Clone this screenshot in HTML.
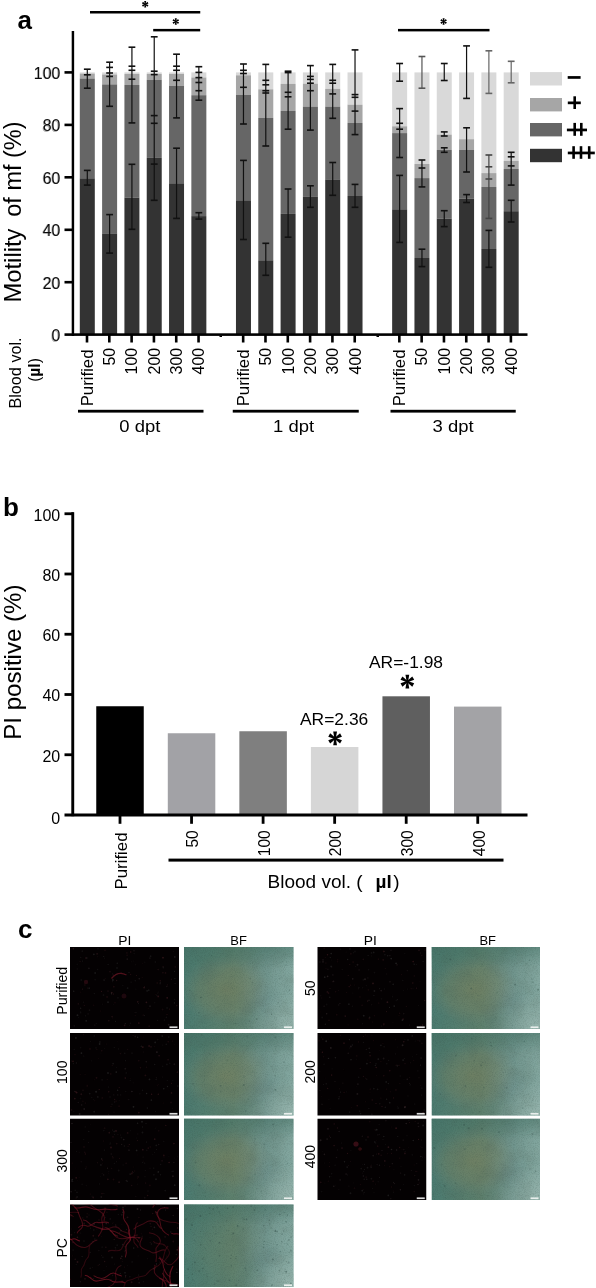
<!DOCTYPE html>
<html><head><meta charset="utf-8"><title>Figure</title>
<style>
html,body{margin:0;padding:0;background:#fff;}
body{width:596px;height:1288px;overflow:hidden;position:relative;font-family:"Liberation Sans",sans-serif;}
svg{position:absolute;left:0;top:0;filter:blur(0.35px);}
</style></head><body>
<svg width="596" height="1288" viewBox="0 0 596 1288">
<defs>
<linearGradient id="bfbase" x1="0" y1="0" x2="1" y2="0">
 <stop offset="0" stop-color="#53857a"/><stop offset="0.45" stop-color="#688a76"/><stop offset="0.75" stop-color="#72978f"/><stop offset="1" stop-color="#8aafa8"/>
</linearGradient>
<radialGradient id="bfcenter" cx="0.38" cy="0.52" r="0.42">
 <stop offset="0" stop-color="#878a64" stop-opacity="0.62"/><stop offset="0.6" stop-color="#858b68" stop-opacity="0.38"/><stop offset="1" stop-color="#8a917e" stop-opacity="0"/>
</radialGradient>
<radialGradient id="bfright" cx="1.0" cy="0.42" r="0.5">
 <stop offset="0" stop-color="#a2c4bd" stop-opacity="0.4"/><stop offset="1" stop-color="#adcdc6" stop-opacity="0"/>
</radialGradient>
<radialGradient id="bfblue" cx="0.7" cy="0.65" r="0.22">
 <stop offset="0" stop-color="#7093a0" stop-opacity="0.15"/><stop offset="1" stop-color="#6a8fa0" stop-opacity="0"/>
</radialGradient>
<radialGradient id="bftl" cx="0.0" cy="0.0" r="0.5">
 <stop offset="0" stop-color="#4f7c70" stop-opacity="0.6"/><stop offset="1" stop-color="#4f7c70" stop-opacity="0"/>
</radialGradient>
<radialGradient id="bfbr" cx="1.0" cy="1.0" r="0.45">
 <stop offset="0" stop-color="#b9d3cc" stop-opacity="0.7"/><stop offset="1" stop-color="#b9d3cc" stop-opacity="0"/>
</radialGradient>
<linearGradient id="bftop" x1="0" y1="0" x2="0" y2="1">
 <stop offset="0" stop-color="#4a7a6c" stop-opacity="0.45"/><stop offset="0.25" stop-color="#4a7a6c" stop-opacity="0"/>
</linearGradient>
<filter id="mottle" x="0" y="0" width="1" height="1" color-interpolation-filters="sRGB">
 <feTurbulence type="fractalNoise" baseFrequency="0.06" numOctaves="3" seed="11" result="n"/>
 <feColorMatrix in="n" type="matrix" values="0 0 0 0 0.30  0 0 0 0 0.38  0 0 0 0 0.33  0 0 0 3 -1.3" result="m"/>
 <feComposite in="m" in2="SourceGraphic" operator="in"/>
</filter>
<filter id="speck" x="0" y="0" width="1" height="1" color-interpolation-filters="sRGB">
 <feTurbulence type="fractalNoise" baseFrequency="0.9" numOctaves="2" seed="3" result="n"/>
 <feColorMatrix in="n" type="matrix" values="0 0 0 0 0.15  0 0 0 0 0.25  0 0 0 0 0.22  0 0 0 -2.2 1.25" result="m"/>
 <feComposite in="m" in2="SourceGraphic" operator="in"/>
</filter>
<filter id="wblur" x="-60%" y="-60%" width="220%" height="220%"><feGaussianBlur stdDeviation="0.55"/></filter>
<clipPath id="pcclip"><rect x="70" y="1204.5" width="108.75" height="82.5"/></clipPath>
</defs>
<rect width="596" height="1288" fill="#fff"/>
<text x="17.5" y="29" font-family="Liberation Sans, sans-serif" font-weight="bold" font-size="26">a</text>
<rect x="71.7" y="31" width="2.45" height="305" fill="#000"/>
<rect x="64.5" y="71.10" width="9" height="2.6" fill="#000"/>
<text transform="translate(60.5,78.70) scale(0.97,1)" font-family="Liberation Sans, sans-serif" font-size="16.5" text-anchor="end" fill="#111">100</text>
<text transform="translate(59.3,79.00) scale(0.97,1)" font-family="Liberation Sans, sans-serif" font-size="16" text-anchor="end" fill="#000" opacity="0.3">100</text>
<rect x="64.5" y="123.60" width="9" height="2.6" fill="#000"/>
<text transform="translate(60.5,131.20) scale(0.97,1)" font-family="Liberation Sans, sans-serif" font-size="16.5" text-anchor="end" fill="#111">80</text>
<text transform="translate(59.3,131.50) scale(0.97,1)" font-family="Liberation Sans, sans-serif" font-size="16" text-anchor="end" fill="#000" opacity="0.3">80</text>
<rect x="64.5" y="176.00" width="9" height="2.6" fill="#000"/>
<text transform="translate(60.5,183.60) scale(0.97,1)" font-family="Liberation Sans, sans-serif" font-size="16.5" text-anchor="end" fill="#111">60</text>
<text transform="translate(59.3,183.90) scale(0.97,1)" font-family="Liberation Sans, sans-serif" font-size="16" text-anchor="end" fill="#000" opacity="0.3">60</text>
<rect x="64.5" y="228.50" width="9" height="2.6" fill="#000"/>
<text transform="translate(60.5,236.10) scale(0.97,1)" font-family="Liberation Sans, sans-serif" font-size="16.5" text-anchor="end" fill="#111">40</text>
<text transform="translate(59.3,236.40) scale(0.97,1)" font-family="Liberation Sans, sans-serif" font-size="16" text-anchor="end" fill="#000" opacity="0.3">40</text>
<rect x="64.5" y="280.90" width="9" height="2.6" fill="#000"/>
<text transform="translate(60.5,288.50) scale(0.97,1)" font-family="Liberation Sans, sans-serif" font-size="16.5" text-anchor="end" fill="#111">20</text>
<text transform="translate(59.3,288.80) scale(0.97,1)" font-family="Liberation Sans, sans-serif" font-size="16" text-anchor="end" fill="#000" opacity="0.3">20</text>
<text transform="translate(60.5,341.20) scale(0.97,1)" font-family="Liberation Sans, sans-serif" font-size="16.5" text-anchor="end" fill="#111">0</text>
<text transform="translate(59.3,341.50) scale(0.97,1)" font-family="Liberation Sans, sans-serif" font-size="16" text-anchor="end" fill="#000" opacity="0.3">0</text>
<text transform="translate(21.2,302.6) rotate(-90) scale(1.014,1)" font-family="Liberation Sans, sans-serif" font-size="23.5">Motility</text>
<text transform="translate(21.2,121.4) rotate(-90)" font-family="Liberation Sans, sans-serif" font-size="23.5" text-anchor="end">of mf (%)</text>
<rect x="79.80" y="72.4" width="15.0" height="1.20" fill="#d9d9d9"/>
<rect x="79.80" y="73.6" width="15.0" height="4.90" fill="#a6a6a6"/>
<rect x="79.80" y="78.5" width="15.0" height="99.80" fill="#666666"/>
<rect x="79.80" y="178.3" width="15.0" height="156.30" fill="#333333"/>
<rect x="102.11" y="72.4" width="15.0" height="2.10" fill="#d9d9d9"/>
<rect x="102.11" y="74.5" width="15.0" height="9.90" fill="#a6a6a6"/>
<rect x="102.11" y="84.4" width="15.0" height="149.00" fill="#666666"/>
<rect x="102.11" y="233.4" width="15.0" height="101.20" fill="#333333"/>
<rect x="124.42" y="72.4" width="15.0" height="1.60" fill="#d9d9d9"/>
<rect x="124.42" y="74.0" width="15.0" height="11.00" fill="#a6a6a6"/>
<rect x="124.42" y="85.0" width="15.0" height="112.60" fill="#666666"/>
<rect x="124.42" y="197.6" width="15.0" height="137.00" fill="#333333"/>
<rect x="146.73" y="72.4" width="15.0" height="1.60" fill="#d9d9d9"/>
<rect x="146.73" y="74.0" width="15.0" height="5.80" fill="#a6a6a6"/>
<rect x="146.73" y="79.8" width="15.0" height="78.10" fill="#666666"/>
<rect x="146.73" y="157.9" width="15.0" height="176.70" fill="#333333"/>
<rect x="169.04" y="72.4" width="15.0" height="1.60" fill="#d9d9d9"/>
<rect x="169.04" y="74.0" width="15.0" height="11.80" fill="#a6a6a6"/>
<rect x="169.04" y="85.8" width="15.0" height="97.50" fill="#666666"/>
<rect x="169.04" y="183.3" width="15.0" height="151.30" fill="#333333"/>
<rect x="191.35" y="72.4" width="15.0" height="5.10" fill="#d9d9d9"/>
<rect x="191.35" y="77.5" width="15.0" height="17.70" fill="#a6a6a6"/>
<rect x="191.35" y="95.2" width="15.0" height="120.90" fill="#666666"/>
<rect x="191.35" y="216.1" width="15.0" height="118.50" fill="#333333"/>
<rect x="235.97" y="72.4" width="15.0" height="2.90" fill="#d9d9d9"/>
<rect x="235.97" y="75.3" width="15.0" height="19.70" fill="#a6a6a6"/>
<rect x="235.97" y="95.0" width="15.0" height="105.30" fill="#666666"/>
<rect x="235.97" y="200.3" width="15.0" height="134.30" fill="#333333"/>
<rect x="258.28" y="72.4" width="15.0" height="16.90" fill="#d9d9d9"/>
<rect x="258.28" y="89.3" width="15.0" height="28.60" fill="#a6a6a6"/>
<rect x="258.28" y="117.9" width="15.0" height="142.40" fill="#666666"/>
<rect x="258.28" y="260.3" width="15.0" height="74.30" fill="#333333"/>
<rect x="280.59" y="72.4" width="15.0" height="11.50" fill="#d9d9d9"/>
<rect x="280.59" y="83.9" width="15.0" height="27.00" fill="#a6a6a6"/>
<rect x="280.59" y="110.9" width="15.0" height="103.00" fill="#666666"/>
<rect x="280.59" y="213.9" width="15.0" height="120.70" fill="#333333"/>
<rect x="302.90" y="72.4" width="15.0" height="11.30" fill="#d9d9d9"/>
<rect x="302.90" y="83.7" width="15.0" height="22.90" fill="#a6a6a6"/>
<rect x="302.90" y="106.6" width="15.0" height="90.30" fill="#666666"/>
<rect x="302.90" y="196.9" width="15.0" height="137.70" fill="#333333"/>
<rect x="325.21" y="72.4" width="15.0" height="16.50" fill="#d9d9d9"/>
<rect x="325.21" y="88.9" width="15.0" height="17.70" fill="#a6a6a6"/>
<rect x="325.21" y="106.6" width="15.0" height="72.80" fill="#666666"/>
<rect x="325.21" y="179.4" width="15.0" height="155.20" fill="#333333"/>
<rect x="347.52" y="72.4" width="15.0" height="32.30" fill="#d9d9d9"/>
<rect x="347.52" y="104.7" width="15.0" height="18.20" fill="#a6a6a6"/>
<rect x="347.52" y="122.9" width="15.0" height="73.10" fill="#666666"/>
<rect x="347.52" y="196.0" width="15.0" height="138.60" fill="#333333"/>
<rect x="392.14" y="72.4" width="15.0" height="53.90" fill="#d9d9d9"/>
<rect x="392.14" y="126.3" width="15.0" height="6.80" fill="#a6a6a6"/>
<rect x="392.14" y="133.1" width="15.0" height="76.20" fill="#666666"/>
<rect x="392.14" y="209.3" width="15.0" height="125.30" fill="#333333"/>
<rect x="414.45" y="72.4" width="15.0" height="91.60" fill="#d9d9d9"/>
<rect x="414.45" y="164.0" width="15.0" height="14.10" fill="#a6a6a6"/>
<rect x="414.45" y="178.1" width="15.0" height="79.90" fill="#666666"/>
<rect x="414.45" y="258.0" width="15.0" height="76.60" fill="#333333"/>
<rect x="436.76" y="72.4" width="15.0" height="62.20" fill="#d9d9d9"/>
<rect x="436.76" y="134.6" width="15.0" height="15.40" fill="#a6a6a6"/>
<rect x="436.76" y="150.0" width="15.0" height="68.60" fill="#666666"/>
<rect x="436.76" y="218.6" width="15.0" height="116.00" fill="#333333"/>
<rect x="459.07" y="72.4" width="15.0" height="66.80" fill="#d9d9d9"/>
<rect x="459.07" y="139.2" width="15.0" height="10.80" fill="#a6a6a6"/>
<rect x="459.07" y="150.0" width="15.0" height="48.70" fill="#666666"/>
<rect x="459.07" y="198.7" width="15.0" height="135.90" fill="#333333"/>
<rect x="481.38" y="72.4" width="15.0" height="100.70" fill="#d9d9d9"/>
<rect x="481.38" y="173.1" width="15.0" height="13.80" fill="#a6a6a6"/>
<rect x="481.38" y="186.9" width="15.0" height="62.10" fill="#666666"/>
<rect x="481.38" y="249.0" width="15.0" height="85.60" fill="#333333"/>
<rect x="503.69" y="72.4" width="15.0" height="88.50" fill="#d9d9d9"/>
<rect x="503.69" y="160.9" width="15.0" height="8.10" fill="#a6a6a6"/>
<rect x="503.69" y="169.0" width="15.0" height="42.20" fill="#666666"/>
<rect x="503.69" y="211.2" width="15.0" height="123.40" fill="#333333"/>
<rect x="86.70" y="69.2" width="1.2" height="19.00" fill="#111"/>
<rect x="83.90" y="68.40" width="6.8" height="1.6" fill="#111"/>
<rect x="83.90" y="74.00" width="6.8" height="1.6" fill="#111"/>
<rect x="83.90" y="87.40" width="6.8" height="1.6" fill="#111"/>
<rect x="86.70" y="170.4" width="1.2" height="14.70" fill="#111"/>
<rect x="83.90" y="169.60" width="6.8" height="1.6" fill="#111"/>
<rect x="83.90" y="184.30" width="6.8" height="1.6" fill="#111"/>
<rect x="109.01" y="62.2" width="1.2" height="44.10" fill="#111"/>
<rect x="106.21" y="61.40" width="6.8" height="1.6" fill="#111"/>
<rect x="106.21" y="66.60" width="6.8" height="1.6" fill="#111"/>
<rect x="106.21" y="72.20" width="6.8" height="1.6" fill="#111"/>
<rect x="106.21" y="75.60" width="6.8" height="1.6" fill="#111"/>
<rect x="106.21" y="105.50" width="6.8" height="1.6" fill="#111"/>
<rect x="109.01" y="214.6" width="1.2" height="38.50" fill="#111"/>
<rect x="106.21" y="213.80" width="6.8" height="1.6" fill="#111"/>
<rect x="106.21" y="252.30" width="6.8" height="1.6" fill="#111"/>
<rect x="131.32" y="47.2" width="1.2" height="75.70" fill="#111"/>
<rect x="128.52" y="46.40" width="6.8" height="1.6" fill="#111"/>
<rect x="128.52" y="65.40" width="6.8" height="1.6" fill="#111"/>
<rect x="128.52" y="69.50" width="6.8" height="1.6" fill="#111"/>
<rect x="128.52" y="78.40" width="6.8" height="1.6" fill="#111"/>
<rect x="128.52" y="122.10" width="6.8" height="1.6" fill="#111"/>
<rect x="131.32" y="164.3" width="1.2" height="65.00" fill="#111"/>
<rect x="128.52" y="163.50" width="6.8" height="1.6" fill="#111"/>
<rect x="128.52" y="228.50" width="6.8" height="1.6" fill="#111"/>
<rect x="153.63" y="36.8" width="1.2" height="163.50" fill="#111"/>
<rect x="150.83" y="36.00" width="6.8" height="1.6" fill="#111"/>
<rect x="150.83" y="70.40" width="6.8" height="1.6" fill="#111"/>
<rect x="150.83" y="73.80" width="6.8" height="1.6" fill="#111"/>
<rect x="150.83" y="114.80" width="6.8" height="1.6" fill="#111"/>
<rect x="150.83" y="122.50" width="6.8" height="1.6" fill="#111"/>
<rect x="150.83" y="163.30" width="6.8" height="1.6" fill="#111"/>
<rect x="150.83" y="199.50" width="6.8" height="1.6" fill="#111"/>
<rect x="175.94" y="54.2" width="1.2" height="63.70" fill="#111"/>
<rect x="173.14" y="53.40" width="6.8" height="1.6" fill="#111"/>
<rect x="173.14" y="65.40" width="6.8" height="1.6" fill="#111"/>
<rect x="173.14" y="69.50" width="6.8" height="1.6" fill="#111"/>
<rect x="173.14" y="79.50" width="6.8" height="1.6" fill="#111"/>
<rect x="173.14" y="117.10" width="6.8" height="1.6" fill="#111"/>
<rect x="175.94" y="148.2" width="1.2" height="70.20" fill="#111"/>
<rect x="173.14" y="147.40" width="6.8" height="1.6" fill="#111"/>
<rect x="173.14" y="217.60" width="6.8" height="1.6" fill="#111"/>
<rect x="198.25" y="66.7" width="1.2" height="33.50" fill="#111"/>
<rect x="195.45" y="65.90" width="6.8" height="1.6" fill="#111"/>
<rect x="195.45" y="71.60" width="6.8" height="1.6" fill="#111"/>
<rect x="195.45" y="76.80" width="6.8" height="1.6" fill="#111"/>
<rect x="195.45" y="81.70" width="6.8" height="1.6" fill="#111"/>
<rect x="195.45" y="89.90" width="6.8" height="1.6" fill="#111"/>
<rect x="195.45" y="99.40" width="6.8" height="1.6" fill="#111"/>
<rect x="198.25" y="212.7" width="1.2" height="6.40" fill="#111"/>
<rect x="195.45" y="211.90" width="6.8" height="1.6" fill="#111"/>
<rect x="195.45" y="218.30" width="6.8" height="1.6" fill="#111"/>
<rect x="242.87" y="64" width="1.2" height="60.00" fill="#111"/>
<rect x="240.07" y="63.20" width="6.8" height="1.6" fill="#111"/>
<rect x="240.07" y="69.50" width="6.8" height="1.6" fill="#111"/>
<rect x="240.07" y="72.70" width="6.8" height="1.6" fill="#111"/>
<rect x="240.07" y="86.50" width="6.8" height="1.6" fill="#111"/>
<rect x="240.07" y="123.20" width="6.8" height="1.6" fill="#111"/>
<rect x="242.87" y="160.4" width="1.2" height="79.10" fill="#111"/>
<rect x="240.07" y="159.60" width="6.8" height="1.6" fill="#111"/>
<rect x="240.07" y="238.70" width="6.8" height="1.6" fill="#111"/>
<rect x="265.18" y="64.4" width="1.2" height="81.60" fill="#111"/>
<rect x="262.38" y="63.60" width="6.8" height="1.6" fill="#111"/>
<rect x="262.38" y="79.50" width="6.8" height="1.6" fill="#111"/>
<rect x="262.38" y="84.00" width="6.8" height="1.6" fill="#111"/>
<rect x="262.38" y="89.90" width="6.8" height="1.6" fill="#111"/>
<rect x="262.38" y="92.20" width="6.8" height="1.6" fill="#111"/>
<rect x="262.38" y="145.20" width="6.8" height="1.6" fill="#111"/>
<rect x="265.18" y="243.3" width="1.2" height="32.00" fill="#111"/>
<rect x="262.38" y="242.50" width="6.8" height="1.6" fill="#111"/>
<rect x="262.38" y="274.50" width="6.8" height="1.6" fill="#111"/>
<rect x="287.49" y="71.2" width="1.2" height="58.00" fill="#111"/>
<rect x="284.69" y="70.40" width="6.8" height="1.6" fill="#111"/>
<rect x="284.69" y="71.80" width="6.8" height="1.6" fill="#111"/>
<rect x="284.69" y="91.50" width="6.8" height="1.6" fill="#111"/>
<rect x="284.69" y="96.00" width="6.8" height="1.6" fill="#111"/>
<rect x="284.69" y="128.40" width="6.8" height="1.6" fill="#111"/>
<rect x="287.49" y="189" width="1.2" height="48.20" fill="#111"/>
<rect x="284.69" y="188.20" width="6.8" height="1.6" fill="#111"/>
<rect x="284.69" y="236.40" width="6.8" height="1.6" fill="#111"/>
<rect x="309.80" y="65.6" width="1.2" height="64.50" fill="#111"/>
<rect x="307.00" y="64.80" width="6.8" height="1.6" fill="#111"/>
<rect x="307.00" y="75.60" width="6.8" height="1.6" fill="#111"/>
<rect x="307.00" y="78.60" width="6.8" height="1.6" fill="#111"/>
<rect x="307.00" y="82.40" width="6.8" height="1.6" fill="#111"/>
<rect x="307.00" y="89.90" width="6.8" height="1.6" fill="#111"/>
<rect x="307.00" y="129.30" width="6.8" height="1.6" fill="#111"/>
<rect x="309.80" y="185.8" width="1.2" height="21.50" fill="#111"/>
<rect x="307.00" y="185.00" width="6.8" height="1.6" fill="#111"/>
<rect x="307.00" y="206.50" width="6.8" height="1.6" fill="#111"/>
<rect x="332.11" y="64.4" width="1.2" height="53.90" fill="#111"/>
<rect x="329.31" y="63.60" width="6.8" height="1.6" fill="#111"/>
<rect x="329.31" y="79.50" width="6.8" height="1.6" fill="#111"/>
<rect x="329.31" y="82.40" width="6.8" height="1.6" fill="#111"/>
<rect x="329.31" y="93.10" width="6.8" height="1.6" fill="#111"/>
<rect x="329.31" y="117.50" width="6.8" height="1.6" fill="#111"/>
<rect x="332.11" y="162.5" width="1.2" height="32.80" fill="#111"/>
<rect x="329.31" y="161.70" width="6.8" height="1.6" fill="#111"/>
<rect x="329.31" y="194.50" width="6.8" height="1.6" fill="#111"/>
<rect x="354.42" y="49.9" width="1.2" height="84.70" fill="#111"/>
<rect x="351.62" y="49.10" width="6.8" height="1.6" fill="#111"/>
<rect x="351.62" y="93.80" width="6.8" height="1.6" fill="#111"/>
<rect x="351.62" y="96.50" width="6.8" height="1.6" fill="#111"/>
<rect x="351.62" y="110.30" width="6.8" height="1.6" fill="#111"/>
<rect x="351.62" y="133.80" width="6.8" height="1.6" fill="#111"/>
<rect x="354.42" y="184.4" width="1.2" height="22.90" fill="#111"/>
<rect x="351.62" y="183.60" width="6.8" height="1.6" fill="#111"/>
<rect x="351.62" y="206.50" width="6.8" height="1.6" fill="#111"/>
<rect x="399.04" y="63.5" width="1.2" height="17.70" fill="#111"/>
<rect x="396.24" y="62.70" width="6.8" height="1.6" fill="#111"/>
<rect x="396.24" y="80.40" width="6.8" height="1.6" fill="#111"/>
<rect x="399.04" y="108.6" width="1.2" height="48.90" fill="#111"/>
<rect x="396.24" y="107.80" width="6.8" height="1.6" fill="#111"/>
<rect x="396.24" y="122.50" width="6.8" height="1.6" fill="#111"/>
<rect x="396.24" y="128.40" width="6.8" height="1.6" fill="#111"/>
<rect x="396.24" y="156.70" width="6.8" height="1.6" fill="#111"/>
<rect x="399.04" y="175.4" width="1.2" height="67.00" fill="#111"/>
<rect x="396.24" y="174.60" width="6.8" height="1.6" fill="#111"/>
<rect x="396.24" y="241.60" width="6.8" height="1.6" fill="#111"/>
<rect x="421.35" y="56.5" width="1.2" height="31.70" fill="#555"/>
<rect x="418.55" y="55.70" width="6.8" height="1.6" fill="#555"/>
<rect x="418.55" y="87.40" width="6.8" height="1.6" fill="#555"/>
<rect x="421.35" y="160" width="1.2" height="26.90" fill="#111"/>
<rect x="418.55" y="159.20" width="6.8" height="1.6" fill="#111"/>
<rect x="418.55" y="167.20" width="6.8" height="1.6" fill="#111"/>
<rect x="418.55" y="186.10" width="6.8" height="1.6" fill="#111"/>
<rect x="421.35" y="249.2" width="1.2" height="17.40" fill="#111"/>
<rect x="418.55" y="248.40" width="6.8" height="1.6" fill="#111"/>
<rect x="418.55" y="265.80" width="6.8" height="1.6" fill="#111"/>
<rect x="443.66" y="63.5" width="1.2" height="17.00" fill="#111"/>
<rect x="440.86" y="62.70" width="6.8" height="1.6" fill="#111"/>
<rect x="440.86" y="79.70" width="6.8" height="1.6" fill="#111"/>
<rect x="443.66" y="131.9" width="1.2" height="4.10" fill="#111"/>
<rect x="440.86" y="131.10" width="6.8" height="1.6" fill="#111"/>
<rect x="440.86" y="135.20" width="6.8" height="1.6" fill="#111"/>
<rect x="443.66" y="147.8" width="1.2" height="4.50" fill="#111"/>
<rect x="440.86" y="147.00" width="6.8" height="1.6" fill="#111"/>
<rect x="440.86" y="151.50" width="6.8" height="1.6" fill="#111"/>
<rect x="443.66" y="210.7" width="1.2" height="15.90" fill="#111"/>
<rect x="440.86" y="209.90" width="6.8" height="1.6" fill="#111"/>
<rect x="440.86" y="225.80" width="6.8" height="1.6" fill="#111"/>
<rect x="465.97" y="45.9" width="1.2" height="52.50" fill="#111"/>
<rect x="463.17" y="45.10" width="6.8" height="1.6" fill="#111"/>
<rect x="463.17" y="97.60" width="6.8" height="1.6" fill="#111"/>
<rect x="465.97" y="127.8" width="1.2" height="44.20" fill="#111"/>
<rect x="463.17" y="127.00" width="6.8" height="1.6" fill="#111"/>
<rect x="463.17" y="171.20" width="6.8" height="1.6" fill="#111"/>
<rect x="465.97" y="194.6" width="1.2" height="7.90" fill="#111"/>
<rect x="463.17" y="193.80" width="6.8" height="1.6" fill="#111"/>
<rect x="463.17" y="201.70" width="6.8" height="1.6" fill="#111"/>
<rect x="488.28" y="50.8" width="1.2" height="42.60" fill="#666"/>
<rect x="485.48" y="50.00" width="6.8" height="1.6" fill="#666"/>
<rect x="485.48" y="92.60" width="6.8" height="1.6" fill="#666"/>
<rect x="488.28" y="155" width="1.2" height="63.40" fill="#444"/>
<rect x="485.48" y="154.20" width="6.8" height="1.6" fill="#444"/>
<rect x="485.48" y="166.00" width="6.8" height="1.6" fill="#444"/>
<rect x="485.48" y="178.20" width="6.8" height="1.6" fill="#444"/>
<rect x="485.48" y="217.60" width="6.8" height="1.6" fill="#444"/>
<rect x="488.28" y="230.4" width="1.2" height="36.90" fill="#111"/>
<rect x="485.48" y="229.60" width="6.8" height="1.6" fill="#111"/>
<rect x="485.48" y="266.50" width="6.8" height="1.6" fill="#111"/>
<rect x="510.59" y="61.3" width="1.2" height="21.50" fill="#666"/>
<rect x="507.79" y="60.50" width="6.8" height="1.6" fill="#666"/>
<rect x="507.79" y="82.00" width="6.8" height="1.6" fill="#666"/>
<rect x="510.59" y="152.3" width="1.2" height="32.80" fill="#111"/>
<rect x="507.79" y="151.50" width="6.8" height="1.6" fill="#111"/>
<rect x="507.79" y="156.00" width="6.8" height="1.6" fill="#111"/>
<rect x="507.79" y="165.10" width="6.8" height="1.6" fill="#111"/>
<rect x="507.79" y="184.30" width="6.8" height="1.6" fill="#111"/>
<rect x="510.59" y="200.3" width="1.2" height="21.70" fill="#111"/>
<rect x="507.79" y="199.50" width="6.8" height="1.6" fill="#111"/>
<rect x="507.79" y="221.20" width="6.8" height="1.6" fill="#111"/>
<rect x="64.5" y="333.3" width="463" height="2.6" fill="#000"/>
<rect x="219.5" y="335.5" width="2.5" height="1.5" fill="#000"/>
<rect x="376.5" y="335.5" width="2.5" height="1.5" fill="#000"/>
<rect x="85.70" y="334" width="2.6" height="8.5" fill="#000"/>
<text transform="translate(92.80,349.5) rotate(-90) scale(1.048,1)" font-family="Liberation Sans, sans-serif" font-size="16" text-anchor="end">Purified</text>
<rect x="108.01" y="334" width="2.6" height="8.5" fill="#000"/>
<text transform="translate(115.11,347.8) rotate(-90)" font-family="Liberation Sans, sans-serif" font-size="16" text-anchor="end">50</text>
<rect x="130.32" y="334" width="2.6" height="8.5" fill="#000"/>
<text transform="translate(137.42,347.8) rotate(-90)" font-family="Liberation Sans, sans-serif" font-size="16" text-anchor="end">100</text>
<rect x="152.63" y="334" width="2.6" height="8.5" fill="#000"/>
<text transform="translate(159.73,347.8) rotate(-90)" font-family="Liberation Sans, sans-serif" font-size="16" text-anchor="end">200</text>
<rect x="174.94" y="334" width="2.6" height="8.5" fill="#000"/>
<text transform="translate(182.04,347.8) rotate(-90)" font-family="Liberation Sans, sans-serif" font-size="16" text-anchor="end">300</text>
<rect x="197.25" y="334" width="2.6" height="8.5" fill="#000"/>
<text transform="translate(204.35,347.8) rotate(-90)" font-family="Liberation Sans, sans-serif" font-size="16" text-anchor="end">400</text>
<rect x="241.87" y="334" width="2.6" height="8.5" fill="#000"/>
<text transform="translate(248.97,349.5) rotate(-90) scale(1.048,1)" font-family="Liberation Sans, sans-serif" font-size="16" text-anchor="end">Purified</text>
<rect x="264.18" y="334" width="2.6" height="8.5" fill="#000"/>
<text transform="translate(271.28,347.8) rotate(-90)" font-family="Liberation Sans, sans-serif" font-size="16" text-anchor="end">50</text>
<rect x="286.49" y="334" width="2.6" height="8.5" fill="#000"/>
<text transform="translate(293.59,347.8) rotate(-90)" font-family="Liberation Sans, sans-serif" font-size="16" text-anchor="end">100</text>
<rect x="308.80" y="334" width="2.6" height="8.5" fill="#000"/>
<text transform="translate(315.90,347.8) rotate(-90)" font-family="Liberation Sans, sans-serif" font-size="16" text-anchor="end">200</text>
<rect x="331.11" y="334" width="2.6" height="8.5" fill="#000"/>
<text transform="translate(338.21,347.8) rotate(-90)" font-family="Liberation Sans, sans-serif" font-size="16" text-anchor="end">300</text>
<rect x="353.42" y="334" width="2.6" height="8.5" fill="#000"/>
<text transform="translate(360.52,347.8) rotate(-90)" font-family="Liberation Sans, sans-serif" font-size="16" text-anchor="end">400</text>
<rect x="398.04" y="334" width="2.6" height="8.5" fill="#000"/>
<text transform="translate(405.14,349.5) rotate(-90) scale(1.048,1)" font-family="Liberation Sans, sans-serif" font-size="16" text-anchor="end">Purified</text>
<rect x="420.35" y="334" width="2.6" height="8.5" fill="#000"/>
<text transform="translate(427.45,347.8) rotate(-90)" font-family="Liberation Sans, sans-serif" font-size="16" text-anchor="end">50</text>
<rect x="442.66" y="334" width="2.6" height="8.5" fill="#000"/>
<text transform="translate(449.76,347.8) rotate(-90)" font-family="Liberation Sans, sans-serif" font-size="16" text-anchor="end">100</text>
<rect x="464.97" y="334" width="2.6" height="8.5" fill="#000"/>
<text transform="translate(472.07,347.8) rotate(-90)" font-family="Liberation Sans, sans-serif" font-size="16" text-anchor="end">200</text>
<rect x="487.28" y="334" width="2.6" height="8.5" fill="#000"/>
<text transform="translate(494.38,347.8) rotate(-90)" font-family="Liberation Sans, sans-serif" font-size="16" text-anchor="end">300</text>
<rect x="509.59" y="334" width="2.6" height="8.5" fill="#000"/>
<text transform="translate(516.69,347.8) rotate(-90)" font-family="Liberation Sans, sans-serif" font-size="16" text-anchor="end">400</text>
<rect x="78" y="409.8" width="125.5" height="2.8" fill="#000"/>
<text transform="translate(139.9,431.9) scale(1.12,1)" font-family="Liberation Sans, sans-serif" font-size="16.5" text-anchor="middle">0 dpt</text>
<rect x="232.75" y="409.8" width="126.0" height="2.8" fill="#000"/>
<text transform="translate(293.6,431.9) scale(1.12,1)" font-family="Liberation Sans, sans-serif" font-size="16.5" text-anchor="middle">1 dpt</text>
<rect x="390.5" y="409.8" width="125.25" height="2.8" fill="#000"/>
<text transform="translate(453.1,431.9) scale(1.12,1)" font-family="Liberation Sans, sans-serif" font-size="16.5" text-anchor="middle">3 dpt</text>
<text transform="translate(21.1,373) rotate(-90) scale(1.04,1)" font-family="Liberation Sans, sans-serif" font-size="15.6" text-anchor="middle">Blood vol.</text>
<text transform="translate(39.5,370) rotate(-90)" font-family="Liberation Sans, sans-serif" font-size="15.6" text-anchor="middle">(<tspan font-weight="bold">µl</tspan>)</text>
<rect x="90" y="11" width="110.25" height="2.5" fill="#000"/>
<polygon points="145.60,4.30 146.20,1.10 144.20,1.10 144.80,4.30" fill="#000"/><polygon points="145.40,4.65 148.47,3.57 147.47,1.83 145.00,3.95" fill="#000"/><polygon points="145.00,4.65 147.47,6.77 148.47,5.03 145.40,3.95" fill="#000"/><polygon points="144.80,4.30 144.20,7.50 146.20,7.50 145.60,4.30" fill="#000"/><polygon points="145.00,3.95 141.93,5.03 142.93,6.77 145.40,4.65" fill="#000"/><polygon points="145.40,3.95 142.93,1.83 141.93,3.57 145.00,4.65" fill="#000"/><circle cx="145.2" cy="4.3" r="0.88" fill="#000"/>
<rect x="153.2" y="28.9" width="47" height="2.5" fill="#000"/>
<polygon points="176.20,21.50 176.80,18.30 174.80,18.30 175.40,21.50" fill="#000"/><polygon points="176.00,21.85 179.07,20.77 178.07,19.03 175.60,21.15" fill="#000"/><polygon points="175.60,21.85 178.07,23.97 179.07,22.23 176.00,21.15" fill="#000"/><polygon points="175.40,21.50 174.80,24.70 176.80,24.70 176.20,21.50" fill="#000"/><polygon points="175.60,21.15 172.53,22.23 173.53,23.97 176.00,21.85" fill="#000"/><polygon points="176.00,21.15 173.53,19.03 172.53,20.77 175.60,21.85" fill="#000"/><circle cx="175.8" cy="21.5" r="0.88" fill="#000"/>
<rect x="398" y="28.9" width="91.5" height="2.5" fill="#000"/>
<polygon points="444.00,21.50 444.60,18.30 442.60,18.30 443.20,21.50" fill="#000"/><polygon points="443.80,21.85 446.87,20.77 445.87,19.03 443.40,21.15" fill="#000"/><polygon points="443.40,21.85 445.87,23.97 446.87,22.23 443.80,21.15" fill="#000"/><polygon points="443.20,21.50 442.60,24.70 444.60,24.70 444.00,21.50" fill="#000"/><polygon points="443.40,21.15 440.33,22.23 441.33,23.97 443.80,21.85" fill="#000"/><polygon points="443.80,21.15 441.33,19.03 440.33,20.77 443.40,21.85" fill="#000"/><circle cx="443.6" cy="21.5" r="0.88" fill="#000"/>
<rect x="530" y="72.1" width="32" height="13.4" fill="#d9d9d9"/>
<rect x="530" y="98.0" width="32" height="13.4" fill="#a6a6a6"/>
<rect x="530" y="123.0" width="32" height="13.4" fill="#666666"/>
<rect x="530" y="148.8" width="32" height="13.4" fill="#333333"/>
<rect x="567.7" y="76.1" width="12.9" height="2.7" fill="#000"/>
<rect x="567.8" y="101.5" width="13" height="2.7" fill="#000"/>
<rect x="573.4" y="96.3" width="2.6" height="12.7" fill="#000"/>
<rect x="566.9" y="128.6" width="20.1" height="2.7" fill="#000"/>
<rect x="573.4" y="122.9" width="2.6" height="12.9" fill="#000"/>
<rect x="580.0" y="122.9" width="2.6" height="12.9" fill="#000"/>
<rect x="567.8" y="151.6" width="27" height="2.7" fill="#000"/>
<rect x="572.3" y="146.2" width="2.6" height="12.6" fill="#000"/>
<rect x="579.7" y="146.2" width="2.6" height="12.6" fill="#000"/>
<rect x="587.9" y="146.2" width="2.6" height="12.6" fill="#000"/>
<text x="3" y="516.3" font-family="Liberation Sans, sans-serif" font-weight="bold" font-size="26">b</text>
<rect x="71.3" y="512.2" width="2.9" height="304" fill="#000"/>
<rect x="64.5" y="512.35" width="9" height="2.8" fill="#000"/>
<text x="60.2" y="520.65" font-family="Liberation Sans, sans-serif" font-size="16" text-anchor="end">100</text>
<rect x="64.5" y="572.60" width="9" height="2.8" fill="#000"/>
<text x="60.2" y="580.90" font-family="Liberation Sans, sans-serif" font-size="16" text-anchor="end">80</text>
<rect x="64.5" y="632.85" width="9" height="2.8" fill="#000"/>
<text x="60.2" y="641.15" font-family="Liberation Sans, sans-serif" font-size="16" text-anchor="end">60</text>
<rect x="64.5" y="693.10" width="9" height="2.8" fill="#000"/>
<text x="60.2" y="701.40" font-family="Liberation Sans, sans-serif" font-size="16" text-anchor="end">40</text>
<rect x="64.5" y="753.35" width="9" height="2.8" fill="#000"/>
<text x="60.2" y="761.65" font-family="Liberation Sans, sans-serif" font-size="16" text-anchor="end">20</text>
<text x="60.2" y="823.90" font-family="Liberation Sans, sans-serif" font-size="16" text-anchor="end">0</text>
<text transform="translate(21.2,662.1) rotate(-90) scale(1.025,1)" font-family="Liberation Sans, sans-serif" font-size="23.5" text-anchor="middle">PI positive (%)</text>
<rect x="96.25" y="706.25" width="47.5" height="108.75" fill="#000000"/>
<rect x="167.80" y="733.25" width="47.5" height="81.75" fill="#a2a2a6"/>
<rect x="239.35" y="731.25" width="47.5" height="83.75" fill="#7f7f7f"/>
<rect x="310.90" y="747.0" width="47.5" height="68.00" fill="#d6d6d6"/>
<rect x="382.45" y="696.3" width="47.5" height="118.70" fill="#5f5f5f"/>
<rect x="454.00" y="706.6" width="47.5" height="108.40" fill="#a3a3a6"/>
<rect x="64.5" y="813.5" width="463" height="3" fill="#000"/>
<rect x="118.60" y="815" width="2.8" height="8.8" fill="#000"/>
<text transform="translate(126.50,832.4) rotate(-90) scale(1.055,1)" font-family="Liberation Sans, sans-serif" font-size="16" text-anchor="end">Purified</text>
<rect x="190.15" y="815" width="2.8" height="8.8" fill="#000"/>
<text transform="translate(198.35,830.2) rotate(-90)" font-family="Liberation Sans, sans-serif" font-size="15.6" text-anchor="end">50</text>
<rect x="261.70" y="815" width="2.8" height="8.8" fill="#000"/>
<text transform="translate(269.90,830.2) rotate(-90)" font-family="Liberation Sans, sans-serif" font-size="15.6" text-anchor="end">100</text>
<rect x="333.25" y="815" width="2.8" height="8.8" fill="#000"/>
<text transform="translate(341.45,830.2) rotate(-90)" font-family="Liberation Sans, sans-serif" font-size="15.6" text-anchor="end">200</text>
<rect x="404.80" y="815" width="2.8" height="8.8" fill="#000"/>
<text transform="translate(413.00,830.2) rotate(-90)" font-family="Liberation Sans, sans-serif" font-size="15.6" text-anchor="end">300</text>
<rect x="476.35" y="815" width="2.8" height="8.8" fill="#000"/>
<text transform="translate(484.55,830.2) rotate(-90)" font-family="Liberation Sans, sans-serif" font-size="15.6" text-anchor="end">400</text>
<rect x="168.5" y="858.6" width="335" height="3" fill="#000"/>
<text transform="translate(267.6,887.7) scale(1.08,1)" font-family="Liberation Sans, sans-serif" font-size="17.6">Blood vol. (</text>
<text transform="translate(375.6,887.7) scale(1.08,1)" font-family="Liberation Sans, sans-serif" font-size="17.6" font-weight="bold">µl</text>
<text transform="translate(393.2,887.7) scale(1.08,1)" font-family="Liberation Sans, sans-serif" font-size="17.6">)</text>
<text transform="translate(300,725) scale(1.025,1)" font-family="Liberation Sans, sans-serif" font-size="17">AR=2.36</text>
<text transform="translate(369,668) scale(1.025,1)" font-family="Liberation Sans, sans-serif" font-size="17">AR=-1.98</text>
<polygon points="335.80,738.40 337.00,731.60 333.20,731.60 334.40,738.40" fill="#000"/><polygon points="335.45,739.01 341.94,736.65 340.04,733.35 334.75,737.79" fill="#000"/><polygon points="334.75,739.01 340.04,743.45 341.94,740.15 335.45,737.79" fill="#000"/><polygon points="334.40,738.40 333.20,745.20 337.00,745.20 335.80,738.40" fill="#000"/><polygon points="334.75,737.79 328.26,740.15 330.16,743.45 335.45,739.01" fill="#000"/><polygon points="335.45,737.79 330.16,733.35 328.26,736.65 334.75,739.01" fill="#000"/><circle cx="335.1" cy="738.4" r="1.54" fill="#000"/>
<polygon points="408.05,681.60 409.25,674.80 405.45,674.80 406.65,681.60" fill="#000"/><polygon points="407.70,682.21 414.19,679.85 412.29,676.55 407.00,680.99" fill="#000"/><polygon points="407.00,682.21 412.29,686.65 414.19,683.35 407.70,680.99" fill="#000"/><polygon points="406.65,681.60 405.45,688.40 409.25,688.40 408.05,681.60" fill="#000"/><polygon points="407.00,680.99 400.51,683.35 402.41,686.65 407.70,682.21" fill="#000"/><polygon points="407.70,680.99 402.41,676.55 400.51,679.85 407.00,682.21" fill="#000"/><circle cx="407.35" cy="681.6" r="1.54" fill="#000"/>
<text x="18" y="937.7" font-family="Liberation Sans, sans-serif" font-weight="bold" font-size="26">c</text>
<text transform="translate(124.85,944.8) scale(1.1,1)" font-family="Liberation Sans, sans-serif" font-size="12.6" text-anchor="middle">PI</text>
<text transform="translate(238.6,944.8) scale(1.03,1)" font-family="Liberation Sans, sans-serif" font-size="12.6" text-anchor="middle">BF</text>
<text transform="translate(370.35,944.8) scale(1.1,1)" font-family="Liberation Sans, sans-serif" font-size="12.6" text-anchor="middle">PI</text>
<text transform="translate(487.75,944.8) scale(1.03,1)" font-family="Liberation Sans, sans-serif" font-size="12.6" text-anchor="middle">BF</text>
<rect x="70" y="947" width="109.00" height="82.00" fill="#040102"/><circle cx="85.4" cy="1015.8" r="0.58" fill="#2a2a2a" opacity="0.50"/><circle cx="119.1" cy="1000.1" r="0.50" fill="#2e2628" opacity="0.26"/><circle cx="160.4" cy="982.6" r="0.80" fill="#2a2a2a" opacity="0.38"/><circle cx="156.8" cy="995.3" r="0.90" fill="#2a2a2a" opacity="0.27"/><circle cx="73.7" cy="991.3" r="0.79" fill="#242424" opacity="0.73"/><circle cx="148.7" cy="990.2" r="0.92" fill="#242424" opacity="0.53"/><circle cx="108.0" cy="1002.1" r="0.93" fill="#242424" opacity="0.71"/><circle cx="115.5" cy="1021.3" r="0.54" fill="#2a2a2a" opacity="0.75"/><circle cx="163.0" cy="957.7" r="0.90" fill="#3a1a1e" opacity="0.74"/><circle cx="124.6" cy="1025.4" r="0.87" fill="#331a1e" opacity="0.59"/><circle cx="103.5" cy="995.0" r="0.87" fill="#242424" opacity="0.50"/><circle cx="134.0" cy="950.8" r="0.82" fill="#2e2628" opacity="0.45"/><circle cx="142.1" cy="977.4" r="0.49" fill="#3a1a1e" opacity="0.58"/><circle cx="82.5" cy="961.1" r="0.64" fill="#242424" opacity="0.62"/><circle cx="121.2" cy="972.7" r="0.75" fill="#331a1e" opacity="0.45"/><circle cx="89.2" cy="988.2" r="0.84" fill="#2a2a2a" opacity="0.52"/><circle cx="163.1" cy="966.6" r="0.62" fill="#331a1e" opacity="0.67"/><circle cx="108.8" cy="1020.8" r="0.75" fill="#331a1e" opacity="0.61"/><circle cx="112.1" cy="1016.6" r="0.85" fill="#331a1e" opacity="0.51"/><circle cx="131.1" cy="982.1" r="0.69" fill="#2a2a2a" opacity="0.43"/><circle cx="130.3" cy="1023.3" r="0.69" fill="#242424" opacity="0.43"/><circle cx="108.0" cy="991.1" r="0.84" fill="#331a1e" opacity="0.42"/><circle cx="135.2" cy="1012.4" r="0.73" fill="#2e2628" opacity="0.34"/><circle cx="80.8" cy="992.1" r="0.47" fill="#3a1a1e" opacity="0.72"/><circle cx="78.5" cy="1017.4" r="0.46" fill="#242424" opacity="0.63"/><circle cx="97.7" cy="956.8" r="0.54" fill="#331a1e" opacity="0.40"/><circle cx="88.9" cy="968.4" r="0.78" fill="#2e2628" opacity="0.57"/><circle cx="102.5" cy="1004.2" r="0.69" fill="#242424" opacity="0.26"/><circle cx="112.4" cy="981.7" r="0.58" fill="#2e2628" opacity="0.38"/><circle cx="149.1" cy="1026.1" r="0.67" fill="#331a1e" opacity="0.74"/><circle cx="95.1" cy="979.8" r="0.81" fill="#2a2a2a" opacity="0.33"/><circle cx="146.4" cy="1002.3" r="0.87" fill="#331a1e" opacity="0.74"/><circle cx="138.5" cy="1003.6" r="0.56" fill="#242424" opacity="0.57"/><circle cx="113.3" cy="994.1" r="0.78" fill="#3a1a1e" opacity="0.46"/><circle cx="149.9" cy="958.1" r="0.89" fill="#2e2628" opacity="0.40"/><circle cx="162.9" cy="972.8" r="0.82" fill="#3a1a1e" opacity="0.46"/><circle cx="98.0" cy="948.7" r="0.75" fill="#2a2a2a" opacity="0.36"/><circle cx="167.4" cy="984.9" r="0.70" fill="#331a1e" opacity="0.44"/><circle cx="108.1" cy="964.5" r="0.75" fill="#242424" opacity="0.50"/><circle cx="171.4" cy="979.2" r="0.70" fill="#331a1e" opacity="0.41"/><circle cx="164.3" cy="1020.0" r="0.53" fill="#2a2a2a" opacity="0.68"/><circle cx="157.8" cy="993.1" r="0.62" fill="#2e2628" opacity="0.36"/><circle cx="143.2" cy="1015.0" r="0.62" fill="#331a1e" opacity="0.69"/><circle cx="144.5" cy="986.8" r="0.57" fill="#331a1e" opacity="0.61"/><circle cx="80.1" cy="961.6" r="0.56" fill="#331a1e" opacity="0.63"/><circle cx="135.2" cy="1015.3" r="0.62" fill="#3a1a1e" opacity="0.31"/><circle cx="96.2" cy="1023.5" r="0.52" fill="#242424" opacity="0.53"/><circle cx="82.2" cy="951.1" r="0.64" fill="#2a2a2a" opacity="0.75"/><circle cx="86.8" cy="958.0" r="0.76" fill="#2a2a2a" opacity="0.64"/><circle cx="111.5" cy="993.7" r="0.73" fill="#2e2628" opacity="0.73"/><circle cx="110.0" cy="971.6" r="0.91" fill="#331a1e" opacity="0.48"/><circle cx="100.7" cy="1011.0" r="0.46" fill="#3a1a1e" opacity="0.59"/><circle cx="80.8" cy="957.2" r="0.54" fill="#2a2a2a" opacity="0.64"/><circle cx="133.8" cy="961.0" r="0.53" fill="#242424" opacity="0.37"/><circle cx="150.6" cy="956.2" r="0.85" fill="#242424" opacity="0.52"/><circle cx="158.6" cy="992.0" r="0.61" fill="#242424" opacity="0.35"/><circle cx="105.0" cy="950.2" r="0.81" fill="#3a1a1e" opacity="0.41"/><circle cx="112.9" cy="979.9" r="0.91" fill="#2a2a2a" opacity="0.73"/><circle cx="174.8" cy="956.9" r="0.84" fill="#2e2628" opacity="0.64"/><circle cx="166.4" cy="1017.4" r="0.78" fill="#242424" opacity="0.38"/><circle cx="129.0" cy="972.6" r="0.63" fill="#2e2628" opacity="0.66"/><circle cx="80.6" cy="1008.3" r="0.78" fill="#2a2a2a" opacity="0.57"/><circle cx="171.7" cy="979.2" r="0.47" fill="#3a1a1e" opacity="0.34"/><circle cx="155.8" cy="994.3" r="0.57" fill="#3a1a1e" opacity="0.30"/><circle cx="136.4" cy="1012.6" r="0.57" fill="#2a2a2a" opacity="0.26"/><circle cx="97.1" cy="953.8" r="0.88" fill="#331a1e" opacity="0.61"/><circle cx="73.3" cy="948.8" r="0.70" fill="#3a1a1e" opacity="0.68"/><circle cx="87.5" cy="988.1" r="0.49" fill="#3a1a1e" opacity="0.72"/><circle cx="89.5" cy="1010.1" r="0.86" fill="#2e2628" opacity="0.41"/><circle cx="82.4" cy="989.1" r="0.60" fill="#331a1e" opacity="0.70"/><circle cx="86.2" cy="1020.8" r="0.84" fill="#2a2a2a" opacity="0.66"/><circle cx="137.7" cy="1001.8" r="0.87" fill="#331a1e" opacity="0.62"/><circle cx="144.8" cy="962.3" r="0.72" fill="#242424" opacity="0.27"/><circle cx="163.2" cy="967.8" r="0.79" fill="#2a2a2a" opacity="0.47"/><circle cx="117.0" cy="968.0" r="0.88" fill="#242424" opacity="0.48"/><circle cx="113.3" cy="975.1" r="0.69" fill="#3a1a1e" opacity="0.65"/><circle cx="170.8" cy="1026.1" r="0.48" fill="#2a2a2a" opacity="0.43"/><circle cx="85.8" cy="958.0" r="0.94" fill="#3a1a1e" opacity="0.39"/><circle cx="131.4" cy="961.8" r="0.57" fill="#2a2a2a" opacity="0.25"/><circle cx="127.6" cy="988.1" r="0.92" fill="#242424" opacity="0.57"/><circle cx="95.2" cy="973.0" r="0.93" fill="#242424" opacity="0.61"/><circle cx="107.1" cy="996.9" r="0.94" fill="#3a1a1e" opacity="0.36"/><circle cx="169.6" cy="1009.1" r="0.53" fill="#3a1a1e" opacity="0.63"/><circle cx="165.5" cy="972.9" r="0.87" fill="#3a1a1e" opacity="0.44"/><circle cx="146.0" cy="1006.9" r="0.49" fill="#331a1e" opacity="0.31"/><circle cx="135.9" cy="989.1" r="0.54" fill="#242424" opacity="0.38"/><circle cx="94.3" cy="993.6" r="0.70" fill="#2a2a2a" opacity="0.45"/><circle cx="139.2" cy="978.7" r="0.72" fill="#2e2628" opacity="0.75"/><circle cx="127.1" cy="955.2" r="0.76" fill="#3a1a1e" opacity="0.38"/><circle cx="168.7" cy="1024.8" r="0.93" fill="#2e2628" opacity="0.56"/><circle cx="174.4" cy="1002.9" r="0.67" fill="#2a2a2a" opacity="0.71"/><circle cx="174.9" cy="978.6" r="0.65" fill="#242424" opacity="0.71"/><circle cx="117.9" cy="997.8" r="0.93" fill="#242424" opacity="0.31"/><circle cx="135.3" cy="980.7" r="0.78" fill="#2a2a2a" opacity="0.39"/><circle cx="111.5" cy="992.7" r="0.71" fill="#2e2628" opacity="0.54"/><circle cx="74.3" cy="1025.8" r="0.87" fill="#2e2628" opacity="0.35"/><circle cx="101.5" cy="991.4" r="0.61" fill="#3a1a1e" opacity="0.63"/><circle cx="160.1" cy="983.7" r="0.72" fill="#2e2628" opacity="0.50"/><circle cx="162.6" cy="1009.5" r="0.89" fill="#331a1e" opacity="0.35"/><circle cx="157.7" cy="1020.3" r="0.51" fill="#2a2a2a" opacity="0.62"/><circle cx="129.3" cy="1025.2" r="0.49" fill="#2e2628" opacity="0.44"/><circle cx="157.2" cy="983.0" r="0.83" fill="#3a1a1e" opacity="0.41"/><circle cx="84.3" cy="1005.4" r="0.60" fill="#3a1a1e" opacity="0.45"/><circle cx="154.8" cy="1002.7" r="0.51" fill="#242424" opacity="0.71"/><circle cx="111.9" cy="992.6" r="0.77" fill="#3a1a1e" opacity="0.61"/><circle cx="150.0" cy="1006.3" r="0.94" fill="#2e2628" opacity="0.48"/><circle cx="160.3" cy="980.7" r="0.80" fill="#3a1a1e" opacity="0.47"/><circle cx="142.6" cy="963.8" r="0.45" fill="#331a1e" opacity="0.44"/><circle cx="116.6" cy="980.4" r="0.74" fill="#331a1e" opacity="0.62"/><circle cx="167.1" cy="1007.9" r="0.94" fill="#242424" opacity="0.37"/><circle cx="174.5" cy="971.3" r="0.65" fill="#2a2a2a" opacity="0.56"/><circle cx="138.8" cy="1023.0" r="0.87" fill="#3a1a1e" opacity="0.63"/><circle cx="158.2" cy="996.4" r="0.91" fill="#3a1a1e" opacity="0.65"/><circle cx="115.0" cy="1002.8" r="0.53" fill="#3a1a1e" opacity="0.67"/><circle cx="122.8" cy="985.4" r="0.59" fill="#2a2a2a" opacity="0.30"/><circle cx="134.2" cy="953.6" r="0.78" fill="#2a2a2a" opacity="0.26"/><circle cx="125.3" cy="1023.7" r="0.65" fill="#2a2a2a" opacity="0.59"/><circle cx="135.7" cy="964.7" r="0.57" fill="#2e2628" opacity="0.42"/><circle cx="78.3" cy="1003.9" r="0.78" fill="#331a1e" opacity="0.48"/><circle cx="130.7" cy="952.0" r="0.78" fill="#3a1a1e" opacity="0.61"/><circle cx="158.2" cy="969.6" r="0.82" fill="#331a1e" opacity="0.45"/><circle cx="113.8" cy="986.7" r="0.88" fill="#3a1a1e" opacity="0.41"/><circle cx="94.8" cy="1025.1" r="0.87" fill="#2e2628" opacity="0.27"/><circle cx="167.2" cy="997.8" r="0.91" fill="#3a1a1e" opacity="0.72"/><circle cx="97.6" cy="969.5" r="0.76" fill="#2a2a2a" opacity="0.33"/><circle cx="175.1" cy="983.5" r="0.75" fill="#2e2628" opacity="0.38"/><circle cx="127.3" cy="959.1" r="0.90" fill="#2e2628" opacity="0.47"/><circle cx="104.1" cy="980.1" r="0.81" fill="#2a2a2a" opacity="0.61"/><circle cx="103.7" cy="956.5" r="0.61" fill="#242424" opacity="0.71"/><circle cx="173.2" cy="951.6" r="0.46" fill="#331a1e" opacity="0.63"/><circle cx="144.1" cy="987.6" r="0.86" fill="#331a1e" opacity="0.73"/><circle cx="136.6" cy="975.4" r="0.51" fill="#3a1a1e" opacity="0.60"/><circle cx="81.2" cy="980.0" r="0.67" fill="#242424" opacity="0.63"/><circle cx="175.2" cy="966.9" r="0.68" fill="#3a1a1e" opacity="0.54"/><circle cx="93.7" cy="1005.2" r="0.70" fill="#3a1a1e" opacity="0.31"/><circle cx="93.9" cy="954.3" r="0.85" fill="#2a2a2a" opacity="0.68"/><circle cx="105.2" cy="978.7" r="0.59" fill="#331a1e" opacity="0.35"/><circle cx="88.1" cy="1013.9" r="0.85" fill="#2e2628" opacity="0.27"/><circle cx="112.4" cy="1018.1" r="0.48" fill="#331a1e" opacity="0.44"/><circle cx="84.9" cy="985.0" r="0.90" fill="#3a1a1e" opacity="0.27"/><circle cx="77.5" cy="1015.2" r="0.92" fill="#2a2a2a" opacity="0.64"/><circle cx="117.3" cy="963.2" r="0.77" fill="#242424" opacity="0.62"/><circle cx="144.5" cy="1015.6" r="0.64" fill="#242424" opacity="0.57"/><circle cx="174.7" cy="999.3" r="0.57" fill="#2e2628" opacity="0.54"/><circle cx="155.3" cy="962.0" r="0.75" fill="#242424" opacity="0.53"/><circle cx="126.9" cy="952.9" r="0.72" fill="#3a1a1e" opacity="0.52"/><circle cx="147.1" cy="990.9" r="0.81" fill="#2a2a2a" opacity="0.62"/><circle cx="148.2" cy="1008.2" r="0.54" fill="#3a1a1e" opacity="0.30"/><circle cx="77.3" cy="964.3" r="0.88" fill="#242424" opacity="0.28"/><circle cx="80.8" cy="1013.0" r="0.70" fill="#242424" opacity="0.30"/><circle cx="104.5" cy="958.1" r="0.67" fill="#2a2a2a" opacity="0.31"/><circle cx="113.3" cy="1004.6" r="0.46" fill="#242424" opacity="0.51"/><circle cx="80.7" cy="1012.0" r="0.60" fill="#2a2a2a" opacity="0.68"/><circle cx="77.2" cy="968.9" r="0.58" fill="#2e2628" opacity="0.44"/><circle cx="83.5" cy="1002.2" r="0.66" fill="#2a2a2a" opacity="0.37"/><circle cx="130.6" cy="974.4" r="0.70" fill="#3a1a1e" opacity="0.45"/><circle cx="166.8" cy="986.5" r="0.78" fill="#2e2628" opacity="0.47"/><circle cx="176.7" cy="1005.6" r="0.80" fill="#331a1e" opacity="0.52"/><circle cx="167.0" cy="1014.5" r="0.82" fill="#3a1a1e" opacity="0.35"/><circle cx="112.6" cy="973.9" r="0.62" fill="#242424" opacity="0.54"/><rect x="169.50" y="1026.40" width="8" height="1.7" fill="#ddd"/>
<rect x="184" y="947" width="109.50" height="82.00" fill="url(#bfbase)"/><rect x="184" y="947" width="109.50" height="82.00" fill="url(#bfcenter)" opacity="1"/><rect x="184" y="947" width="109.50" height="82.00" fill="url(#bfright)"/><rect x="184" y="947" width="109.50" height="82.00" fill="url(#bfblue)"/><rect x="184" y="947" width="109.50" height="82.00" fill="url(#bftl)"/><rect x="184" y="947" width="109.50" height="82.00" fill="url(#bfbr)"/><rect x="184" y="947" width="109.50" height="82.00" fill="url(#bftop)"/><rect x="184" y="947" width="109.50" height="82.00" fill="#1c3a32" opacity="0.12"/><rect x="184" y="947" width="109.50" height="82.00" fill="#000" filter="url(#mottle)" opacity="0.13"/><rect x="184" y="947" width="109.50" height="82.00" fill="#000" filter="url(#speck)" opacity="0.16"/><circle cx="201.1" cy="997.2" r="0.50" fill="#2f4a44" opacity="0.33"/><circle cx="250.3" cy="978.8" r="0.77" fill="#2f4a44" opacity="0.29"/><circle cx="189.8" cy="990.4" r="0.77" fill="#2f4a44" opacity="0.28"/><circle cx="279.4" cy="1006.7" r="0.63" fill="#2f4a44" opacity="0.19"/><circle cx="198.9" cy="1012.7" r="0.81" fill="#2f4a44" opacity="0.30"/><circle cx="232.5" cy="988.1" r="0.53" fill="#2f4a44" opacity="0.28"/><circle cx="200.8" cy="997.6" r="0.78" fill="#2f4a44" opacity="0.32"/><circle cx="211.6" cy="955.5" r="0.60" fill="#2f4a44" opacity="0.33"/><circle cx="239.8" cy="1007.7" r="0.66" fill="#2f4a44" opacity="0.24"/><circle cx="282.4" cy="961.5" r="0.52" fill="#2f4a44" opacity="0.30"/><circle cx="252.8" cy="982.7" r="0.73" fill="#2f4a44" opacity="0.25"/><circle cx="256.8" cy="1018.9" r="0.90" fill="#2f4a44" opacity="0.31"/><circle cx="235.6" cy="1023.6" r="0.67" fill="#2f4a44" opacity="0.31"/><circle cx="278.2" cy="1002.6" r="0.63" fill="#2f4a44" opacity="0.34"/><circle cx="249.5" cy="1021.0" r="0.77" fill="#2f4a44" opacity="0.28"/><circle cx="289.5" cy="990.2" r="0.64" fill="#2f4a44" opacity="0.40"/><circle cx="286.3" cy="961.9" r="0.44" fill="#2f4a44" opacity="0.38"/><circle cx="279.7" cy="978.8" r="0.55" fill="#2f4a44" opacity="0.33"/><circle cx="285.9" cy="965.2" r="0.67" fill="#2f4a44" opacity="0.32"/><circle cx="208.8" cy="981.2" r="0.49" fill="#2f4a44" opacity="0.26"/><circle cx="209.8" cy="954.6" r="0.63" fill="#2f4a44" opacity="0.17"/><circle cx="197.9" cy="960.2" r="0.65" fill="#2f4a44" opacity="0.22"/><circle cx="263.2" cy="981.2" r="0.55" fill="#2f4a44" opacity="0.18"/><circle cx="217.0" cy="1007.4" r="0.52" fill="#2f4a44" opacity="0.26"/><circle cx="271.6" cy="1014.2" r="0.68" fill="#2f4a44" opacity="0.37"/><rect x="284.00" y="1026.40" width="8" height="1.7" fill="#e8eeec"/>
<text transform="translate(66.7,990.8) rotate(-90) scale(1.009,1)" font-family="Liberation Sans, sans-serif" font-size="14" text-anchor="middle">Purified</text>
<rect x="70" y="1033" width="109.00" height="82.50" fill="#040102"/><circle cx="96.5" cy="1077.8" r="0.91" fill="#3a1a1e" opacity="0.49"/><circle cx="133.2" cy="1082.8" r="0.58" fill="#242424" opacity="0.37"/><circle cx="177.5" cy="1071.9" r="0.69" fill="#331a1e" opacity="0.57"/><circle cx="87.1" cy="1085.1" r="0.64" fill="#331a1e" opacity="0.26"/><circle cx="154.2" cy="1046.8" r="0.47" fill="#331a1e" opacity="0.64"/><circle cx="159.1" cy="1055.7" r="0.81" fill="#331a1e" opacity="0.69"/><circle cx="147.4" cy="1108.1" r="0.81" fill="#242424" opacity="0.54"/><circle cx="174.2" cy="1044.8" r="0.50" fill="#3a1a1e" opacity="0.32"/><circle cx="94.2" cy="1111.7" r="0.84" fill="#242424" opacity="0.68"/><circle cx="116.1" cy="1101.1" r="0.63" fill="#331a1e" opacity="0.54"/><circle cx="133.5" cy="1106.8" r="0.88" fill="#2a2a2a" opacity="0.75"/><circle cx="142.8" cy="1047.1" r="0.93" fill="#3a1a1e" opacity="0.70"/><circle cx="131.9" cy="1091.5" r="0.77" fill="#2e2628" opacity="0.74"/><circle cx="99.6" cy="1044.0" r="0.88" fill="#242424" opacity="0.74"/><circle cx="80.5" cy="1098.4" r="0.90" fill="#242424" opacity="0.26"/><circle cx="116.7" cy="1067.4" r="0.47" fill="#2a2a2a" opacity="0.56"/><circle cx="75.8" cy="1091.8" r="0.73" fill="#3a1a1e" opacity="0.71"/><circle cx="100.9" cy="1053.0" r="0.60" fill="#2a2a2a" opacity="0.29"/><circle cx="135.2" cy="1036.5" r="0.94" fill="#2e2628" opacity="0.40"/><circle cx="99.2" cy="1089.5" r="0.61" fill="#3a1a1e" opacity="0.73"/><circle cx="166.9" cy="1064.4" r="0.88" fill="#242424" opacity="0.44"/><circle cx="163.8" cy="1088.8" r="0.76" fill="#2a2a2a" opacity="0.72"/><circle cx="125.3" cy="1068.7" r="0.92" fill="#2e2628" opacity="0.47"/><circle cx="98.6" cy="1058.4" r="0.46" fill="#3a1a1e" opacity="0.46"/><circle cx="133.1" cy="1035.6" r="0.74" fill="#331a1e" opacity="0.32"/><circle cx="138.8" cy="1060.8" r="0.79" fill="#3a1a1e" opacity="0.43"/><circle cx="146.6" cy="1093.4" r="0.74" fill="#2a2a2a" opacity="0.73"/><circle cx="73.3" cy="1063.7" r="0.60" fill="#242424" opacity="0.55"/><circle cx="90.0" cy="1048.9" r="0.87" fill="#3a1a1e" opacity="0.38"/><circle cx="155.2" cy="1042.4" r="0.94" fill="#2a2a2a" opacity="0.59"/><circle cx="85.1" cy="1074.3" r="0.57" fill="#3a1a1e" opacity="0.34"/><circle cx="117.6" cy="1090.2" r="0.75" fill="#2a2a2a" opacity="0.72"/><circle cx="143.2" cy="1052.1" r="0.49" fill="#2e2628" opacity="0.62"/><circle cx="94.3" cy="1079.8" r="0.56" fill="#3a1a1e" opacity="0.31"/><circle cx="127.7" cy="1049.4" r="0.54" fill="#331a1e" opacity="0.39"/><circle cx="157.4" cy="1085.7" r="0.62" fill="#331a1e" opacity="0.31"/><circle cx="102.2" cy="1097.9" r="0.68" fill="#3a1a1e" opacity="0.57"/><circle cx="102.1" cy="1079.8" r="0.91" fill="#2a2a2a" opacity="0.33"/><circle cx="71.5" cy="1109.9" r="0.94" fill="#331a1e" opacity="0.47"/><circle cx="172.7" cy="1108.7" r="0.47" fill="#2e2628" opacity="0.48"/><circle cx="151.6" cy="1094.2" r="0.72" fill="#3a1a1e" opacity="0.69"/><circle cx="163.2" cy="1103.1" r="0.51" fill="#3a1a1e" opacity="0.37"/><circle cx="74.8" cy="1098.6" r="0.91" fill="#331a1e" opacity="0.70"/><circle cx="167.3" cy="1080.4" r="0.69" fill="#2a2a2a" opacity="0.31"/><circle cx="124.8" cy="1053.2" r="0.71" fill="#2a2a2a" opacity="0.46"/><circle cx="171.5" cy="1083.3" r="0.51" fill="#3a1a1e" opacity="0.74"/><circle cx="128.9" cy="1099.3" r="0.63" fill="#2a2a2a" opacity="0.35"/><circle cx="128.2" cy="1099.8" r="0.57" fill="#2e2628" opacity="0.39"/><circle cx="166.2" cy="1044.3" r="0.69" fill="#2a2a2a" opacity="0.54"/><circle cx="113.8" cy="1094.9" r="0.58" fill="#2e2628" opacity="0.51"/><circle cx="116.3" cy="1072.1" r="0.88" fill="#2a2a2a" opacity="0.64"/><circle cx="75.9" cy="1038.0" r="0.94" fill="#242424" opacity="0.68"/><circle cx="80.2" cy="1074.4" r="0.53" fill="#3a1a1e" opacity="0.29"/><circle cx="112.3" cy="1065.4" r="0.63" fill="#3a1a1e" opacity="0.35"/><circle cx="106.2" cy="1044.0" r="0.45" fill="#331a1e" opacity="0.61"/><circle cx="156.1" cy="1079.6" r="0.64" fill="#2a2a2a" opacity="0.55"/><circle cx="154.7" cy="1064.6" r="0.76" fill="#2a2a2a" opacity="0.47"/><circle cx="110.8" cy="1073.9" r="0.66" fill="#3a1a1e" opacity="0.60"/><circle cx="120.3" cy="1053.7" r="0.59" fill="#331a1e" opacity="0.54"/><circle cx="156.9" cy="1052.1" r="0.89" fill="#2e2628" opacity="0.72"/><circle cx="111.0" cy="1106.3" r="0.51" fill="#3a1a1e" opacity="0.60"/><circle cx="171.5" cy="1092.9" r="0.85" fill="#331a1e" opacity="0.58"/><circle cx="149.5" cy="1079.4" r="0.86" fill="#2a2a2a" opacity="0.61"/><circle cx="121.7" cy="1053.0" r="0.47" fill="#242424" opacity="0.30"/><circle cx="81.6" cy="1104.9" r="0.86" fill="#2e2628" opacity="0.42"/><circle cx="162.2" cy="1036.1" r="0.79" fill="#2a2a2a" opacity="0.67"/><circle cx="172.9" cy="1080.6" r="0.47" fill="#2a2a2a" opacity="0.63"/><circle cx="125.7" cy="1091.6" r="0.73" fill="#2a2a2a" opacity="0.30"/><circle cx="130.2" cy="1078.3" r="0.54" fill="#331a1e" opacity="0.29"/><circle cx="177.8" cy="1086.0" r="0.76" fill="#242424" opacity="0.63"/><circle cx="113.1" cy="1063.6" r="0.92" fill="#242424" opacity="0.53"/><circle cx="174.4" cy="1064.2" r="0.94" fill="#2e2628" opacity="0.46"/><circle cx="151.0" cy="1046.9" r="0.83" fill="#331a1e" opacity="0.59"/><circle cx="126.3" cy="1072.9" r="0.90" fill="#242424" opacity="0.32"/><circle cx="81.3" cy="1094.2" r="0.93" fill="#331a1e" opacity="0.54"/><circle cx="162.8" cy="1045.0" r="0.52" fill="#2e2628" opacity="0.51"/><circle cx="171.0" cy="1102.5" r="0.93" fill="#331a1e" opacity="0.40"/><circle cx="146.5" cy="1067.3" r="0.74" fill="#331a1e" opacity="0.38"/><circle cx="94.3" cy="1035.9" r="0.85" fill="#242424" opacity="0.35"/><circle cx="132.0" cy="1053.2" r="0.84" fill="#242424" opacity="0.32"/><circle cx="177.1" cy="1072.6" r="0.55" fill="#331a1e" opacity="0.54"/><circle cx="167.5" cy="1086.5" r="0.69" fill="#2a2a2a" opacity="0.61"/><circle cx="162.7" cy="1066.2" r="0.68" fill="#2a2a2a" opacity="0.36"/><circle cx="96.1" cy="1091.8" r="0.93" fill="#2a2a2a" opacity="0.68"/><circle cx="96.9" cy="1049.3" r="0.52" fill="#3a1a1e" opacity="0.56"/><circle cx="143.2" cy="1037.0" r="0.53" fill="#3a1a1e" opacity="0.27"/><circle cx="90.6" cy="1041.3" r="0.51" fill="#2a2a2a" opacity="0.38"/><circle cx="168.8" cy="1036.9" r="0.74" fill="#242424" opacity="0.59"/><circle cx="71.7" cy="1061.0" r="0.64" fill="#242424" opacity="0.29"/><circle cx="139.9" cy="1093.8" r="0.65" fill="#242424" opacity="0.52"/><circle cx="83.8" cy="1056.1" r="0.51" fill="#242424" opacity="0.69"/><circle cx="168.2" cy="1041.8" r="0.79" fill="#3a1a1e" opacity="0.43"/><circle cx="119.2" cy="1087.4" r="0.50" fill="#3a1a1e" opacity="0.72"/><circle cx="107.2" cy="1079.6" r="0.51" fill="#331a1e" opacity="0.50"/><circle cx="108.7" cy="1091.8" r="0.82" fill="#331a1e" opacity="0.57"/><circle cx="149.1" cy="1046.0" r="0.89" fill="#3a1a1e" opacity="0.58"/><circle cx="84.2" cy="1109.0" r="0.91" fill="#2e2628" opacity="0.57"/><circle cx="140.5" cy="1067.8" r="0.77" fill="#3a1a1e" opacity="0.48"/><circle cx="104.4" cy="1048.2" r="0.50" fill="#2a2a2a" opacity="0.34"/><circle cx="130.2" cy="1080.4" r="0.63" fill="#242424" opacity="0.38"/><circle cx="112.0" cy="1104.2" r="0.69" fill="#2a2a2a" opacity="0.39"/><circle cx="145.4" cy="1075.4" r="0.92" fill="#3a1a1e" opacity="0.47"/><circle cx="157.6" cy="1039.6" r="0.87" fill="#242424" opacity="0.31"/><circle cx="99.9" cy="1042.0" r="0.73" fill="#2a2a2a" opacity="0.70"/><circle cx="83.0" cy="1090.2" r="0.66" fill="#331a1e" opacity="0.62"/><circle cx="158.3" cy="1094.3" r="0.75" fill="#331a1e" opacity="0.68"/><circle cx="156.4" cy="1077.8" r="0.73" fill="#2e2628" opacity="0.35"/><circle cx="97.8" cy="1096.9" r="0.87" fill="#2a2a2a" opacity="0.47"/><circle cx="114.6" cy="1099.6" r="0.73" fill="#3a1a1e" opacity="0.54"/><circle cx="138.8" cy="1112.6" r="0.90" fill="#3a1a1e" opacity="0.58"/><circle cx="74.2" cy="1049.3" r="0.50" fill="#2a2a2a" opacity="0.63"/><circle cx="96.0" cy="1047.9" r="0.55" fill="#242424" opacity="0.64"/><circle cx="93.7" cy="1099.4" r="0.51" fill="#242424" opacity="0.39"/><circle cx="141.4" cy="1046.3" r="0.85" fill="#242424" opacity="0.56"/><circle cx="76.4" cy="1063.0" r="0.70" fill="#2e2628" opacity="0.50"/><circle cx="73.0" cy="1061.3" r="0.89" fill="#3a1a1e" opacity="0.60"/><circle cx="85.4" cy="1103.1" r="0.84" fill="#331a1e" opacity="0.27"/><circle cx="79.6" cy="1114.0" r="0.92" fill="#2e2628" opacity="0.68"/><circle cx="117.8" cy="1094.9" r="0.61" fill="#242424" opacity="0.64"/><circle cx="114.7" cy="1102.0" r="0.65" fill="#2e2628" opacity="0.49"/><circle cx="78.3" cy="1102.6" r="0.77" fill="#2e2628" opacity="0.40"/><circle cx="120.7" cy="1094.9" r="0.67" fill="#242424" opacity="0.48"/><circle cx="75.0" cy="1054.7" r="0.67" fill="#3a1a1e" opacity="0.43"/><circle cx="114.0" cy="1112.1" r="0.58" fill="#2e2628" opacity="0.43"/><circle cx="162.5" cy="1077.0" r="0.55" fill="#2e2628" opacity="0.34"/><circle cx="114.2" cy="1047.5" r="0.52" fill="#2a2a2a" opacity="0.55"/><circle cx="118.4" cy="1048.9" r="0.65" fill="#2a2a2a" opacity="0.41"/><circle cx="74.5" cy="1091.5" r="0.65" fill="#2e2628" opacity="0.45"/><circle cx="73.9" cy="1111.7" r="0.57" fill="#2e2628" opacity="0.44"/><circle cx="91.4" cy="1060.8" r="0.62" fill="#2a2a2a" opacity="0.31"/><circle cx="76.6" cy="1092.6" r="0.94" fill="#3a1a1e" opacity="0.72"/><circle cx="155.5" cy="1111.4" r="0.57" fill="#242424" opacity="0.38"/><circle cx="158.2" cy="1084.6" r="0.61" fill="#3a1a1e" opacity="0.28"/><circle cx="117.6" cy="1041.2" r="0.45" fill="#331a1e" opacity="0.27"/><circle cx="80.7" cy="1047.7" r="0.69" fill="#2a2a2a" opacity="0.34"/><circle cx="125.5" cy="1060.7" r="0.62" fill="#242424" opacity="0.49"/><circle cx="108.6" cy="1087.0" r="0.60" fill="#242424" opacity="0.55"/><circle cx="172.3" cy="1041.1" r="0.54" fill="#3a1a1e" opacity="0.46"/><circle cx="125.3" cy="1078.1" r="0.79" fill="#331a1e" opacity="0.71"/><circle cx="89.7" cy="1093.6" r="0.87" fill="#242424" opacity="0.53"/><circle cx="169.8" cy="1063.2" r="0.67" fill="#242424" opacity="0.47"/><circle cx="146.2" cy="1061.8" r="0.70" fill="#2e2628" opacity="0.63"/><circle cx="168.9" cy="1090.1" r="0.47" fill="#242424" opacity="0.34"/><circle cx="151.4" cy="1100.2" r="0.83" fill="#2a2a2a" opacity="0.59"/><circle cx="81.4" cy="1053.1" r="0.89" fill="#2a2a2a" opacity="0.69"/><circle cx="119.1" cy="1106.2" r="0.95" fill="#3a1a1e" opacity="0.25"/><circle cx="91.8" cy="1097.3" r="0.62" fill="#2a2a2a" opacity="0.41"/><circle cx="119.2" cy="1100.2" r="0.57" fill="#2e2628" opacity="0.27"/><circle cx="87.3" cy="1085.9" r="0.94" fill="#331a1e" opacity="0.31"/><circle cx="101.8" cy="1050.8" r="0.71" fill="#331a1e" opacity="0.50"/><circle cx="168.1" cy="1059.7" r="0.84" fill="#331a1e" opacity="0.48"/><circle cx="137.6" cy="1037.3" r="0.75" fill="#2a2a2a" opacity="0.68"/><circle cx="81.9" cy="1109.9" r="0.49" fill="#3a1a1e" opacity="0.48"/><circle cx="94.8" cy="1100.8" r="0.50" fill="#331a1e" opacity="0.49"/><circle cx="142.5" cy="1090.3" r="0.75" fill="#242424" opacity="0.47"/><circle cx="82.9" cy="1101.2" r="0.67" fill="#331a1e" opacity="0.44"/><circle cx="83.5" cy="1034.6" r="0.81" fill="#3a1a1e" opacity="0.29"/><circle cx="108.0" cy="1073.0" r="0.91" fill="#2a2a2a" opacity="0.59"/><circle cx="110.0" cy="1097.1" r="0.75" fill="#2a2a2a" opacity="0.36"/><circle cx="108.5" cy="1114.2" r="0.57" fill="#3a1a1e" opacity="0.47"/><rect x="169.50" y="1112.90" width="8" height="1.7" fill="#ddd"/>
<rect x="184" y="1033" width="109.50" height="82.50" fill="url(#bfbase)"/><rect x="184" y="1033" width="109.50" height="82.50" fill="url(#bfcenter)" opacity="1"/><rect x="184" y="1033" width="109.50" height="82.50" fill="url(#bfright)"/><rect x="184" y="1033" width="109.50" height="82.50" fill="url(#bfblue)"/><rect x="184" y="1033" width="109.50" height="82.50" fill="url(#bftl)"/><rect x="184" y="1033" width="109.50" height="82.50" fill="url(#bfbr)"/><rect x="184" y="1033" width="109.50" height="82.50" fill="url(#bftop)"/><rect x="184" y="1033" width="109.50" height="82.50" fill="#1c3a32" opacity="0.12"/><rect x="184" y="1033" width="109.50" height="82.50" fill="#000" filter="url(#mottle)" opacity="0.13"/><rect x="184" y="1033" width="109.50" height="82.50" fill="#000" filter="url(#speck)" opacity="0.16"/><circle cx="288.0" cy="1104.0" r="0.84" fill="#2f4a44" opacity="0.19"/><circle cx="220.6" cy="1091.4" r="0.88" fill="#2f4a44" opacity="0.13"/><circle cx="203.1" cy="1105.9" r="0.47" fill="#2f4a44" opacity="0.32"/><circle cx="220.5" cy="1085.9" r="0.92" fill="#2f4a44" opacity="0.29"/><circle cx="227.1" cy="1060.0" r="0.77" fill="#2f4a44" opacity="0.31"/><circle cx="229.1" cy="1071.6" r="0.72" fill="#2f4a44" opacity="0.20"/><circle cx="204.4" cy="1079.7" r="0.46" fill="#2f4a44" opacity="0.30"/><circle cx="271.1" cy="1100.5" r="0.55" fill="#2f4a44" opacity="0.24"/><circle cx="284.1" cy="1062.2" r="0.99" fill="#2f4a44" opacity="0.18"/><circle cx="275.2" cy="1037.5" r="0.80" fill="#2f4a44" opacity="0.36"/><circle cx="243.8" cy="1084.9" r="0.95" fill="#2f4a44" opacity="0.42"/><circle cx="204.4" cy="1076.1" r="0.42" fill="#2f4a44" opacity="0.23"/><circle cx="200.7" cy="1047.0" r="0.77" fill="#2f4a44" opacity="0.15"/><circle cx="201.7" cy="1035.0" r="0.89" fill="#2f4a44" opacity="0.19"/><circle cx="192.9" cy="1083.9" r="0.83" fill="#2f4a44" opacity="0.31"/><circle cx="243.8" cy="1077.0" r="0.83" fill="#2f4a44" opacity="0.21"/><circle cx="275.4" cy="1089.8" r="0.91" fill="#2f4a44" opacity="0.39"/><circle cx="275.1" cy="1075.8" r="0.71" fill="#2f4a44" opacity="0.34"/><circle cx="247.2" cy="1036.4" r="0.95" fill="#2f4a44" opacity="0.18"/><circle cx="237.1" cy="1070.4" r="0.46" fill="#2f4a44" opacity="0.29"/><circle cx="248.4" cy="1099.3" r="0.77" fill="#2f4a44" opacity="0.21"/><circle cx="245.7" cy="1111.0" r="0.78" fill="#2f4a44" opacity="0.37"/><circle cx="186.4" cy="1089.4" r="0.53" fill="#2f4a44" opacity="0.17"/><circle cx="220.7" cy="1048.4" r="0.45" fill="#2f4a44" opacity="0.18"/><circle cx="209.9" cy="1054.2" r="0.88" fill="#2f4a44" opacity="0.14"/><rect x="284.00" y="1112.90" width="8" height="1.7" fill="#e8eeec"/>
<text transform="translate(66.7,1072.25) rotate(-90) scale(0.997,1)" font-family="Liberation Sans, sans-serif" font-size="14" text-anchor="middle">100</text>
<rect x="70" y="1118.75" width="109.00" height="81.25" fill="#040102"/><circle cx="137.7" cy="1178.5" r="0.46" fill="#331a1e" opacity="0.48"/><circle cx="171.9" cy="1171.2" r="0.51" fill="#2e2628" opacity="0.48"/><circle cx="97.4" cy="1162.8" r="0.57" fill="#331a1e" opacity="0.62"/><circle cx="114.7" cy="1134.2" r="0.53" fill="#242424" opacity="0.65"/><circle cx="85.8" cy="1168.7" r="0.52" fill="#2e2628" opacity="0.74"/><circle cx="71.6" cy="1181.1" r="0.89" fill="#2e2628" opacity="0.39"/><circle cx="173.9" cy="1162.5" r="0.54" fill="#2e2628" opacity="0.73"/><circle cx="92.1" cy="1196.2" r="0.60" fill="#242424" opacity="0.43"/><circle cx="88.8" cy="1131.3" r="0.62" fill="#2a2a2a" opacity="0.66"/><circle cx="133.7" cy="1167.0" r="0.48" fill="#3a1a1e" opacity="0.43"/><circle cx="103.7" cy="1174.9" r="0.69" fill="#2e2628" opacity="0.60"/><circle cx="77.1" cy="1197.0" r="0.92" fill="#2a2a2a" opacity="0.43"/><circle cx="114.3" cy="1163.3" r="0.63" fill="#242424" opacity="0.54"/><circle cx="72.0" cy="1123.5" r="0.76" fill="#2e2628" opacity="0.73"/><circle cx="83.7" cy="1139.3" r="0.62" fill="#242424" opacity="0.43"/><circle cx="127.1" cy="1181.2" r="0.74" fill="#2a2a2a" opacity="0.64"/><circle cx="110.3" cy="1143.2" r="0.92" fill="#242424" opacity="0.30"/><circle cx="107.5" cy="1168.2" r="0.62" fill="#2e2628" opacity="0.71"/><circle cx="129.3" cy="1144.5" r="0.60" fill="#3a1a1e" opacity="0.65"/><circle cx="138.1" cy="1176.9" r="0.95" fill="#3a1a1e" opacity="0.33"/><circle cx="76.2" cy="1197.9" r="0.91" fill="#331a1e" opacity="0.27"/><circle cx="150.2" cy="1147.0" r="0.68" fill="#3a1a1e" opacity="0.46"/><circle cx="77.0" cy="1192.3" r="0.85" fill="#2a2a2a" opacity="0.42"/><circle cx="93.2" cy="1197.5" r="0.92" fill="#331a1e" opacity="0.57"/><circle cx="155.3" cy="1128.2" r="0.64" fill="#242424" opacity="0.28"/><circle cx="116.0" cy="1130.9" r="0.88" fill="#331a1e" opacity="0.74"/><circle cx="119.5" cy="1158.4" r="0.69" fill="#3a1a1e" opacity="0.40"/><circle cx="114.2" cy="1131.4" r="0.86" fill="#242424" opacity="0.52"/><circle cx="90.2" cy="1194.0" r="0.54" fill="#3a1a1e" opacity="0.50"/><circle cx="126.1" cy="1163.2" r="0.63" fill="#331a1e" opacity="0.64"/><circle cx="153.9" cy="1174.8" r="0.83" fill="#2a2a2a" opacity="0.43"/><circle cx="146.4" cy="1142.0" r="0.58" fill="#242424" opacity="0.74"/><circle cx="147.6" cy="1195.6" r="0.77" fill="#3a1a1e" opacity="0.54"/><circle cx="72.2" cy="1163.1" r="0.61" fill="#3a1a1e" opacity="0.39"/><circle cx="101.9" cy="1159.4" r="0.62" fill="#3a1a1e" opacity="0.57"/><circle cx="149.9" cy="1185.4" r="0.91" fill="#3a1a1e" opacity="0.34"/><circle cx="163.8" cy="1155.4" r="0.93" fill="#3a1a1e" opacity="0.51"/><circle cx="127.6" cy="1132.9" r="0.92" fill="#3a1a1e" opacity="0.49"/><circle cx="145.0" cy="1176.8" r="0.54" fill="#242424" opacity="0.64"/><circle cx="133.2" cy="1172.5" r="0.60" fill="#242424" opacity="0.53"/><circle cx="163.8" cy="1141.2" r="0.55" fill="#2a2a2a" opacity="0.54"/><circle cx="137.8" cy="1134.1" r="0.77" fill="#2e2628" opacity="0.27"/><circle cx="121.5" cy="1137.7" r="0.90" fill="#2a2a2a" opacity="0.31"/><circle cx="174.6" cy="1158.0" r="0.47" fill="#331a1e" opacity="0.48"/><circle cx="111.7" cy="1168.2" r="0.55" fill="#331a1e" opacity="0.61"/><circle cx="111.0" cy="1147.5" r="0.88" fill="#3a1a1e" opacity="0.68"/><circle cx="144.7" cy="1163.1" r="0.72" fill="#2a2a2a" opacity="0.40"/><circle cx="102.6" cy="1160.4" r="0.60" fill="#331a1e" opacity="0.43"/><circle cx="84.8" cy="1152.2" r="0.77" fill="#331a1e" opacity="0.43"/><circle cx="86.2" cy="1167.0" r="0.69" fill="#331a1e" opacity="0.35"/><circle cx="85.2" cy="1126.9" r="0.64" fill="#2a2a2a" opacity="0.41"/><circle cx="169.1" cy="1162.5" r="0.76" fill="#3a1a1e" opacity="0.70"/><circle cx="111.2" cy="1154.0" r="0.70" fill="#2e2628" opacity="0.49"/><circle cx="146.8" cy="1150.2" r="0.75" fill="#2e2628" opacity="0.38"/><circle cx="176.0" cy="1159.1" r="0.46" fill="#242424" opacity="0.72"/><circle cx="103.9" cy="1193.4" r="0.69" fill="#2e2628" opacity="0.31"/><circle cx="137.5" cy="1154.9" r="0.47" fill="#3a1a1e" opacity="0.32"/><circle cx="113.0" cy="1157.8" r="0.59" fill="#331a1e" opacity="0.72"/><circle cx="154.7" cy="1139.2" r="0.87" fill="#3a1a1e" opacity="0.61"/><circle cx="101.6" cy="1158.8" r="0.71" fill="#242424" opacity="0.68"/><circle cx="165.2" cy="1190.7" r="0.83" fill="#2a2a2a" opacity="0.40"/><circle cx="128.1" cy="1146.4" r="0.82" fill="#3a1a1e" opacity="0.26"/><circle cx="108.4" cy="1173.8" r="0.52" fill="#331a1e" opacity="0.25"/><circle cx="130.2" cy="1174.1" r="0.89" fill="#2a2a2a" opacity="0.52"/><circle cx="72.6" cy="1181.4" r="0.75" fill="#242424" opacity="0.59"/><circle cx="173.0" cy="1171.2" r="0.69" fill="#242424" opacity="0.59"/><circle cx="148.0" cy="1191.0" r="0.87" fill="#242424" opacity="0.28"/><circle cx="160.5" cy="1174.8" r="0.74" fill="#242424" opacity="0.57"/><circle cx="121.6" cy="1144.4" r="0.69" fill="#2e2628" opacity="0.52"/><circle cx="124.3" cy="1146.0" r="0.66" fill="#2e2628" opacity="0.52"/><circle cx="76.2" cy="1177.8" r="0.86" fill="#3a1a1e" opacity="0.65"/><circle cx="142.0" cy="1121.8" r="0.94" fill="#242424" opacity="0.75"/><circle cx="146.0" cy="1123.6" r="0.56" fill="#2a2a2a" opacity="0.57"/><circle cx="172.9" cy="1176.2" r="0.95" fill="#2e2628" opacity="0.60"/><circle cx="117.9" cy="1134.3" r="0.66" fill="#2e2628" opacity="0.33"/><circle cx="137.6" cy="1123.2" r="0.78" fill="#2a2a2a" opacity="0.62"/><circle cx="100.9" cy="1165.0" r="0.82" fill="#2a2a2a" opacity="0.69"/><circle cx="85.4" cy="1154.0" r="0.79" fill="#3a1a1e" opacity="0.49"/><circle cx="108.8" cy="1171.8" r="0.52" fill="#2a2a2a" opacity="0.40"/><circle cx="131.8" cy="1173.5" r="0.91" fill="#3a1a1e" opacity="0.53"/><circle cx="137.4" cy="1140.6" r="0.57" fill="#331a1e" opacity="0.67"/><circle cx="101.3" cy="1197.0" r="0.88" fill="#2e2628" opacity="0.48"/><circle cx="112.6" cy="1130.1" r="0.78" fill="#2a2a2a" opacity="0.29"/><circle cx="142.5" cy="1127.0" r="0.70" fill="#2a2a2a" opacity="0.48"/><circle cx="112.7" cy="1156.4" r="0.50" fill="#3a1a1e" opacity="0.52"/><circle cx="129.0" cy="1150.2" r="0.92" fill="#2e2628" opacity="0.46"/><circle cx="156.0" cy="1179.2" r="0.94" fill="#2a2a2a" opacity="0.58"/><circle cx="158.8" cy="1130.8" r="0.64" fill="#331a1e" opacity="0.67"/><circle cx="102.0" cy="1193.5" r="0.85" fill="#3a1a1e" opacity="0.44"/><circle cx="148.3" cy="1148.1" r="0.85" fill="#3a1a1e" opacity="0.47"/><circle cx="162.1" cy="1160.8" r="0.95" fill="#331a1e" opacity="0.36"/><circle cx="90.3" cy="1124.8" r="0.47" fill="#2a2a2a" opacity="0.35"/><circle cx="75.2" cy="1190.2" r="0.78" fill="#242424" opacity="0.42"/><circle cx="116.7" cy="1143.6" r="0.91" fill="#331a1e" opacity="0.41"/><circle cx="120.4" cy="1134.9" r="0.49" fill="#2e2628" opacity="0.68"/><circle cx="164.0" cy="1157.0" r="0.58" fill="#331a1e" opacity="0.39"/><circle cx="88.3" cy="1142.5" r="0.47" fill="#2e2628" opacity="0.70"/><circle cx="107.8" cy="1179.3" r="0.92" fill="#3a1a1e" opacity="0.59"/><circle cx="143.1" cy="1157.1" r="0.51" fill="#2e2628" opacity="0.58"/><circle cx="102.1" cy="1173.2" r="0.47" fill="#2e2628" opacity="0.61"/><circle cx="132.5" cy="1171.8" r="0.65" fill="#331a1e" opacity="0.74"/><circle cx="110.0" cy="1144.5" r="0.63" fill="#242424" opacity="0.28"/><circle cx="177.3" cy="1156.8" r="0.54" fill="#2e2628" opacity="0.35"/><circle cx="75.7" cy="1168.0" r="0.45" fill="#3a1a1e" opacity="0.28"/><circle cx="154.4" cy="1152.3" r="0.47" fill="#2a2a2a" opacity="0.67"/><circle cx="160.6" cy="1164.5" r="0.81" fill="#2a2a2a" opacity="0.37"/><circle cx="156.9" cy="1127.0" r="0.48" fill="#242424" opacity="0.37"/><circle cx="76.4" cy="1151.2" r="0.47" fill="#2a2a2a" opacity="0.67"/><circle cx="118.7" cy="1170.5" r="0.93" fill="#2a2a2a" opacity="0.35"/><circle cx="145.4" cy="1170.5" r="0.72" fill="#2e2628" opacity="0.29"/><circle cx="104.6" cy="1128.3" r="0.94" fill="#331a1e" opacity="0.33"/><circle cx="79.1" cy="1177.6" r="0.46" fill="#331a1e" opacity="0.52"/><circle cx="123.1" cy="1165.0" r="0.71" fill="#242424" opacity="0.32"/><circle cx="72.3" cy="1179.7" r="0.90" fill="#242424" opacity="0.75"/><circle cx="130.3" cy="1130.7" r="0.49" fill="#242424" opacity="0.64"/><circle cx="158.7" cy="1144.5" r="0.72" fill="#2e2628" opacity="0.49"/><circle cx="145.6" cy="1183.1" r="0.78" fill="#331a1e" opacity="0.39"/><circle cx="123.7" cy="1139.5" r="0.85" fill="#2e2628" opacity="0.69"/><circle cx="165.8" cy="1125.4" r="0.64" fill="#3a1a1e" opacity="0.63"/><circle cx="71.0" cy="1142.4" r="0.74" fill="#2e2628" opacity="0.47"/><circle cx="158.4" cy="1171.7" r="0.81" fill="#2a2a2a" opacity="0.60"/><circle cx="99.6" cy="1184.1" r="0.73" fill="#242424" opacity="0.41"/><circle cx="103.8" cy="1130.6" r="0.79" fill="#242424" opacity="0.39"/><circle cx="77.8" cy="1180.3" r="0.46" fill="#331a1e" opacity="0.31"/><circle cx="174.7" cy="1185.2" r="0.88" fill="#242424" opacity="0.72"/><circle cx="136.5" cy="1138.1" r="0.51" fill="#242424" opacity="0.35"/><circle cx="109.3" cy="1132.7" r="0.86" fill="#331a1e" opacity="0.61"/><circle cx="81.2" cy="1161.8" r="0.77" fill="#2e2628" opacity="0.32"/><circle cx="152.8" cy="1154.2" r="0.51" fill="#242424" opacity="0.41"/><circle cx="168.9" cy="1156.3" r="0.54" fill="#242424" opacity="0.27"/><circle cx="142.5" cy="1132.5" r="0.93" fill="#242424" opacity="0.55"/><circle cx="82.1" cy="1184.3" r="0.79" fill="#242424" opacity="0.35"/><circle cx="71.1" cy="1191.8" r="0.69" fill="#2e2628" opacity="0.69"/><circle cx="113.0" cy="1136.8" r="0.86" fill="#3a1a1e" opacity="0.40"/><circle cx="126.2" cy="1180.3" r="0.63" fill="#2e2628" opacity="0.65"/><circle cx="158.1" cy="1172.3" r="0.76" fill="#2a2a2a" opacity="0.45"/><circle cx="86.3" cy="1185.7" r="0.64" fill="#242424" opacity="0.30"/><circle cx="113.5" cy="1179.5" r="0.90" fill="#3a1a1e" opacity="0.35"/><circle cx="156.3" cy="1145.4" r="0.88" fill="#242424" opacity="0.56"/><circle cx="156.6" cy="1149.6" r="0.50" fill="#2a2a2a" opacity="0.55"/><circle cx="137.4" cy="1184.2" r="0.61" fill="#2a2a2a" opacity="0.26"/><circle cx="104.4" cy="1150.1" r="0.72" fill="#242424" opacity="0.60"/><circle cx="119.1" cy="1182.2" r="0.91" fill="#331a1e" opacity="0.60"/><circle cx="142.7" cy="1162.3" r="0.63" fill="#242424" opacity="0.55"/><circle cx="143.7" cy="1161.1" r="0.59" fill="#3a1a1e" opacity="0.26"/><circle cx="153.8" cy="1168.1" r="0.60" fill="#242424" opacity="0.71"/><circle cx="100.4" cy="1176.5" r="0.47" fill="#2a2a2a" opacity="0.29"/><circle cx="173.9" cy="1143.6" r="0.79" fill="#3a1a1e" opacity="0.67"/><circle cx="150.0" cy="1168.2" r="0.69" fill="#2e2628" opacity="0.30"/><circle cx="84.0" cy="1146.9" r="0.66" fill="#331a1e" opacity="0.73"/><circle cx="142.8" cy="1149.7" r="0.90" fill="#331a1e" opacity="0.71"/><circle cx="136.6" cy="1150.4" r="0.87" fill="#2a2a2a" opacity="0.69"/><circle cx="144.7" cy="1197.7" r="0.89" fill="#2e2628" opacity="0.36"/><circle cx="103.7" cy="1141.0" r="0.49" fill="#331a1e" opacity="0.73"/><circle cx="79.2" cy="1152.5" r="0.56" fill="#2e2628" opacity="0.28"/><circle cx="131.6" cy="1185.5" r="0.81" fill="#331a1e" opacity="0.46"/><circle cx="116.5" cy="1161.7" r="0.60" fill="#2e2628" opacity="0.39"/><circle cx="135.8" cy="1196.4" r="0.66" fill="#2e2628" opacity="0.32"/><circle cx="102.6" cy="1163.7" r="0.54" fill="#331a1e" opacity="0.35"/><circle cx="134.6" cy="1171.0" r="0.81" fill="#3a1a1e" opacity="0.28"/><rect x="169.50" y="1197.40" width="8" height="1.7" fill="#ddd"/>
<rect x="184" y="1118.75" width="109.50" height="81.25" fill="url(#bfbase)"/><rect x="184" y="1118.75" width="109.50" height="81.25" fill="url(#bfcenter)" opacity="1"/><rect x="184" y="1118.75" width="109.50" height="81.25" fill="url(#bfright)"/><rect x="184" y="1118.75" width="109.50" height="81.25" fill="url(#bfblue)"/><rect x="184" y="1118.75" width="109.50" height="81.25" fill="url(#bftl)"/><rect x="184" y="1118.75" width="109.50" height="81.25" fill="url(#bfbr)"/><rect x="184" y="1118.75" width="109.50" height="81.25" fill="url(#bftop)"/><rect x="184" y="1118.75" width="109.50" height="81.25" fill="#1c3a32" opacity="0.12"/><rect x="184" y="1118.75" width="109.50" height="81.25" fill="#000" filter="url(#mottle)" opacity="0.13"/><rect x="184" y="1118.75" width="109.50" height="81.25" fill="#000" filter="url(#speck)" opacity="0.16"/><circle cx="261.3" cy="1191.0" r="0.41" fill="#2f4a44" opacity="0.40"/><circle cx="273.1" cy="1124.4" r="0.88" fill="#2f4a44" opacity="0.36"/><circle cx="205.3" cy="1196.5" r="0.62" fill="#2f4a44" opacity="0.26"/><circle cx="255.2" cy="1174.4" r="0.85" fill="#2f4a44" opacity="0.20"/><circle cx="237.0" cy="1130.8" r="0.56" fill="#2f4a44" opacity="0.27"/><circle cx="193.2" cy="1147.5" r="0.89" fill="#2f4a44" opacity="0.17"/><circle cx="231.6" cy="1122.9" r="0.84" fill="#2f4a44" opacity="0.15"/><circle cx="204.7" cy="1178.7" r="0.67" fill="#2f4a44" opacity="0.29"/><circle cx="250.4" cy="1159.1" r="0.65" fill="#2f4a44" opacity="0.17"/><circle cx="200.4" cy="1136.0" r="0.55" fill="#2f4a44" opacity="0.22"/><circle cx="280.7" cy="1136.8" r="0.48" fill="#2f4a44" opacity="0.20"/><circle cx="199.3" cy="1185.3" r="0.97" fill="#2f4a44" opacity="0.35"/><circle cx="287.3" cy="1163.3" r="0.67" fill="#2f4a44" opacity="0.24"/><circle cx="255.1" cy="1138.8" r="0.71" fill="#2f4a44" opacity="0.24"/><circle cx="256.8" cy="1188.7" r="0.79" fill="#2f4a44" opacity="0.16"/><circle cx="248.8" cy="1177.6" r="0.72" fill="#2f4a44" opacity="0.14"/><circle cx="195.3" cy="1162.4" r="0.83" fill="#2f4a44" opacity="0.27"/><circle cx="263.2" cy="1163.3" r="0.89" fill="#2f4a44" opacity="0.18"/><circle cx="274.3" cy="1179.0" r="0.47" fill="#2f4a44" opacity="0.19"/><circle cx="216.6" cy="1181.9" r="0.78" fill="#2f4a44" opacity="0.14"/><circle cx="264.0" cy="1144.2" r="0.92" fill="#2f4a44" opacity="0.20"/><circle cx="196.1" cy="1146.1" r="0.68" fill="#2f4a44" opacity="0.25"/><circle cx="242.7" cy="1128.4" r="0.56" fill="#2f4a44" opacity="0.13"/><circle cx="290.9" cy="1158.4" r="0.57" fill="#2f4a44" opacity="0.17"/><circle cx="250.0" cy="1120.3" r="0.49" fill="#2f4a44" opacity="0.32"/><rect x="284.00" y="1197.40" width="8" height="1.7" fill="#e8eeec"/>
<text transform="translate(66.7,1160.85) rotate(-90) scale(0.997,1)" font-family="Liberation Sans, sans-serif" font-size="14" text-anchor="middle">300</text>
<rect x="70" y="1204.5" width="109.00" height="82.50" fill="#040102"/><circle cx="105.7" cy="1217.6" r="0.49" fill="#2a2a2a" opacity="0.52"/><circle cx="110.1" cy="1210.2" r="0.56" fill="#331a1e" opacity="0.29"/><circle cx="115.7" cy="1224.9" r="0.66" fill="#331a1e" opacity="0.66"/><circle cx="84.2" cy="1223.5" r="0.92" fill="#331a1e" opacity="0.54"/><circle cx="113.4" cy="1284.1" r="0.73" fill="#2a2a2a" opacity="0.32"/><circle cx="115.8" cy="1249.0" r="0.60" fill="#331a1e" opacity="0.66"/><circle cx="90.3" cy="1252.3" r="0.64" fill="#2e2628" opacity="0.52"/><circle cx="77.7" cy="1210.3" r="0.70" fill="#2e2628" opacity="0.52"/><circle cx="154.2" cy="1243.0" r="0.63" fill="#242424" opacity="0.37"/><circle cx="90.2" cy="1268.3" r="0.74" fill="#2a2a2a" opacity="0.51"/><circle cx="164.6" cy="1264.2" r="0.75" fill="#3a1a1e" opacity="0.29"/><circle cx="125.8" cy="1218.8" r="0.53" fill="#3a1a1e" opacity="0.49"/><circle cx="75.2" cy="1259.3" r="0.74" fill="#331a1e" opacity="0.69"/><circle cx="104.6" cy="1261.5" r="0.70" fill="#331a1e" opacity="0.65"/><circle cx="78.4" cy="1213.0" r="0.69" fill="#3a1a1e" opacity="0.58"/><circle cx="77.5" cy="1262.0" r="0.95" fill="#331a1e" opacity="0.66"/><circle cx="101.5" cy="1236.6" r="0.46" fill="#3a1a1e" opacity="0.48"/><circle cx="89.0" cy="1214.9" r="0.56" fill="#2a2a2a" opacity="0.39"/><circle cx="150.0" cy="1237.5" r="0.49" fill="#242424" opacity="0.47"/><circle cx="129.8" cy="1276.6" r="0.88" fill="#242424" opacity="0.39"/><circle cx="115.4" cy="1234.4" r="0.93" fill="#242424" opacity="0.33"/><circle cx="89.9" cy="1224.2" r="0.46" fill="#2e2628" opacity="0.67"/><circle cx="90.5" cy="1228.2" r="0.66" fill="#2e2628" opacity="0.43"/><circle cx="131.6" cy="1282.2" r="0.93" fill="#331a1e" opacity="0.58"/><circle cx="150.2" cy="1242.3" r="0.65" fill="#331a1e" opacity="0.45"/><circle cx="82.1" cy="1256.6" r="0.55" fill="#2a2a2a" opacity="0.74"/><circle cx="118.1" cy="1214.3" r="0.48" fill="#331a1e" opacity="0.25"/><circle cx="87.2" cy="1213.7" r="0.76" fill="#3a1a1e" opacity="0.29"/><circle cx="93.3" cy="1235.8" r="0.93" fill="#3a1a1e" opacity="0.55"/><circle cx="121.7" cy="1214.8" r="0.95" fill="#242424" opacity="0.48"/><circle cx="122.8" cy="1212.4" r="0.82" fill="#2a2a2a" opacity="0.62"/><circle cx="122.2" cy="1261.2" r="0.46" fill="#331a1e" opacity="0.73"/><circle cx="127.5" cy="1217.3" r="0.91" fill="#331a1e" opacity="0.63"/><circle cx="102.9" cy="1257.3" r="0.80" fill="#2a2a2a" opacity="0.38"/><circle cx="110.2" cy="1218.9" r="0.72" fill="#2e2628" opacity="0.64"/><circle cx="106.3" cy="1223.5" r="0.85" fill="#2e2628" opacity="0.66"/><circle cx="150.2" cy="1223.8" r="0.70" fill="#331a1e" opacity="0.62"/><circle cx="176.9" cy="1269.1" r="0.58" fill="#242424" opacity="0.60"/><circle cx="173.3" cy="1241.5" r="0.93" fill="#3a1a1e" opacity="0.43"/><circle cx="94.6" cy="1223.8" r="0.62" fill="#2e2628" opacity="0.49"/><circle cx="176.4" cy="1254.6" r="0.69" fill="#2a2a2a" opacity="0.58"/><circle cx="156.6" cy="1212.3" r="0.90" fill="#2a2a2a" opacity="0.64"/><circle cx="151.3" cy="1244.0" r="0.67" fill="#2e2628" opacity="0.57"/><circle cx="80.3" cy="1281.7" r="0.68" fill="#242424" opacity="0.62"/><circle cx="80.1" cy="1218.3" r="0.46" fill="#2e2628" opacity="0.55"/><circle cx="120.8" cy="1258.3" r="0.86" fill="#331a1e" opacity="0.74"/><circle cx="141.3" cy="1233.7" r="0.72" fill="#331a1e" opacity="0.26"/><circle cx="156.5" cy="1264.0" r="0.71" fill="#2a2a2a" opacity="0.72"/><circle cx="117.4" cy="1275.7" r="0.46" fill="#2e2628" opacity="0.36"/><circle cx="124.6" cy="1267.0" r="0.58" fill="#3a1a1e" opacity="0.46"/><circle cx="85.0" cy="1278.8" r="0.90" fill="#3a1a1e" opacity="0.58"/><circle cx="158.2" cy="1247.1" r="0.52" fill="#331a1e" opacity="0.33"/><circle cx="125.6" cy="1275.8" r="0.75" fill="#2e2628" opacity="0.64"/><circle cx="87.0" cy="1216.9" r="0.81" fill="#331a1e" opacity="0.53"/><circle cx="105.9" cy="1247.2" r="0.69" fill="#331a1e" opacity="0.64"/><circle cx="165.5" cy="1210.1" r="0.59" fill="#2e2628" opacity="0.64"/><circle cx="125.3" cy="1250.7" r="0.67" fill="#2a2a2a" opacity="0.56"/><circle cx="125.1" cy="1246.7" r="0.68" fill="#3a1a1e" opacity="0.52"/><circle cx="122.1" cy="1281.3" r="0.89" fill="#331a1e" opacity="0.72"/><circle cx="98.8" cy="1250.5" r="0.87" fill="#2e2628" opacity="0.32"/><circle cx="84.0" cy="1241.1" r="0.79" fill="#2a2a2a" opacity="0.46"/><circle cx="93.8" cy="1229.9" r="0.90" fill="#2a2a2a" opacity="0.33"/><circle cx="147.6" cy="1258.7" r="0.58" fill="#2e2628" opacity="0.32"/><circle cx="121.0" cy="1265.6" r="0.65" fill="#2a2a2a" opacity="0.49"/><circle cx="176.9" cy="1272.5" r="0.80" fill="#2e2628" opacity="0.75"/><circle cx="114.2" cy="1239.4" r="0.61" fill="#3a1a1e" opacity="0.61"/><circle cx="73.1" cy="1250.1" r="0.80" fill="#242424" opacity="0.44"/><circle cx="126.4" cy="1229.3" r="0.51" fill="#2a2a2a" opacity="0.71"/><circle cx="95.5" cy="1276.0" r="0.58" fill="#2a2a2a" opacity="0.27"/><circle cx="154.4" cy="1227.3" r="0.86" fill="#2e2628" opacity="0.67"/><circle cx="143.3" cy="1281.7" r="0.52" fill="#242424" opacity="0.71"/><circle cx="132.1" cy="1261.9" r="0.59" fill="#2a2a2a" opacity="0.65"/><circle cx="90.6" cy="1277.6" r="0.92" fill="#3a1a1e" opacity="0.57"/><circle cx="156.8" cy="1212.2" r="0.48" fill="#2e2628" opacity="0.68"/><circle cx="119.6" cy="1232.8" r="0.66" fill="#331a1e" opacity="0.71"/><circle cx="137.5" cy="1209.0" r="0.92" fill="#2e2628" opacity="0.73"/><circle cx="99.0" cy="1220.1" r="0.76" fill="#3a1a1e" opacity="0.52"/><circle cx="93.0" cy="1241.4" r="0.59" fill="#2e2628" opacity="0.65"/><circle cx="177.4" cy="1208.5" r="0.82" fill="#2a2a2a" opacity="0.53"/><circle cx="91.3" cy="1243.7" r="0.50" fill="#242424" opacity="0.66"/><circle cx="117.2" cy="1245.3" r="0.94" fill="#242424" opacity="0.40"/><circle cx="94.0" cy="1224.0" r="0.87" fill="#2e2628" opacity="0.60"/><circle cx="139.0" cy="1238.1" r="0.94" fill="#3a1a1e" opacity="0.67"/><circle cx="72.5" cy="1255.8" r="0.67" fill="#3a1a1e" opacity="0.28"/><circle cx="142.2" cy="1236.2" r="0.79" fill="#331a1e" opacity="0.39"/><circle cx="96.9" cy="1229.1" r="0.54" fill="#242424" opacity="0.38"/><circle cx="71.4" cy="1234.8" r="0.94" fill="#3a1a1e" opacity="0.52"/><circle cx="97.2" cy="1283.2" r="0.56" fill="#3a1a1e" opacity="0.34"/><circle cx="106.9" cy="1212.3" r="0.70" fill="#3a1a1e" opacity="0.35"/><circle cx="125.0" cy="1205.9" r="0.86" fill="#3a1a1e" opacity="0.32"/><circle cx="133.8" cy="1237.2" r="0.60" fill="#3a1a1e" opacity="0.37"/><circle cx="133.7" cy="1248.1" r="0.78" fill="#2e2628" opacity="0.61"/><circle cx="165.1" cy="1236.9" r="0.81" fill="#3a1a1e" opacity="0.50"/><circle cx="101.4" cy="1255.3" r="0.47" fill="#2e2628" opacity="0.67"/><circle cx="166.4" cy="1256.0" r="0.52" fill="#331a1e" opacity="0.51"/><circle cx="125.0" cy="1272.7" r="0.86" fill="#2a2a2a" opacity="0.54"/><circle cx="166.5" cy="1260.5" r="0.49" fill="#2e2628" opacity="0.27"/><circle cx="139.2" cy="1282.7" r="0.87" fill="#242424" opacity="0.53"/><circle cx="138.2" cy="1255.9" r="0.69" fill="#2e2628" opacity="0.25"/><circle cx="156.4" cy="1265.7" r="0.90" fill="#331a1e" opacity="0.30"/><circle cx="127.3" cy="1265.5" r="0.58" fill="#242424" opacity="0.29"/><circle cx="99.4" cy="1264.2" r="0.57" fill="#2e2628" opacity="0.57"/><circle cx="120.3" cy="1273.6" r="0.69" fill="#2a2a2a" opacity="0.59"/><circle cx="153.1" cy="1255.2" r="0.49" fill="#2e2628" opacity="0.32"/><circle cx="98.2" cy="1265.3" r="0.76" fill="#3a1a1e" opacity="0.32"/><circle cx="122.6" cy="1244.6" r="0.80" fill="#2a2a2a" opacity="0.59"/><circle cx="102.1" cy="1247.1" r="0.68" fill="#242424" opacity="0.63"/><circle cx="177.3" cy="1249.7" r="0.94" fill="#3a1a1e" opacity="0.72"/><circle cx="72.9" cy="1242.4" r="0.93" fill="#331a1e" opacity="0.47"/><circle cx="99.7" cy="1222.4" r="0.49" fill="#2e2628" opacity="0.30"/><circle cx="151.0" cy="1226.6" r="0.52" fill="#3a1a1e" opacity="0.66"/><circle cx="125.4" cy="1276.9" r="0.57" fill="#3a1a1e" opacity="0.70"/><circle cx="123.0" cy="1207.5" r="0.92" fill="#2a2a2a" opacity="0.59"/><circle cx="114.4" cy="1264.0" r="0.62" fill="#242424" opacity="0.41"/><circle cx="160.9" cy="1205.6" r="0.87" fill="#3a1a1e" opacity="0.31"/><circle cx="170.1" cy="1262.9" r="0.58" fill="#3a1a1e" opacity="0.28"/><circle cx="112.7" cy="1275.5" r="0.63" fill="#2a2a2a" opacity="0.46"/><circle cx="100.4" cy="1209.4" r="0.48" fill="#2a2a2a" opacity="0.58"/><circle cx="138.9" cy="1217.5" r="0.67" fill="#3a1a1e" opacity="0.41"/><circle cx="153.7" cy="1268.7" r="0.89" fill="#242424" opacity="0.66"/><circle cx="138.5" cy="1279.0" r="0.72" fill="#331a1e" opacity="0.61"/><circle cx="76.3" cy="1264.5" r="0.76" fill="#242424" opacity="0.32"/><circle cx="164.0" cy="1244.6" r="0.51" fill="#331a1e" opacity="0.49"/><circle cx="107.8" cy="1229.5" r="0.65" fill="#3a1a1e" opacity="0.37"/><circle cx="122.7" cy="1259.3" r="0.53" fill="#2a2a2a" opacity="0.33"/><circle cx="93.2" cy="1278.4" r="0.73" fill="#242424" opacity="0.48"/><circle cx="106.6" cy="1266.6" r="0.52" fill="#242424" opacity="0.35"/><circle cx="80.7" cy="1233.0" r="0.61" fill="#2a2a2a" opacity="0.43"/><circle cx="157.6" cy="1221.8" r="0.82" fill="#2a2a2a" opacity="0.46"/><circle cx="115.3" cy="1247.7" r="0.59" fill="#242424" opacity="0.63"/><circle cx="124.3" cy="1251.7" r="0.51" fill="#3a1a1e" opacity="0.50"/><circle cx="138.4" cy="1275.0" r="0.50" fill="#2e2628" opacity="0.70"/><circle cx="112.1" cy="1257.5" r="0.93" fill="#242424" opacity="0.67"/><circle cx="164.4" cy="1207.3" r="0.66" fill="#2a2a2a" opacity="0.63"/><circle cx="157.1" cy="1283.4" r="0.45" fill="#242424" opacity="0.45"/><circle cx="170.2" cy="1272.0" r="0.94" fill="#242424" opacity="0.37"/><circle cx="82.7" cy="1217.9" r="0.94" fill="#331a1e" opacity="0.30"/><circle cx="159.3" cy="1261.9" r="0.49" fill="#242424" opacity="0.64"/><circle cx="71.1" cy="1215.6" r="0.91" fill="#331a1e" opacity="0.57"/><circle cx="103.5" cy="1215.8" r="0.71" fill="#3a1a1e" opacity="0.47"/><circle cx="152.7" cy="1213.5" r="0.71" fill="#3a1a1e" opacity="0.54"/><circle cx="112.5" cy="1223.5" r="0.45" fill="#331a1e" opacity="0.52"/><circle cx="177.6" cy="1227.9" r="0.77" fill="#3a1a1e" opacity="0.69"/><circle cx="121.9" cy="1224.4" r="0.46" fill="#2e2628" opacity="0.46"/><circle cx="140.5" cy="1210.0" r="0.70" fill="#2e2628" opacity="0.59"/><circle cx="115.9" cy="1226.2" r="0.91" fill="#242424" opacity="0.36"/><circle cx="74.6" cy="1232.7" r="0.63" fill="#242424" opacity="0.45"/><circle cx="71.7" cy="1229.0" r="0.48" fill="#331a1e" opacity="0.50"/><circle cx="92.4" cy="1267.2" r="0.57" fill="#2e2628" opacity="0.36"/><circle cx="152.4" cy="1229.2" r="0.70" fill="#331a1e" opacity="0.34"/><circle cx="94.9" cy="1239.1" r="0.92" fill="#2a2a2a" opacity="0.32"/><circle cx="113.1" cy="1222.6" r="0.52" fill="#331a1e" opacity="0.28"/><circle cx="77.4" cy="1237.2" r="0.82" fill="#3a1a1e" opacity="0.75"/><circle cx="170.7" cy="1232.0" r="0.78" fill="#2e2628" opacity="0.51"/><circle cx="121.0" cy="1230.6" r="0.87" fill="#242424" opacity="0.74"/><circle cx="118.3" cy="1214.3" r="0.59" fill="#2a2a2a" opacity="0.43"/><circle cx="173.2" cy="1215.5" r="0.64" fill="#2e2628" opacity="0.63"/><circle cx="104.0" cy="1270.2" r="0.47" fill="#2a2a2a" opacity="0.49"/><circle cx="110.9" cy="1279.5" r="0.61" fill="#2e2628" opacity="0.62"/><circle cx="121.8" cy="1256.3" r="0.86" fill="#2e2628" opacity="0.63"/><g clip-path="url(#pcclip)"><path d="M74.4,1207.4 C79.7,1209.6 83.5,1205.2 88.8,1207.4 C94.0,1209.6 97.3,1210.7 102.8,1209.4 C108.6,1208.2 112.1,1211.3 117.5,1208.9" stroke="#7a1626" stroke-width="1.1" fill="none" opacity="0.66" filter="url(#wblur)"/><path d="M104.5,1227.2 C109.7,1227.4 111.3,1231.4 114.6,1235.5 C118.2,1240.1 123.4,1239.2 129.0,1237.6 C133.1,1236.4 137.0,1238.3 138.7,1242.3" stroke="#7a1626" stroke-width="1.1" fill="none" opacity="0.49" filter="url(#wblur)"/><path d="M97.4,1240.0 C91.6,1240.2 90.8,1247.1 85.1,1247.5 C79.9,1247.8 76.7,1245.9 73.4,1241.9 C70.5,1238.2 68.2,1236.6 63.7,1235.1" stroke="#7a1626" stroke-width="1.1" fill="none" opacity="0.48" filter="url(#wblur)"/><path d="M155.3,1211.0 C157.0,1215.9 158.8,1220.0 164.0,1220.7 C166.9,1221.1 168.2,1222.4 171.1,1222.3 C177.0,1221.9 182.3,1224.3 183.7,1230.1" stroke="#7a1626" stroke-width="1.1" fill="none" opacity="0.43" filter="url(#wblur)"/><path d="M79.2,1212.5 C74.1,1212.5 70.9,1211.1 66.5,1213.7 C63.0,1215.7 60.9,1216.8 56.8,1217.0 C51.6,1217.3 49.1,1214.3 45.4,1210.7" stroke="#7a1626" stroke-width="1.1" fill="none" opacity="0.36" filter="url(#wblur)"/><path d="M161.7,1228.7 C158.0,1227.1 158.5,1222.8 154.7,1221.6 C151.3,1220.5 148.6,1220.2 145.8,1222.4 C141.2,1225.8 137.5,1225.3 133.5,1229.4" stroke="#7a1626" stroke-width="1.1" fill="none" opacity="0.50" filter="url(#wblur)"/><path d="M178.2,1246.4 C178.8,1251.7 180.7,1256.4 176.5,1259.7 C174.0,1261.6 173.5,1264.2 170.5,1264.7 C165.1,1265.8 163.6,1257.0 158.3,1258.5" stroke="#7a1626" stroke-width="1.1" fill="none" opacity="0.45" filter="url(#wblur)"/><path d="M83.0,1220.1 C87.6,1219.3 88.7,1224.5 93.1,1225.9 C98.4,1227.6 101.2,1229.9 106.7,1229.1 C111.9,1228.2 112.6,1236.4 117.9,1236.1" stroke="#7a1626" stroke-width="1.1" fill="none" opacity="0.60" filter="url(#wblur)"/><path d="M137.6,1222.5 C135.4,1224.8 135.0,1227.1 135.4,1230.3 C136.0,1235.0 132.3,1237.6 134.0,1242.0 C134.9,1244.7 137.2,1245.1 138.1,1247.7" stroke="#7a1626" stroke-width="1.1" fill="none" opacity="0.39" filter="url(#wblur)"/><path d="M104.0,1221.3 C105.3,1216.9 103.4,1213.1 99.4,1210.9 C95.9,1208.9 93.8,1208.1 91.0,1205.2 C88.9,1202.9 86.1,1204.7 83.6,1203.0" stroke="#7a1626" stroke-width="1.1" fill="none" opacity="0.50" filter="url(#wblur)"/><path d="M100.9,1229.9 C104.5,1228.8 106.7,1229.6 110.2,1228.1 C114.0,1226.4 118.0,1226.4 120.4,1229.8 C122.7,1233.0 126.6,1231.3 129.2,1234.3" stroke="#7a1626" stroke-width="1.1" fill="none" opacity="0.40" filter="url(#wblur)"/><path d="M70.6,1278.9 C65.8,1281.4 65.1,1286.8 59.7,1286.9 C55.4,1287.0 51.6,1288.4 50.6,1292.5 C49.5,1297.0 49.6,1300.8 45.5,1302.8" stroke="#7a1626" stroke-width="1.1" fill="none" opacity="0.34" filter="url(#wblur)"/><path d="M137.8,1235.1 C134.6,1235.0 133.2,1236.7 130.1,1237.7 C124.5,1239.3 124.7,1244.4 121.3,1249.1 C118.0,1253.4 112.3,1248.2 108.0,1251.5" stroke="#7a1626" stroke-width="1.1" fill="none" opacity="0.36" filter="url(#wblur)"/><path d="M172.8,1285.0 C169.8,1285.3 169.3,1282.1 166.5,1281.0 C161.3,1278.8 157.2,1278.2 154.7,1273.1 C153.2,1270.1 156.1,1267.8 154.6,1264.8" stroke="#7a1626" stroke-width="1.1" fill="none" opacity="0.50" filter="url(#wblur)"/><path d="M162.3,1272.9 C163.7,1276.1 165.2,1277.2 167.1,1280.2 C169.2,1283.6 172.3,1284.2 176.3,1284.3 C181.4,1284.3 181.4,1292.4 186.5,1292.0" stroke="#7a1626" stroke-width="1.1" fill="none" opacity="0.58" filter="url(#wblur)"/><path d="M152.6,1207.6 C154.2,1204.9 155.5,1203.9 157.7,1201.6 C161.2,1198.2 161.6,1195.5 163.3,1191.0 C164.9,1186.6 163.8,1183.7 166.0,1179.6" stroke="#7a1626" stroke-width="1.1" fill="none" opacity="0.52" filter="url(#wblur)"/><path d="M117.8,1206.4 C114.6,1203.5 110.6,1205.9 107.4,1203.0 C103.5,1199.4 102.3,1195.6 97.1,1194.7 C92.8,1194.0 89.6,1195.8 87.5,1199.5" stroke="#7a1626" stroke-width="1.1" fill="none" opacity="0.52" filter="url(#wblur)"/><path d="M80.0,1241.0 C77.1,1240.8 75.7,1237.8 73.0,1238.9 C68.2,1240.9 65.2,1238.6 60.1,1238.2 C57.1,1238.0 55.7,1237.3 52.7,1237.6" stroke="#7a1626" stroke-width="1.1" fill="none" opacity="0.78" filter="url(#wblur)"/><path d="M84.8,1275.2 C90.0,1275.1 91.1,1281.2 96.3,1281.1 C102.2,1281.0 106.6,1276.9 111.1,1280.7 C115.5,1284.4 120.6,1279.7 125.2,1283.1" stroke="#7a1626" stroke-width="1.1" fill="none" opacity="0.77" filter="url(#wblur)"/><path d="M77.1,1233.4 C77.3,1230.1 81.3,1230.1 82.3,1227.0 C83.9,1221.8 80.2,1219.1 78.8,1213.9 C77.4,1208.3 74.4,1205.7 69.3,1203.1" stroke="#7a1626" stroke-width="1.1" fill="none" opacity="0.55" filter="url(#wblur)"/><path d="M104.8,1207.5 C106.2,1210.6 104.3,1212.7 102.6,1215.5 C99.6,1220.3 104.8,1224.7 102.2,1229.7 C100.7,1232.5 100.3,1234.2 98.1,1236.5" stroke="#7a1626" stroke-width="1.1" fill="none" opacity="0.48" filter="url(#wblur)"/><path d="M165.2,1250.3 C160.2,1247.6 155.7,1255.6 151.2,1252.1 C147.4,1249.2 143.3,1250.5 140.6,1246.5 C138.5,1243.5 141.1,1241.0 142.2,1237.5" stroke="#7a1626" stroke-width="1.1" fill="none" opacity="0.48" filter="url(#wblur)"/><path d="M153.3,1241.0 C155.6,1245.6 162.1,1241.8 165.3,1245.9 C167.6,1248.7 170.4,1250.6 169.3,1254.0 C167.8,1258.4 164.1,1259.3 162.8,1263.7" stroke="#7a1626" stroke-width="1.1" fill="none" opacity="0.30" filter="url(#wblur)"/><path d="M73.7,1216.8 C70.6,1214.0 66.8,1213.8 66.0,1209.7 C65.4,1206.5 62.5,1206.2 61.3,1203.2 C60.2,1200.5 57.5,1200.9 54.7,1200.4" stroke="#7a1626" stroke-width="1.1" fill="none" opacity="0.35" filter="url(#wblur)"/><path d="M108.9,1223.0 C104.9,1220.7 101.8,1223.6 97.2,1222.4 C93.0,1221.4 91.1,1227.5 87.0,1226.0 C83.7,1224.7 80.6,1225.1 78.3,1227.7" stroke="#7a1626" stroke-width="1.1" fill="none" opacity="0.62" filter="url(#wblur)"/><path d="M165.0,1269.0 C162.0,1271.1 164.8,1274.7 163.4,1278.0 C161.6,1282.2 163.3,1285.1 161.5,1289.4 C159.9,1293.2 156.3,1293.7 152.1,1294.2" stroke="#7a1626" stroke-width="1.1" fill="none" opacity="0.42" filter="url(#wblur)"/><path d="M168.5,1208.1 C164.5,1207.3 160.9,1207.1 158.5,1210.4 C155.3,1214.6 160.0,1218.2 160.3,1223.5 C160.7,1229.3 163.7,1232.7 168.9,1235.2" stroke="#7a1626" stroke-width="1.1" fill="none" opacity="0.60" filter="url(#wblur)"/><path d="M125.3,1257.4 C126.6,1254.3 126.8,1252.3 126.0,1249.1 C125.3,1246.2 126.6,1244.2 128.9,1242.2 C132.7,1238.9 126.7,1233.7 129.6,1229.5" stroke="#7a1626" stroke-width="1.1" fill="none" opacity="0.67" filter="url(#wblur)"/><path d="M120.7,1265.7 C117.3,1266.7 116.2,1269.3 115.5,1272.8 C114.8,1275.6 116.8,1277.3 115.8,1280.1 C114.1,1284.8 110.8,1286.2 106.0,1287.9" stroke="#7a1626" stroke-width="1.1" fill="none" opacity="0.43" filter="url(#wblur)"/><path d="M130.4,1240.5 C131.4,1236.1 128.4,1233.8 128.8,1229.4 C129.4,1223.5 122.2,1221.3 123.6,1215.6 C124.3,1212.9 124.2,1211.0 122.7,1208.6" stroke="#7a1626" stroke-width="1.1" fill="none" opacity="0.67" filter="url(#wblur)"/><path d="M173.0,1266.1 C170.4,1271.0 168.9,1274.3 170.1,1279.8 C171.3,1285.4 171.8,1288.6 170.1,1294.1 C168.6,1298.8 163.5,1297.4 159.3,1299.9" stroke="#7a1626" stroke-width="1.1" fill="none" opacity="0.72" filter="url(#wblur)"/><path d="M146.0,1275.2 C141.3,1277.2 138.0,1276.0 133.8,1278.8 C130.9,1280.8 127.4,1279.1 125.7,1282.2 C123.0,1287.2 122.5,1292.5 126.7,1296.4" stroke="#7a1626" stroke-width="1.1" fill="none" opacity="0.35" filter="url(#wblur)"/><path d="M171.3,1233.0 C173.1,1235.2 175.8,1232.8 178.4,1234.1 C182.7,1236.3 185.0,1238.2 187.0,1242.6 C188.2,1245.3 187.5,1247.2 189.0,1249.8" stroke="#7a1626" stroke-width="1.1" fill="none" opacity="0.71" filter="url(#wblur)"/><path d="M159.3,1278.0 C164.4,1280.3 167.1,1284.9 165.9,1290.3 C165.3,1293.4 165.5,1295.9 167.9,1297.9 C170.1,1299.8 170.7,1302.0 170.2,1304.8" stroke="#7a1626" stroke-width="1.1" fill="none" opacity="0.62" filter="url(#wblur)"/><path d="M159.9,1256.6 C159.2,1259.6 163.0,1260.6 163.0,1263.8 C163.0,1267.2 164.1,1268.9 165.5,1272.0 C166.6,1274.7 168.0,1275.9 170.6,1277.0" stroke="#7a1626" stroke-width="1.1" fill="none" opacity="0.66" filter="url(#wblur)"/><path d="M110.1,1231.0 C114.4,1230.0 116.7,1232.4 120.5,1234.6 C123.1,1236.0 124.5,1236.5 127.3,1237.3 C132.3,1238.7 135.5,1235.9 140.4,1237.8" stroke="#7a1626" stroke-width="1.1" fill="none" opacity="0.57" filter="url(#wblur)"/><path d="M93.6,1275.6 C98.2,1278.6 103.2,1279.9 107.2,1276.2 C109.7,1273.9 112.2,1272.0 115.3,1273.4 C117.8,1274.6 119.1,1275.1 121.7,1276.2" stroke="#7a1626" stroke-width="1.1" fill="none" opacity="0.70" filter="url(#wblur)"/><path d="M90.1,1245.3 C87.0,1249.8 91.4,1255.4 87.0,1258.6 C84.1,1260.8 85.4,1264.2 82.8,1266.8 C79.6,1269.9 82.5,1273.6 80.8,1277.6" stroke="#7a1626" stroke-width="1.1" fill="none" opacity="0.34" filter="url(#wblur)"/><path d="M155.9,1262.0 C157.0,1257.3 156.6,1254.7 155.9,1250.0 C155.2,1246.0 161.2,1244.9 160.4,1240.9 C159.3,1235.4 154.5,1233.6 148.9,1232.8" stroke="#7a1626" stroke-width="1.1" fill="none" opacity="0.43" filter="url(#wblur)"/><path d="M168.2,1245.8 C164.2,1249.7 164.7,1253.6 162.9,1258.9 C161.5,1263.2 159.5,1265.4 155.4,1267.3 C151.0,1269.3 148.8,1270.9 146.0,1274.9" stroke="#7a1626" stroke-width="1.1" fill="none" opacity="0.38" filter="url(#wblur)"/></g><rect x="169.50" y="1284.40" width="8" height="1.7" fill="#ddd"/>
<rect x="184" y="1204.5" width="109.50" height="82.50" fill="url(#bfbase)"/><rect x="184" y="1204.5" width="109.50" height="82.50" fill="url(#bfcenter)" opacity="0.25"/><rect x="184" y="1204.5" width="109.50" height="82.50" fill="url(#bfright)"/><rect x="184" y="1204.5" width="109.50" height="82.50" fill="url(#bfblue)"/><rect x="184" y="1204.5" width="109.50" height="82.50" fill="url(#bftl)"/><rect x="184" y="1204.5" width="109.50" height="82.50" fill="url(#bfbr)"/><rect x="184" y="1204.5" width="109.50" height="82.50" fill="url(#bftop)"/><rect x="184" y="1204.5" width="109.50" height="82.50" fill="#1c3a32" opacity="0.12"/><rect x="184" y="1204.5" width="109.50" height="82.50" fill="#000" filter="url(#mottle)" opacity="0.13"/><rect x="184" y="1204.5" width="109.50" height="82.50" fill="#000" filter="url(#speck)" opacity="0.16"/><circle cx="199.2" cy="1271.0" r="0.93" fill="#2f4a44" opacity="0.32"/><circle cx="214.8" cy="1221.4" r="0.45" fill="#2f4a44" opacity="0.26"/><circle cx="206.8" cy="1274.1" r="0.51" fill="#2f4a44" opacity="0.26"/><circle cx="284.6" cy="1279.2" r="0.46" fill="#2f4a44" opacity="0.30"/><circle cx="291.1" cy="1237.0" r="0.78" fill="#2f4a44" opacity="0.41"/><circle cx="254.5" cy="1210.1" r="0.83" fill="#2f4a44" opacity="0.44"/><circle cx="233.2" cy="1233.4" r="0.83" fill="#2f4a44" opacity="0.50"/><circle cx="286.2" cy="1221.8" r="0.86" fill="#2f4a44" opacity="0.35"/><circle cx="290.9" cy="1283.4" r="0.69" fill="#2f4a44" opacity="0.47"/><circle cx="279.9" cy="1214.6" r="0.64" fill="#2f4a44" opacity="0.48"/><circle cx="210.3" cy="1240.8" r="0.78" fill="#2f4a44" opacity="0.31"/><circle cx="269.3" cy="1220.3" r="0.76" fill="#2f4a44" opacity="0.37"/><circle cx="188.1" cy="1269.1" r="0.87" fill="#2f4a44" opacity="0.46"/><circle cx="205.6" cy="1248.2" r="0.49" fill="#2f4a44" opacity="0.42"/><circle cx="251.0" cy="1277.1" r="0.48" fill="#2f4a44" opacity="0.28"/><circle cx="192.9" cy="1279.9" r="0.79" fill="#2f4a44" opacity="0.24"/><circle cx="264.3" cy="1241.4" r="0.64" fill="#2f4a44" opacity="0.43"/><circle cx="263.5" cy="1244.5" r="0.58" fill="#2f4a44" opacity="0.32"/><circle cx="226.8" cy="1220.6" r="0.50" fill="#2f4a44" opacity="0.37"/><circle cx="289.2" cy="1252.4" r="0.64" fill="#2f4a44" opacity="0.21"/><circle cx="283.7" cy="1231.1" r="0.58" fill="#2f4a44" opacity="0.42"/><circle cx="279.7" cy="1214.6" r="0.44" fill="#2f4a44" opacity="0.26"/><circle cx="291.7" cy="1246.9" r="0.46" fill="#2f4a44" opacity="0.40"/><circle cx="238.9" cy="1214.2" r="0.44" fill="#2f4a44" opacity="0.31"/><circle cx="288.9" cy="1239.9" r="0.99" fill="#2f4a44" opacity="0.31"/><circle cx="219.9" cy="1213.8" r="0.76" fill="#2f4a44" opacity="0.25"/><circle cx="286.9" cy="1255.7" r="0.41" fill="#2f4a44" opacity="0.39"/><circle cx="235.9" cy="1258.5" r="0.76" fill="#2f4a44" opacity="0.23"/><circle cx="236.5" cy="1256.5" r="0.45" fill="#2f4a44" opacity="0.46"/><circle cx="261.5" cy="1221.1" r="0.45" fill="#2f4a44" opacity="0.32"/><circle cx="252.5" cy="1256.1" r="0.47" fill="#2f4a44" opacity="0.38"/><circle cx="244.2" cy="1219.5" r="0.70" fill="#2f4a44" opacity="0.39"/><circle cx="263.4" cy="1214.7" r="0.44" fill="#2f4a44" opacity="0.41"/><circle cx="290.9" cy="1250.5" r="0.93" fill="#2f4a44" opacity="0.31"/><circle cx="202.4" cy="1258.9" r="0.57" fill="#2f4a44" opacity="0.46"/><circle cx="265.2" cy="1209.8" r="0.59" fill="#2f4a44" opacity="0.44"/><circle cx="191.1" cy="1223.6" r="0.42" fill="#2f4a44" opacity="0.41"/><circle cx="288.6" cy="1262.5" r="0.94" fill="#2f4a44" opacity="0.26"/><circle cx="271.8" cy="1285.2" r="0.89" fill="#2f4a44" opacity="0.27"/><circle cx="217.0" cy="1281.0" r="0.82" fill="#2f4a44" opacity="0.32"/><circle cx="213.2" cy="1208.9" r="0.87" fill="#2f4a44" opacity="0.38"/><circle cx="200.4" cy="1216.0" r="0.99" fill="#2f4a44" opacity="0.47"/><circle cx="185.9" cy="1219.2" r="0.93" fill="#2f4a44" opacity="0.33"/><circle cx="277.1" cy="1244.6" r="0.63" fill="#2f4a44" opacity="0.49"/><circle cx="218.6" cy="1281.1" r="0.87" fill="#2f4a44" opacity="0.24"/><circle cx="284.9" cy="1282.1" r="0.47" fill="#2f4a44" opacity="0.36"/><circle cx="237.7" cy="1225.9" r="0.84" fill="#2f4a44" opacity="0.48"/><circle cx="279.3" cy="1270.5" r="0.65" fill="#2f4a44" opacity="0.39"/><circle cx="277.1" cy="1231.6" r="0.85" fill="#2f4a44" opacity="0.33"/><circle cx="282.2" cy="1234.0" r="0.73" fill="#2f4a44" opacity="0.34"/><circle cx="200.8" cy="1244.8" r="0.84" fill="#2f4a44" opacity="0.39"/><circle cx="285.8" cy="1269.2" r="0.47" fill="#2f4a44" opacity="0.35"/><circle cx="233.1" cy="1207.1" r="0.97" fill="#2f4a44" opacity="0.39"/><circle cx="219.4" cy="1255.7" r="0.80" fill="#2f4a44" opacity="0.43"/><circle cx="280.3" cy="1251.6" r="0.71" fill="#2f4a44" opacity="0.37"/><circle cx="209.5" cy="1208.1" r="0.84" fill="#2f4a44" opacity="0.42"/><circle cx="194.4" cy="1234.0" r="0.54" fill="#2f4a44" opacity="0.23"/><circle cx="259.8" cy="1237.8" r="0.59" fill="#2f4a44" opacity="0.42"/><circle cx="271.1" cy="1227.9" r="0.74" fill="#2f4a44" opacity="0.28"/><circle cx="213.0" cy="1226.9" r="0.58" fill="#2f4a44" opacity="0.26"/><circle cx="188.3" cy="1277.8" r="0.70" fill="#2f4a44" opacity="0.28"/><circle cx="238.7" cy="1280.3" r="0.46" fill="#2f4a44" opacity="0.46"/><circle cx="217.5" cy="1207.4" r="0.98" fill="#2f4a44" opacity="0.28"/><circle cx="284.7" cy="1212.7" r="0.48" fill="#2f4a44" opacity="0.40"/><circle cx="202.8" cy="1268.5" r="0.65" fill="#2f4a44" opacity="0.49"/><circle cx="230.6" cy="1258.4" r="0.59" fill="#2f4a44" opacity="0.30"/><circle cx="243.3" cy="1229.0" r="0.75" fill="#2f4a44" opacity="0.30"/><circle cx="242.9" cy="1217.9" r="0.59" fill="#2f4a44" opacity="0.30"/><circle cx="236.3" cy="1285.2" r="0.99" fill="#2f4a44" opacity="0.34"/><circle cx="257.4" cy="1270.3" r="0.91" fill="#2f4a44" opacity="0.38"/><circle cx="203.8" cy="1257.8" r="0.64" fill="#2f4a44" opacity="0.24"/><circle cx="202.0" cy="1264.0" r="0.55" fill="#2f4a44" opacity="0.29"/><circle cx="228.6" cy="1230.8" r="0.72" fill="#2f4a44" opacity="0.27"/><circle cx="203.9" cy="1259.8" r="0.45" fill="#2f4a44" opacity="0.46"/><circle cx="287.4" cy="1215.0" r="0.77" fill="#2f4a44" opacity="0.45"/><circle cx="206.9" cy="1282.4" r="0.62" fill="#2f4a44" opacity="0.22"/><circle cx="190.7" cy="1229.5" r="0.57" fill="#2f4a44" opacity="0.40"/><circle cx="245.8" cy="1270.3" r="0.76" fill="#2f4a44" opacity="0.30"/><circle cx="192.3" cy="1274.2" r="0.59" fill="#2f4a44" opacity="0.47"/><circle cx="191.9" cy="1225.1" r="0.94" fill="#2f4a44" opacity="0.43"/><circle cx="195.0" cy="1262.4" r="0.90" fill="#2f4a44" opacity="0.41"/><circle cx="263.8" cy="1225.5" r="0.67" fill="#2f4a44" opacity="0.44"/><circle cx="255.6" cy="1207.7" r="0.51" fill="#2f4a44" opacity="0.29"/><circle cx="200.7" cy="1231.4" r="0.49" fill="#2f4a44" opacity="0.47"/><circle cx="214.5" cy="1284.2" r="0.89" fill="#2f4a44" opacity="0.29"/><circle cx="207.2" cy="1276.5" r="0.62" fill="#2f4a44" opacity="0.41"/><circle cx="263.7" cy="1247.2" r="0.82" fill="#2f4a44" opacity="0.39"/><circle cx="246.5" cy="1219.4" r="0.90" fill="#2f4a44" opacity="0.42"/><circle cx="194.2" cy="1240.4" r="0.53" fill="#2f4a44" opacity="0.35"/><circle cx="220.2" cy="1227.0" r="0.50" fill="#2f4a44" opacity="0.43"/><circle cx="227.5" cy="1208.3" r="0.74" fill="#2f4a44" opacity="0.50"/><circle cx="229.4" cy="1280.4" r="0.78" fill="#2f4a44" opacity="0.42"/><circle cx="209.8" cy="1213.6" r="0.81" fill="#2f4a44" opacity="0.27"/><circle cx="251.2" cy="1206.1" r="0.95" fill="#2f4a44" opacity="0.32"/><circle cx="286.1" cy="1271.7" r="0.92" fill="#2f4a44" opacity="0.48"/><circle cx="192.3" cy="1264.1" r="0.53" fill="#2f4a44" opacity="0.49"/><circle cx="281.7" cy="1241.7" r="0.77" fill="#2f4a44" opacity="0.27"/><circle cx="215.7" cy="1233.8" r="0.59" fill="#2f4a44" opacity="0.41"/><circle cx="286.3" cy="1261.5" r="0.40" fill="#2f4a44" opacity="0.43"/><circle cx="226.4" cy="1230.7" r="0.52" fill="#2f4a44" opacity="0.26"/><circle cx="287.6" cy="1244.0" r="0.87" fill="#2f4a44" opacity="0.21"/><circle cx="272.9" cy="1259.5" r="0.94" fill="#2f4a44" opacity="0.40"/><circle cx="275.4" cy="1231.0" r="0.89" fill="#2f4a44" opacity="0.50"/><circle cx="219.5" cy="1242.7" r="0.85" fill="#2f4a44" opacity="0.48"/><circle cx="266.8" cy="1216.3" r="0.41" fill="#2f4a44" opacity="0.34"/><circle cx="231.3" cy="1265.7" r="0.71" fill="#2f4a44" opacity="0.37"/><circle cx="219.2" cy="1211.7" r="0.62" fill="#2f4a44" opacity="0.35"/><circle cx="245.2" cy="1268.3" r="0.77" fill="#2f4a44" opacity="0.43"/><circle cx="231.4" cy="1255.3" r="0.60" fill="#2f4a44" opacity="0.40"/><circle cx="269.8" cy="1224.1" r="0.73" fill="#2f4a44" opacity="0.33"/><rect x="284.00" y="1284.40" width="8" height="1.7" fill="#e8eeec"/>
<text transform="translate(66.7,1247.75) rotate(-90) scale(0.997,1)" font-family="Liberation Sans, sans-serif" font-size="14" text-anchor="middle">PC</text>
<rect x="317.5" y="947" width="108.75" height="82.00" fill="#040102"/><circle cx="367.9" cy="977.9" r="0.54" fill="#2e2628" opacity="0.59"/><circle cx="354.6" cy="985.1" r="0.49" fill="#331a1e" opacity="0.53"/><circle cx="384.3" cy="951.3" r="0.53" fill="#242424" opacity="0.72"/><circle cx="420.0" cy="981.8" r="0.57" fill="#2e2628" opacity="0.31"/><circle cx="372.5" cy="1021.9" r="0.48" fill="#331a1e" opacity="0.59"/><circle cx="402.8" cy="1019.0" r="0.55" fill="#3a1a1e" opacity="0.36"/><circle cx="403.2" cy="1019.2" r="0.91" fill="#3a1a1e" opacity="0.45"/><circle cx="355.0" cy="951.5" r="0.89" fill="#2a2a2a" opacity="0.28"/><circle cx="358.9" cy="987.3" r="0.57" fill="#2a2a2a" opacity="0.62"/><circle cx="409.3" cy="1025.1" r="0.51" fill="#2a2a2a" opacity="0.54"/><circle cx="414.1" cy="964.2" r="0.90" fill="#2a2a2a" opacity="0.32"/><circle cx="416.5" cy="988.1" r="0.70" fill="#331a1e" opacity="0.71"/><circle cx="363.3" cy="979.9" r="0.80" fill="#2a2a2a" opacity="0.32"/><circle cx="418.8" cy="1005.6" r="0.48" fill="#2a2a2a" opacity="0.53"/><circle cx="383.2" cy="959.9" r="0.82" fill="#3a1a1e" opacity="0.54"/><circle cx="322.2" cy="1017.5" r="0.93" fill="#242424" opacity="0.37"/><circle cx="383.7" cy="951.4" r="0.87" fill="#3a1a1e" opacity="0.51"/><circle cx="378.8" cy="1003.0" r="0.50" fill="#3a1a1e" opacity="0.69"/><circle cx="357.5" cy="964.8" r="0.94" fill="#2e2628" opacity="0.54"/><circle cx="320.5" cy="1011.9" r="0.45" fill="#3a1a1e" opacity="0.31"/><circle cx="342.2" cy="969.6" r="0.60" fill="#2a2a2a" opacity="0.39"/><circle cx="373.7" cy="952.4" r="0.84" fill="#242424" opacity="0.65"/><circle cx="371.6" cy="1004.8" r="0.73" fill="#2e2628" opacity="0.28"/><circle cx="387.7" cy="955.7" r="0.70" fill="#242424" opacity="0.73"/><circle cx="378.3" cy="959.1" r="0.54" fill="#3a1a1e" opacity="0.67"/><circle cx="346.1" cy="952.0" r="0.58" fill="#2e2628" opacity="0.33"/><circle cx="331.3" cy="959.9" r="0.48" fill="#2a2a2a" opacity="0.35"/><circle cx="360.0" cy="996.9" r="0.59" fill="#3a1a1e" opacity="0.49"/><circle cx="348.1" cy="1024.9" r="0.60" fill="#331a1e" opacity="0.31"/><circle cx="363.3" cy="959.4" r="0.83" fill="#331a1e" opacity="0.44"/><circle cx="413.2" cy="961.5" r="0.84" fill="#3a1a1e" opacity="0.69"/><circle cx="371.3" cy="955.9" r="0.59" fill="#2a2a2a" opacity="0.31"/><circle cx="403.7" cy="1013.6" r="0.84" fill="#2e2628" opacity="0.36"/><circle cx="319.9" cy="962.1" r="0.75" fill="#242424" opacity="0.52"/><circle cx="327.4" cy="991.9" r="0.92" fill="#331a1e" opacity="0.52"/><circle cx="419.0" cy="950.3" r="0.89" fill="#331a1e" opacity="0.52"/><circle cx="374.4" cy="991.0" r="0.89" fill="#2a2a2a" opacity="0.54"/><circle cx="420.5" cy="953.1" r="0.81" fill="#2e2628" opacity="0.30"/><circle cx="393.2" cy="984.3" r="0.89" fill="#242424" opacity="0.61"/><circle cx="391.0" cy="950.3" r="0.89" fill="#2e2628" opacity="0.37"/><circle cx="406.4" cy="1006.4" r="0.70" fill="#331a1e" opacity="0.37"/><circle cx="384.9" cy="954.8" r="0.79" fill="#2a2a2a" opacity="0.45"/><circle cx="325.9" cy="963.1" r="0.83" fill="#331a1e" opacity="0.29"/><circle cx="321.7" cy="998.0" r="0.72" fill="#331a1e" opacity="0.26"/><circle cx="401.3" cy="974.7" r="0.45" fill="#3a1a1e" opacity="0.73"/><circle cx="381.5" cy="1026.1" r="0.87" fill="#242424" opacity="0.30"/><circle cx="355.7" cy="966.5" r="0.55" fill="#2e2628" opacity="0.36"/><circle cx="330.3" cy="957.6" r="0.64" fill="#2a2a2a" opacity="0.62"/><circle cx="368.4" cy="989.8" r="0.89" fill="#3a1a1e" opacity="0.29"/><circle cx="319.1" cy="1009.1" r="0.46" fill="#2e2628" opacity="0.38"/><circle cx="383.7" cy="1024.9" r="0.85" fill="#331a1e" opacity="0.28"/><circle cx="345.3" cy="1016.1" r="0.89" fill="#331a1e" opacity="0.57"/><circle cx="391.2" cy="958.6" r="0.85" fill="#2a2a2a" opacity="0.74"/><circle cx="402.4" cy="1020.1" r="0.89" fill="#2a2a2a" opacity="0.71"/><circle cx="421.8" cy="955.6" r="0.67" fill="#3a1a1e" opacity="0.46"/><circle cx="352.8" cy="993.1" r="0.67" fill="#242424" opacity="0.29"/><circle cx="350.6" cy="985.3" r="0.68" fill="#331a1e" opacity="0.44"/><circle cx="353.7" cy="952.7" r="0.54" fill="#2a2a2a" opacity="0.52"/><circle cx="338.6" cy="1004.9" r="0.92" fill="#2e2628" opacity="0.29"/><circle cx="422.6" cy="1025.0" r="0.83" fill="#331a1e" opacity="0.69"/><circle cx="396.8" cy="964.9" r="0.84" fill="#331a1e" opacity="0.29"/><circle cx="390.0" cy="981.7" r="0.88" fill="#2e2628" opacity="0.41"/><circle cx="407.5" cy="989.1" r="0.68" fill="#2a2a2a" opacity="0.25"/><circle cx="416.5" cy="964.4" r="0.46" fill="#2e2628" opacity="0.71"/><circle cx="323.0" cy="959.9" r="0.80" fill="#2e2628" opacity="0.50"/><circle cx="402.8" cy="980.3" r="0.64" fill="#242424" opacity="0.54"/><circle cx="411.2" cy="988.7" r="0.63" fill="#3a1a1e" opacity="0.38"/><circle cx="352.7" cy="978.8" r="0.85" fill="#2e2628" opacity="0.64"/><circle cx="337.5" cy="961.7" r="0.79" fill="#3a1a1e" opacity="0.26"/><circle cx="369.6" cy="1017.3" r="0.90" fill="#242424" opacity="0.63"/><circle cx="347.6" cy="959.5" r="0.69" fill="#242424" opacity="0.75"/><circle cx="337.6" cy="959.7" r="0.82" fill="#3a1a1e" opacity="0.28"/><circle cx="348.2" cy="975.5" r="0.54" fill="#331a1e" opacity="0.64"/><circle cx="389.9" cy="955.7" r="0.62" fill="#2e2628" opacity="0.62"/><circle cx="332.8" cy="981.8" r="0.55" fill="#331a1e" opacity="0.59"/><circle cx="363.7" cy="1015.7" r="0.92" fill="#2a2a2a" opacity="0.61"/><circle cx="371.5" cy="952.9" r="0.89" fill="#242424" opacity="0.47"/><circle cx="396.1" cy="963.3" r="0.91" fill="#2a2a2a" opacity="0.73"/><circle cx="327.6" cy="976.4" r="0.83" fill="#2e2628" opacity="0.73"/><circle cx="338.4" cy="990.5" r="0.62" fill="#331a1e" opacity="0.36"/><circle cx="425.0" cy="950.2" r="0.74" fill="#331a1e" opacity="0.35"/><circle cx="407.3" cy="970.7" r="0.62" fill="#2e2628" opacity="0.45"/><circle cx="326.7" cy="1013.8" r="0.68" fill="#2e2628" opacity="0.73"/><circle cx="323.0" cy="961.8" r="0.89" fill="#2e2628" opacity="0.61"/><circle cx="386.5" cy="1011.6" r="0.64" fill="#331a1e" opacity="0.63"/><circle cx="413.0" cy="988.1" r="0.47" fill="#242424" opacity="0.75"/><circle cx="333.5" cy="981.3" r="0.87" fill="#2e2628" opacity="0.58"/><circle cx="384.4" cy="989.0" r="0.71" fill="#242424" opacity="0.38"/><circle cx="383.9" cy="1024.0" r="0.72" fill="#3a1a1e" opacity="0.75"/><circle cx="397.3" cy="999.7" r="0.61" fill="#242424" opacity="0.68"/><circle cx="340.5" cy="949.2" r="0.81" fill="#242424" opacity="0.38"/><circle cx="350.0" cy="948.9" r="0.92" fill="#242424" opacity="0.44"/><circle cx="386.7" cy="973.9" r="0.73" fill="#2e2628" opacity="0.26"/><circle cx="397.7" cy="964.8" r="0.56" fill="#2a2a2a" opacity="0.38"/><circle cx="412.8" cy="983.1" r="0.73" fill="#3a1a1e" opacity="0.60"/><circle cx="326.6" cy="1004.5" r="0.92" fill="#242424" opacity="0.28"/><circle cx="379.6" cy="988.7" r="0.63" fill="#242424" opacity="0.58"/><circle cx="414.3" cy="975.9" r="0.71" fill="#331a1e" opacity="0.45"/><circle cx="335.7" cy="991.7" r="0.68" fill="#3a1a1e" opacity="0.39"/><circle cx="403.7" cy="990.6" r="0.48" fill="#2a2a2a" opacity="0.43"/><circle cx="396.2" cy="1000.7" r="0.58" fill="#242424" opacity="0.48"/><circle cx="325.4" cy="1024.3" r="0.70" fill="#242424" opacity="0.61"/><circle cx="325.3" cy="957.5" r="0.66" fill="#3a1a1e" opacity="0.26"/><circle cx="365.0" cy="979.2" r="0.94" fill="#2e2628" opacity="0.73"/><circle cx="423.1" cy="961.5" r="0.57" fill="#2a2a2a" opacity="0.61"/><circle cx="373.9" cy="995.4" r="0.55" fill="#2a2a2a" opacity="0.56"/><circle cx="359.1" cy="969.9" r="0.94" fill="#2e2628" opacity="0.29"/><circle cx="374.5" cy="972.6" r="0.89" fill="#242424" opacity="0.35"/><circle cx="369.0" cy="1000.3" r="0.85" fill="#242424" opacity="0.50"/><circle cx="420.5" cy="1026.4" r="0.84" fill="#331a1e" opacity="0.48"/><circle cx="381.5" cy="998.8" r="0.86" fill="#242424" opacity="0.29"/><circle cx="399.0" cy="1015.3" r="0.49" fill="#3a1a1e" opacity="0.49"/><circle cx="381.2" cy="990.6" r="0.95" fill="#2e2628" opacity="0.49"/><circle cx="362.6" cy="987.8" r="0.74" fill="#2a2a2a" opacity="0.26"/><circle cx="348.9" cy="1004.2" r="0.88" fill="#2a2a2a" opacity="0.53"/><circle cx="346.8" cy="992.5" r="0.45" fill="#3a1a1e" opacity="0.69"/><circle cx="373.0" cy="983.4" r="0.93" fill="#331a1e" opacity="0.75"/><circle cx="353.1" cy="962.1" r="0.80" fill="#3a1a1e" opacity="0.41"/><circle cx="369.4" cy="1018.5" r="0.92" fill="#3a1a1e" opacity="0.39"/><circle cx="328.5" cy="993.0" r="0.85" fill="#3a1a1e" opacity="0.55"/><circle cx="404.8" cy="953.6" r="0.57" fill="#242424" opacity="0.40"/><circle cx="358.7" cy="988.8" r="0.53" fill="#2e2628" opacity="0.59"/><circle cx="331.2" cy="953.5" r="0.84" fill="#2a2a2a" opacity="0.68"/><circle cx="349.2" cy="986.5" r="0.84" fill="#3a1a1e" opacity="0.47"/><circle cx="336.7" cy="1014.7" r="0.90" fill="#3a1a1e" opacity="0.30"/><circle cx="399.6" cy="1013.2" r="0.76" fill="#3a1a1e" opacity="0.38"/><circle cx="339.9" cy="1003.6" r="0.70" fill="#2e2628" opacity="0.52"/><circle cx="362.1" cy="1005.2" r="0.68" fill="#3a1a1e" opacity="0.45"/><circle cx="327.9" cy="969.3" r="0.81" fill="#2e2628" opacity="0.34"/><circle cx="320.8" cy="995.8" r="0.68" fill="#2e2628" opacity="0.31"/><circle cx="329.8" cy="997.3" r="0.72" fill="#242424" opacity="0.66"/><circle cx="332.9" cy="974.9" r="0.63" fill="#2e2628" opacity="0.72"/><circle cx="327.5" cy="954.8" r="0.73" fill="#3a1a1e" opacity="0.72"/><circle cx="387.4" cy="1002.2" r="0.90" fill="#331a1e" opacity="0.72"/><circle cx="385.3" cy="968.5" r="0.62" fill="#331a1e" opacity="0.43"/><circle cx="349.8" cy="964.5" r="0.53" fill="#331a1e" opacity="0.66"/><circle cx="331.6" cy="966.9" r="0.85" fill="#2e2628" opacity="0.26"/><circle cx="392.4" cy="996.8" r="0.51" fill="#242424" opacity="0.61"/><circle cx="392.2" cy="995.1" r="0.49" fill="#242424" opacity="0.32"/><circle cx="330.0" cy="988.5" r="0.69" fill="#2e2628" opacity="0.38"/><circle cx="357.8" cy="1019.3" r="0.74" fill="#331a1e" opacity="0.39"/><circle cx="331.1" cy="966.4" r="0.89" fill="#242424" opacity="0.62"/><circle cx="374.3" cy="1015.7" r="0.55" fill="#3a1a1e" opacity="0.59"/><circle cx="389.5" cy="1007.4" r="0.55" fill="#2a2a2a" opacity="0.63"/><circle cx="394.2" cy="1006.1" r="0.88" fill="#2a2a2a" opacity="0.61"/><circle cx="324.1" cy="1006.2" r="0.60" fill="#2e2628" opacity="0.68"/><circle cx="350.9" cy="953.8" r="0.94" fill="#331a1e" opacity="0.35"/><circle cx="414.4" cy="964.4" r="0.49" fill="#2a2a2a" opacity="0.41"/><circle cx="367.6" cy="1001.1" r="0.78" fill="#331a1e" opacity="0.55"/><circle cx="329.0" cy="1020.4" r="0.83" fill="#3a1a1e" opacity="0.38"/><circle cx="324.7" cy="977.2" r="0.88" fill="#2a2a2a" opacity="0.63"/><circle cx="392.9" cy="1022.5" r="0.57" fill="#331a1e" opacity="0.26"/><circle cx="324.2" cy="948.4" r="0.80" fill="#3a1a1e" opacity="0.32"/><circle cx="424.6" cy="1000.5" r="0.79" fill="#331a1e" opacity="0.52"/><circle cx="352.4" cy="1006.3" r="0.75" fill="#242424" opacity="0.36"/><circle cx="368.7" cy="969.7" r="0.69" fill="#2a2a2a" opacity="0.35"/><circle cx="366.3" cy="985.7" r="0.64" fill="#242424" opacity="0.34"/><circle cx="368.1" cy="955.6" r="0.52" fill="#2a2a2a" opacity="0.66"/><circle cx="326.0" cy="968.6" r="0.51" fill="#3a1a1e" opacity="0.39"/><circle cx="362.6" cy="1023.7" r="0.56" fill="#242424" opacity="0.57"/><rect x="416.75" y="1026.40" width="8" height="1.7" fill="#ddd"/>
<rect x="431.75" y="947" width="108.25" height="82.00" fill="url(#bfbase)"/><rect x="431.75" y="947" width="108.25" height="82.00" fill="url(#bfcenter)" opacity="1"/><rect x="431.75" y="947" width="108.25" height="82.00" fill="url(#bfright)"/><rect x="431.75" y="947" width="108.25" height="82.00" fill="url(#bfblue)"/><rect x="431.75" y="947" width="108.25" height="82.00" fill="url(#bftl)"/><rect x="431.75" y="947" width="108.25" height="82.00" fill="url(#bfbr)"/><rect x="431.75" y="947" width="108.25" height="82.00" fill="url(#bftop)"/><rect x="431.75" y="947" width="108.25" height="82.00" fill="#1c3a32" opacity="0.12"/><rect x="431.75" y="947" width="108.25" height="82.00" fill="#000" filter="url(#mottle)" opacity="0.13"/><rect x="431.75" y="947" width="108.25" height="82.00" fill="#000" filter="url(#speck)" opacity="0.16"/><circle cx="531.8" cy="979.1" r="0.89" fill="#2f4a44" opacity="0.19"/><circle cx="484.0" cy="970.0" r="0.73" fill="#2f4a44" opacity="0.14"/><circle cx="477.1" cy="973.4" r="0.42" fill="#2f4a44" opacity="0.36"/><circle cx="529.5" cy="960.2" r="0.78" fill="#2f4a44" opacity="0.28"/><circle cx="477.9" cy="995.2" r="0.80" fill="#2f4a44" opacity="0.20"/><circle cx="471.3" cy="988.6" r="1.00" fill="#2f4a44" opacity="0.40"/><circle cx="515.2" cy="984.6" r="0.95" fill="#2f4a44" opacity="0.41"/><circle cx="526.5" cy="963.7" r="0.65" fill="#2f4a44" opacity="0.19"/><circle cx="480.7" cy="1016.2" r="0.70" fill="#2f4a44" opacity="0.22"/><circle cx="450.4" cy="959.4" r="0.89" fill="#2f4a44" opacity="0.41"/><circle cx="527.0" cy="948.5" r="0.56" fill="#2f4a44" opacity="0.16"/><circle cx="482.0" cy="964.3" r="0.69" fill="#2f4a44" opacity="0.26"/><circle cx="499.8" cy="989.2" r="0.70" fill="#2f4a44" opacity="0.13"/><circle cx="532.7" cy="982.2" r="0.92" fill="#2f4a44" opacity="0.22"/><circle cx="442.5" cy="1027.1" r="0.70" fill="#2f4a44" opacity="0.17"/><circle cx="534.9" cy="1022.1" r="0.47" fill="#2f4a44" opacity="0.41"/><circle cx="446.8" cy="958.5" r="0.49" fill="#2f4a44" opacity="0.38"/><circle cx="497.1" cy="992.4" r="0.82" fill="#2f4a44" opacity="0.21"/><circle cx="439.4" cy="954.5" r="0.54" fill="#2f4a44" opacity="0.30"/><circle cx="440.7" cy="951.8" r="0.52" fill="#2f4a44" opacity="0.12"/><circle cx="438.9" cy="959.1" r="0.47" fill="#2f4a44" opacity="0.22"/><circle cx="522.9" cy="1001.4" r="0.40" fill="#2f4a44" opacity="0.14"/><circle cx="468.6" cy="984.8" r="0.67" fill="#2f4a44" opacity="0.28"/><circle cx="509.3" cy="998.7" r="0.55" fill="#2f4a44" opacity="0.20"/><circle cx="538.1" cy="989.8" r="0.95" fill="#2f4a44" opacity="0.40"/><rect x="530.50" y="1026.40" width="8" height="1.7" fill="#e8eeec"/>
<text transform="translate(315.0,988.35) rotate(-90) scale(0.997,1)" font-family="Liberation Sans, sans-serif" font-size="14" text-anchor="middle">50</text>
<rect x="317.5" y="1033" width="108.75" height="82.50" fill="#040102"/><circle cx="366.8" cy="1079.1" r="0.68" fill="#242424" opacity="0.68"/><circle cx="338.8" cy="1098.7" r="0.76" fill="#242424" opacity="0.65"/><circle cx="328.5" cy="1058.4" r="0.72" fill="#2a2a2a" opacity="0.70"/><circle cx="386.2" cy="1081.9" r="0.93" fill="#242424" opacity="0.58"/><circle cx="384.2" cy="1046.7" r="0.87" fill="#2a2a2a" opacity="0.28"/><circle cx="322.3" cy="1104.8" r="0.47" fill="#331a1e" opacity="0.48"/><circle cx="365.5" cy="1101.8" r="0.57" fill="#331a1e" opacity="0.40"/><circle cx="319.0" cy="1040.8" r="0.65" fill="#3a1a1e" opacity="0.53"/><circle cx="418.0" cy="1040.7" r="0.61" fill="#3a1a1e" opacity="0.36"/><circle cx="349.4" cy="1039.7" r="0.65" fill="#2a2a2a" opacity="0.67"/><circle cx="359.8" cy="1111.1" r="0.56" fill="#2a2a2a" opacity="0.71"/><circle cx="324.1" cy="1064.2" r="0.66" fill="#242424" opacity="0.53"/><circle cx="339.7" cy="1088.3" r="0.49" fill="#3a1a1e" opacity="0.42"/><circle cx="421.4" cy="1095.0" r="0.52" fill="#2a2a2a" opacity="0.60"/><circle cx="319.7" cy="1071.4" r="0.54" fill="#242424" opacity="0.53"/><circle cx="366.3" cy="1049.4" r="0.66" fill="#2e2628" opacity="0.44"/><circle cx="360.7" cy="1113.7" r="0.58" fill="#2a2a2a" opacity="0.74"/><circle cx="404.3" cy="1058.5" r="0.56" fill="#2a2a2a" opacity="0.45"/><circle cx="409.7" cy="1085.7" r="0.47" fill="#2a2a2a" opacity="0.32"/><circle cx="365.6" cy="1034.8" r="0.61" fill="#331a1e" opacity="0.40"/><circle cx="326.3" cy="1041.3" r="0.77" fill="#331a1e" opacity="0.26"/><circle cx="357.9" cy="1084.1" r="0.93" fill="#2e2628" opacity="0.49"/><circle cx="379.8" cy="1103.8" r="0.76" fill="#2e2628" opacity="0.41"/><circle cx="342.9" cy="1083.1" r="0.53" fill="#2e2628" opacity="0.56"/><circle cx="377.6" cy="1089.3" r="0.89" fill="#242424" opacity="0.55"/><circle cx="363.5" cy="1042.4" r="0.71" fill="#2a2a2a" opacity="0.38"/><circle cx="397.5" cy="1065.5" r="0.86" fill="#242424" opacity="0.55"/><circle cx="349.8" cy="1048.1" r="0.51" fill="#2a2a2a" opacity="0.49"/><circle cx="388.3" cy="1083.6" r="0.59" fill="#2a2a2a" opacity="0.71"/><circle cx="340.3" cy="1035.3" r="0.66" fill="#3a1a1e" opacity="0.37"/><circle cx="323.5" cy="1056.7" r="0.74" fill="#331a1e" opacity="0.32"/><circle cx="357.2" cy="1105.7" r="0.78" fill="#3a1a1e" opacity="0.60"/><circle cx="380.9" cy="1045.3" r="0.91" fill="#2a2a2a" opacity="0.49"/><circle cx="356.7" cy="1059.1" r="0.46" fill="#2a2a2a" opacity="0.57"/><circle cx="370.0" cy="1092.8" r="0.52" fill="#3a1a1e" opacity="0.29"/><circle cx="366.9" cy="1063.6" r="0.90" fill="#2a2a2a" opacity="0.62"/><circle cx="393.6" cy="1097.9" r="0.63" fill="#3a1a1e" opacity="0.59"/><circle cx="414.7" cy="1104.1" r="0.92" fill="#242424" opacity="0.27"/><circle cx="371.9" cy="1035.2" r="0.64" fill="#242424" opacity="0.26"/><circle cx="326.2" cy="1041.3" r="0.95" fill="#2a2a2a" opacity="0.69"/><circle cx="396.2" cy="1065.3" r="0.68" fill="#331a1e" opacity="0.48"/><circle cx="376.3" cy="1075.8" r="0.46" fill="#331a1e" opacity="0.55"/><circle cx="369.8" cy="1052.5" r="0.70" fill="#2a2a2a" opacity="0.56"/><circle cx="416.8" cy="1054.6" r="0.63" fill="#2a2a2a" opacity="0.32"/><circle cx="383.8" cy="1075.7" r="0.78" fill="#3a1a1e" opacity="0.47"/><circle cx="413.7" cy="1060.3" r="0.55" fill="#3a1a1e" opacity="0.47"/><circle cx="404.5" cy="1107.6" r="0.64" fill="#2e2628" opacity="0.54"/><circle cx="352.3" cy="1045.0" r="0.63" fill="#242424" opacity="0.70"/><circle cx="322.8" cy="1039.2" r="0.86" fill="#3a1a1e" opacity="0.31"/><circle cx="368.8" cy="1108.5" r="0.64" fill="#242424" opacity="0.51"/><circle cx="390.3" cy="1091.7" r="0.68" fill="#331a1e" opacity="0.29"/><circle cx="321.9" cy="1104.3" r="0.79" fill="#2a2a2a" opacity="0.39"/><circle cx="356.3" cy="1086.3" r="0.46" fill="#331a1e" opacity="0.32"/><circle cx="367.1" cy="1036.0" r="0.57" fill="#3a1a1e" opacity="0.32"/><circle cx="323.5" cy="1084.6" r="0.50" fill="#242424" opacity="0.52"/><circle cx="386.8" cy="1063.7" r="0.79" fill="#2a2a2a" opacity="0.35"/><circle cx="369.2" cy="1048.4" r="0.83" fill="#2a2a2a" opacity="0.52"/><circle cx="322.4" cy="1052.2" r="0.72" fill="#3a1a1e" opacity="0.72"/><circle cx="371.9" cy="1114.2" r="0.65" fill="#2e2628" opacity="0.65"/><circle cx="415.2" cy="1041.0" r="0.51" fill="#242424" opacity="0.48"/><circle cx="385.3" cy="1107.3" r="0.73" fill="#242424" opacity="0.58"/><circle cx="372.2" cy="1100.0" r="0.68" fill="#3a1a1e" opacity="0.58"/><circle cx="340.4" cy="1092.1" r="0.56" fill="#2a2a2a" opacity="0.70"/><circle cx="423.2" cy="1112.7" r="0.94" fill="#331a1e" opacity="0.72"/><circle cx="346.5" cy="1091.8" r="0.62" fill="#2a2a2a" opacity="0.29"/><circle cx="365.6" cy="1078.3" r="0.69" fill="#3a1a1e" opacity="0.26"/><circle cx="404.9" cy="1039.2" r="0.54" fill="#2a2a2a" opacity="0.42"/><circle cx="402.6" cy="1045.3" r="0.95" fill="#2e2628" opacity="0.70"/><circle cx="373.8" cy="1088.6" r="0.92" fill="#242424" opacity="0.50"/><circle cx="419.8" cy="1040.9" r="0.67" fill="#2e2628" opacity="0.53"/><circle cx="407.2" cy="1079.2" r="0.71" fill="#2e2628" opacity="0.67"/><circle cx="378.3" cy="1059.1" r="0.93" fill="#242424" opacity="0.69"/><circle cx="383.6" cy="1058.5" r="0.93" fill="#2e2628" opacity="0.51"/><circle cx="379.7" cy="1050.2" r="0.51" fill="#331a1e" opacity="0.25"/><circle cx="358.7" cy="1077.3" r="0.71" fill="#2a2a2a" opacity="0.45"/><circle cx="404.0" cy="1079.3" r="0.50" fill="#242424" opacity="0.33"/><circle cx="417.9" cy="1070.9" r="0.58" fill="#242424" opacity="0.49"/><circle cx="332.1" cy="1068.9" r="0.71" fill="#242424" opacity="0.30"/><circle cx="363.3" cy="1036.4" r="0.51" fill="#3a1a1e" opacity="0.64"/><circle cx="320.9" cy="1049.6" r="0.46" fill="#2e2628" opacity="0.39"/><circle cx="395.7" cy="1053.7" r="0.50" fill="#242424" opacity="0.62"/><circle cx="331.6" cy="1075.1" r="0.81" fill="#3a1a1e" opacity="0.60"/><circle cx="412.3" cy="1035.9" r="0.86" fill="#242424" opacity="0.56"/><circle cx="376.0" cy="1103.5" r="0.77" fill="#331a1e" opacity="0.51"/><circle cx="409.4" cy="1083.2" r="0.57" fill="#2e2628" opacity="0.62"/><circle cx="405.0" cy="1106.7" r="0.75" fill="#3a1a1e" opacity="0.70"/><circle cx="339.3" cy="1096.7" r="0.89" fill="#2e2628" opacity="0.32"/><circle cx="344.1" cy="1092.5" r="0.64" fill="#3a1a1e" opacity="0.47"/><circle cx="419.0" cy="1077.7" r="0.55" fill="#2e2628" opacity="0.56"/><circle cx="403.8" cy="1041.7" r="0.79" fill="#331a1e" opacity="0.71"/><circle cx="421.9" cy="1043.3" r="0.77" fill="#331a1e" opacity="0.42"/><circle cx="425.1" cy="1101.1" r="0.69" fill="#2a2a2a" opacity="0.26"/><circle cx="399.8" cy="1083.4" r="0.69" fill="#331a1e" opacity="0.34"/><circle cx="330.8" cy="1047.9" r="0.95" fill="#2e2628" opacity="0.71"/><circle cx="328.7" cy="1039.0" r="0.49" fill="#242424" opacity="0.30"/><circle cx="360.2" cy="1068.3" r="0.67" fill="#3a1a1e" opacity="0.55"/><circle cx="319.9" cy="1090.4" r="0.54" fill="#2e2628" opacity="0.48"/><circle cx="397.4" cy="1066.6" r="0.75" fill="#2e2628" opacity="0.30"/><circle cx="403.1" cy="1060.1" r="0.85" fill="#2a2a2a" opacity="0.60"/><circle cx="410.4" cy="1084.7" r="0.73" fill="#242424" opacity="0.35"/><circle cx="380.9" cy="1061.4" r="0.59" fill="#3a1a1e" opacity="0.31"/><circle cx="397.8" cy="1046.9" r="0.52" fill="#242424" opacity="0.41"/><circle cx="376.0" cy="1063.8" r="0.83" fill="#242424" opacity="0.45"/><circle cx="395.6" cy="1039.7" r="0.60" fill="#3a1a1e" opacity="0.30"/><circle cx="413.3" cy="1113.7" r="0.47" fill="#331a1e" opacity="0.39"/><circle cx="421.1" cy="1058.1" r="0.78" fill="#2e2628" opacity="0.53"/><circle cx="375.4" cy="1065.4" r="0.77" fill="#242424" opacity="0.60"/><circle cx="399.8" cy="1112.9" r="0.51" fill="#2a2a2a" opacity="0.30"/><circle cx="343.8" cy="1069.7" r="0.48" fill="#331a1e" opacity="0.35"/><circle cx="358.6" cy="1041.9" r="0.59" fill="#3a1a1e" opacity="0.42"/><circle cx="376.2" cy="1067.5" r="0.73" fill="#331a1e" opacity="0.75"/><circle cx="386.6" cy="1099.2" r="0.72" fill="#2a2a2a" opacity="0.58"/><circle cx="420.5" cy="1065.1" r="0.64" fill="#2e2628" opacity="0.74"/><circle cx="409.8" cy="1077.6" r="0.48" fill="#331a1e" opacity="0.72"/><circle cx="363.4" cy="1076.4" r="0.61" fill="#331a1e" opacity="0.52"/><circle cx="370.1" cy="1055.7" r="0.78" fill="#3a1a1e" opacity="0.62"/><circle cx="321.4" cy="1096.2" r="0.47" fill="#331a1e" opacity="0.33"/><circle cx="399.1" cy="1065.4" r="0.82" fill="#3a1a1e" opacity="0.28"/><circle cx="424.1" cy="1110.0" r="0.85" fill="#2a2a2a" opacity="0.36"/><circle cx="395.3" cy="1054.2" r="0.47" fill="#2e2628" opacity="0.30"/><circle cx="405.0" cy="1107.2" r="0.94" fill="#2e2628" opacity="0.66"/><circle cx="382.9" cy="1043.3" r="0.66" fill="#331a1e" opacity="0.31"/><circle cx="410.4" cy="1062.7" r="0.51" fill="#2e2628" opacity="0.47"/><circle cx="389.8" cy="1070.7" r="0.77" fill="#3a1a1e" opacity="0.59"/><circle cx="357.4" cy="1093.9" r="0.93" fill="#2e2628" opacity="0.62"/><circle cx="344.0" cy="1043.2" r="0.84" fill="#3a1a1e" opacity="0.56"/><circle cx="356.8" cy="1055.9" r="0.80" fill="#331a1e" opacity="0.35"/><circle cx="348.2" cy="1053.3" r="0.70" fill="#2e2628" opacity="0.58"/><circle cx="339.4" cy="1089.0" r="0.45" fill="#2a2a2a" opacity="0.38"/><circle cx="321.4" cy="1037.1" r="0.72" fill="#2e2628" opacity="0.29"/><circle cx="327.7" cy="1088.4" r="0.57" fill="#331a1e" opacity="0.74"/><circle cx="370.2" cy="1062.5" r="0.62" fill="#3a1a1e" opacity="0.62"/><circle cx="408.0" cy="1040.0" r="0.67" fill="#2a2a2a" opacity="0.66"/><circle cx="408.0" cy="1095.9" r="0.66" fill="#242424" opacity="0.38"/><circle cx="405.0" cy="1063.7" r="0.61" fill="#331a1e" opacity="0.52"/><circle cx="398.1" cy="1108.1" r="0.78" fill="#242424" opacity="0.54"/><circle cx="367.8" cy="1060.1" r="0.49" fill="#331a1e" opacity="0.53"/><circle cx="370.3" cy="1089.2" r="0.86" fill="#3a1a1e" opacity="0.25"/><circle cx="351.6" cy="1107.3" r="0.49" fill="#331a1e" opacity="0.40"/><circle cx="395.9" cy="1089.9" r="0.89" fill="#3a1a1e" opacity="0.36"/><circle cx="388.7" cy="1060.3" r="0.61" fill="#2a2a2a" opacity="0.47"/><circle cx="382.0" cy="1106.6" r="0.67" fill="#3a1a1e" opacity="0.65"/><circle cx="351.0" cy="1059.6" r="0.93" fill="#242424" opacity="0.61"/><circle cx="373.6" cy="1040.8" r="0.46" fill="#3a1a1e" opacity="0.59"/><circle cx="380.9" cy="1098.1" r="0.63" fill="#331a1e" opacity="0.45"/><circle cx="335.0" cy="1081.6" r="0.54" fill="#2e2628" opacity="0.63"/><circle cx="412.5" cy="1056.7" r="0.56" fill="#2a2a2a" opacity="0.28"/><circle cx="335.4" cy="1057.8" r="0.78" fill="#2a2a2a" opacity="0.65"/><circle cx="325.3" cy="1078.0" r="0.49" fill="#331a1e" opacity="0.29"/><circle cx="397.2" cy="1106.4" r="0.46" fill="#2a2a2a" opacity="0.58"/><circle cx="328.9" cy="1099.7" r="0.57" fill="#242424" opacity="0.36"/><circle cx="400.2" cy="1076.0" r="0.65" fill="#242424" opacity="0.42"/><circle cx="421.9" cy="1088.1" r="0.69" fill="#242424" opacity="0.65"/><circle cx="326.2" cy="1083.8" r="0.66" fill="#2a2a2a" opacity="0.66"/><circle cx="389.7" cy="1102.7" r="0.87" fill="#242424" opacity="0.69"/><circle cx="420.7" cy="1085.5" r="0.63" fill="#331a1e" opacity="0.26"/><circle cx="330.2" cy="1108.3" r="0.57" fill="#2e2628" opacity="0.33"/><circle cx="386.3" cy="1089.1" r="0.55" fill="#3a1a1e" opacity="0.46"/><circle cx="349.7" cy="1112.1" r="0.69" fill="#2a2a2a" opacity="0.62"/><circle cx="350.9" cy="1046.5" r="0.91" fill="#2e2628" opacity="0.63"/><rect x="416.75" y="1112.90" width="8" height="1.7" fill="#ddd"/>
<rect x="431.75" y="1033" width="108.25" height="82.50" fill="url(#bfbase)"/><rect x="431.75" y="1033" width="108.25" height="82.50" fill="url(#bfcenter)" opacity="1"/><rect x="431.75" y="1033" width="108.25" height="82.50" fill="url(#bfright)"/><rect x="431.75" y="1033" width="108.25" height="82.50" fill="url(#bfblue)"/><rect x="431.75" y="1033" width="108.25" height="82.50" fill="url(#bftl)"/><rect x="431.75" y="1033" width="108.25" height="82.50" fill="url(#bfbr)"/><rect x="431.75" y="1033" width="108.25" height="82.50" fill="url(#bftop)"/><rect x="431.75" y="1033" width="108.25" height="82.50" fill="#1c3a32" opacity="0.12"/><rect x="431.75" y="1033" width="108.25" height="82.50" fill="#000" filter="url(#mottle)" opacity="0.13"/><rect x="431.75" y="1033" width="108.25" height="82.50" fill="#000" filter="url(#speck)" opacity="0.16"/><circle cx="483.9" cy="1087.6" r="0.77" fill="#2f4a44" opacity="0.33"/><circle cx="528.5" cy="1094.4" r="0.50" fill="#2f4a44" opacity="0.19"/><circle cx="481.1" cy="1065.4" r="0.98" fill="#2f4a44" opacity="0.34"/><circle cx="482.5" cy="1062.4" r="0.54" fill="#2f4a44" opacity="0.30"/><circle cx="530.7" cy="1047.6" r="0.67" fill="#2f4a44" opacity="0.22"/><circle cx="497.5" cy="1054.6" r="0.44" fill="#2f4a44" opacity="0.32"/><circle cx="465.4" cy="1086.0" r="0.94" fill="#2f4a44" opacity="0.29"/><circle cx="529.5" cy="1098.5" r="0.44" fill="#2f4a44" opacity="0.19"/><circle cx="503.1" cy="1072.5" r="0.40" fill="#2f4a44" opacity="0.37"/><circle cx="501.7" cy="1069.0" r="0.71" fill="#2f4a44" opacity="0.17"/><circle cx="491.2" cy="1045.6" r="0.80" fill="#2f4a44" opacity="0.40"/><circle cx="455.8" cy="1055.4" r="0.75" fill="#2f4a44" opacity="0.38"/><circle cx="450.8" cy="1065.5" r="0.76" fill="#2f4a44" opacity="0.17"/><circle cx="440.3" cy="1094.1" r="0.77" fill="#2f4a44" opacity="0.29"/><circle cx="490.7" cy="1042.4" r="0.69" fill="#2f4a44" opacity="0.27"/><circle cx="487.4" cy="1047.3" r="0.44" fill="#2f4a44" opacity="0.27"/><circle cx="506.6" cy="1087.7" r="0.96" fill="#2f4a44" opacity="0.23"/><circle cx="474.3" cy="1060.7" r="0.70" fill="#2f4a44" opacity="0.32"/><circle cx="524.4" cy="1041.6" r="0.75" fill="#2f4a44" opacity="0.35"/><circle cx="512.3" cy="1068.7" r="0.44" fill="#2f4a44" opacity="0.22"/><circle cx="496.1" cy="1096.6" r="0.53" fill="#2f4a44" opacity="0.22"/><circle cx="471.8" cy="1038.4" r="0.98" fill="#2f4a44" opacity="0.23"/><circle cx="479.7" cy="1111.8" r="0.87" fill="#2f4a44" opacity="0.20"/><circle cx="532.6" cy="1100.3" r="0.74" fill="#2f4a44" opacity="0.25"/><circle cx="522.8" cy="1108.0" r="0.80" fill="#2f4a44" opacity="0.22"/><rect x="530.50" y="1112.90" width="8" height="1.7" fill="#e8eeec"/>
<text transform="translate(315.0,1071.9) rotate(-90) scale(0.997,1)" font-family="Liberation Sans, sans-serif" font-size="14" text-anchor="middle">200</text>
<rect x="317.5" y="1118.75" width="108.75" height="81.25" fill="#040102"/><circle cx="346.1" cy="1174.1" r="0.78" fill="#2e2628" opacity="0.58"/><circle cx="411.3" cy="1170.5" r="0.52" fill="#2e2628" opacity="0.52"/><circle cx="341.3" cy="1143.1" r="0.51" fill="#242424" opacity="0.59"/><circle cx="425.0" cy="1198.4" r="0.49" fill="#2e2628" opacity="0.65"/><circle cx="413.3" cy="1140.5" r="0.82" fill="#242424" opacity="0.72"/><circle cx="403.2" cy="1140.1" r="0.69" fill="#2e2628" opacity="0.63"/><circle cx="378.7" cy="1153.8" r="0.89" fill="#3a1a1e" opacity="0.57"/><circle cx="388.4" cy="1147.2" r="0.85" fill="#331a1e" opacity="0.74"/><circle cx="392.3" cy="1163.7" r="0.67" fill="#2e2628" opacity="0.61"/><circle cx="375.7" cy="1143.0" r="0.71" fill="#2e2628" opacity="0.38"/><circle cx="367.5" cy="1167.7" r="0.89" fill="#242424" opacity="0.54"/><circle cx="377.2" cy="1164.6" r="0.80" fill="#2e2628" opacity="0.32"/><circle cx="364.4" cy="1169.6" r="0.64" fill="#242424" opacity="0.61"/><circle cx="418.1" cy="1123.2" r="0.70" fill="#2e2628" opacity="0.60"/><circle cx="366.0" cy="1139.9" r="0.82" fill="#242424" opacity="0.38"/><circle cx="399.6" cy="1147.5" r="0.71" fill="#3a1a1e" opacity="0.58"/><circle cx="414.7" cy="1175.5" r="0.81" fill="#2e2628" opacity="0.36"/><circle cx="384.4" cy="1165.8" r="0.47" fill="#331a1e" opacity="0.54"/><circle cx="379.3" cy="1134.2" r="0.53" fill="#2e2628" opacity="0.59"/><circle cx="330.5" cy="1137.6" r="0.66" fill="#2a2a2a" opacity="0.55"/><circle cx="404.6" cy="1174.8" r="0.86" fill="#242424" opacity="0.57"/><circle cx="374.7" cy="1129.8" r="0.51" fill="#3a1a1e" opacity="0.40"/><circle cx="347.2" cy="1167.1" r="0.92" fill="#2a2a2a" opacity="0.51"/><circle cx="409.4" cy="1122.6" r="0.62" fill="#3a1a1e" opacity="0.50"/><circle cx="422.0" cy="1160.7" r="0.56" fill="#242424" opacity="0.35"/><circle cx="403.8" cy="1149.6" r="0.82" fill="#2e2628" opacity="0.38"/><circle cx="391.5" cy="1187.0" r="0.66" fill="#3a1a1e" opacity="0.37"/><circle cx="401.0" cy="1166.7" r="0.55" fill="#242424" opacity="0.43"/><circle cx="322.6" cy="1151.3" r="0.48" fill="#2a2a2a" opacity="0.27"/><circle cx="416.8" cy="1171.5" r="0.55" fill="#3a1a1e" opacity="0.49"/><circle cx="377.7" cy="1146.1" r="0.71" fill="#3a1a1e" opacity="0.73"/><circle cx="334.3" cy="1123.9" r="0.86" fill="#3a1a1e" opacity="0.36"/><circle cx="350.9" cy="1150.5" r="0.62" fill="#2a2a2a" opacity="0.30"/><circle cx="370.9" cy="1166.1" r="0.94" fill="#331a1e" opacity="0.27"/><circle cx="375.6" cy="1130.0" r="0.61" fill="#2a2a2a" opacity="0.70"/><circle cx="376.7" cy="1129.7" r="0.90" fill="#2a2a2a" opacity="0.71"/><circle cx="391.3" cy="1126.9" r="0.49" fill="#3a1a1e" opacity="0.38"/><circle cx="406.2" cy="1123.5" r="0.78" fill="#2e2628" opacity="0.72"/><circle cx="374.0" cy="1192.7" r="0.55" fill="#242424" opacity="0.45"/><circle cx="324.3" cy="1163.1" r="0.51" fill="#2a2a2a" opacity="0.32"/><circle cx="375.5" cy="1184.1" r="0.65" fill="#331a1e" opacity="0.32"/><circle cx="376.7" cy="1140.4" r="0.48" fill="#3a1a1e" opacity="0.27"/><circle cx="396.1" cy="1128.2" r="0.88" fill="#3a1a1e" opacity="0.75"/><circle cx="404.9" cy="1153.4" r="0.94" fill="#331a1e" opacity="0.59"/><circle cx="393.3" cy="1192.5" r="0.50" fill="#2a2a2a" opacity="0.40"/><circle cx="424.8" cy="1157.1" r="0.53" fill="#3a1a1e" opacity="0.32"/><circle cx="350.6" cy="1161.5" r="0.58" fill="#331a1e" opacity="0.42"/><circle cx="418.6" cy="1139.3" r="0.66" fill="#3a1a1e" opacity="0.75"/><circle cx="399.8" cy="1158.1" r="0.53" fill="#3a1a1e" opacity="0.54"/><circle cx="420.8" cy="1156.5" r="0.81" fill="#242424" opacity="0.67"/><circle cx="321.6" cy="1191.5" r="0.86" fill="#242424" opacity="0.34"/><circle cx="329.5" cy="1166.4" r="0.49" fill="#3a1a1e" opacity="0.70"/><circle cx="379.5" cy="1177.2" r="0.56" fill="#2a2a2a" opacity="0.62"/><circle cx="387.8" cy="1153.7" r="0.46" fill="#331a1e" opacity="0.68"/><circle cx="333.8" cy="1186.3" r="0.78" fill="#2e2628" opacity="0.62"/><circle cx="364.2" cy="1179.3" r="0.69" fill="#2e2628" opacity="0.55"/><circle cx="344.5" cy="1161.8" r="0.74" fill="#2a2a2a" opacity="0.70"/><circle cx="415.3" cy="1171.5" r="0.48" fill="#331a1e" opacity="0.60"/><circle cx="364.1" cy="1192.2" r="0.50" fill="#2a2a2a" opacity="0.71"/><circle cx="418.0" cy="1184.5" r="0.79" fill="#2e2628" opacity="0.61"/><circle cx="389.7" cy="1166.6" r="0.81" fill="#3a1a1e" opacity="0.31"/><circle cx="337.5" cy="1128.0" r="0.77" fill="#331a1e" opacity="0.56"/><circle cx="373.1" cy="1181.2" r="0.64" fill="#3a1a1e" opacity="0.66"/><circle cx="371.8" cy="1165.1" r="0.48" fill="#242424" opacity="0.68"/><circle cx="374.8" cy="1142.0" r="0.79" fill="#242424" opacity="0.71"/><circle cx="391.5" cy="1149.5" r="0.83" fill="#2a2a2a" opacity="0.72"/><circle cx="350.5" cy="1193.3" r="0.94" fill="#2a2a2a" opacity="0.47"/><circle cx="362.3" cy="1164.5" r="0.49" fill="#2a2a2a" opacity="0.36"/><circle cx="334.1" cy="1145.5" r="0.87" fill="#3a1a1e" opacity="0.52"/><circle cx="364.6" cy="1164.3" r="0.55" fill="#2a2a2a" opacity="0.74"/><circle cx="328.0" cy="1128.7" r="0.93" fill="#2e2628" opacity="0.53"/><circle cx="385.5" cy="1144.6" r="0.53" fill="#2a2a2a" opacity="0.34"/><circle cx="324.4" cy="1154.4" r="0.78" fill="#2e2628" opacity="0.60"/><circle cx="393.3" cy="1182.9" r="0.53" fill="#331a1e" opacity="0.28"/><circle cx="384.8" cy="1160.9" r="0.84" fill="#331a1e" opacity="0.62"/><circle cx="328.3" cy="1181.2" r="0.66" fill="#3a1a1e" opacity="0.37"/><circle cx="348.6" cy="1165.6" r="0.66" fill="#331a1e" opacity="0.39"/><circle cx="397.8" cy="1136.5" r="0.53" fill="#2a2a2a" opacity="0.68"/><circle cx="421.5" cy="1139.9" r="0.76" fill="#2e2628" opacity="0.30"/><circle cx="371.1" cy="1167.2" r="0.80" fill="#2a2a2a" opacity="0.54"/><circle cx="363.3" cy="1176.0" r="0.69" fill="#2e2628" opacity="0.67"/><circle cx="331.8" cy="1176.2" r="0.49" fill="#242424" opacity="0.30"/><circle cx="403.7" cy="1184.6" r="0.46" fill="#242424" opacity="0.71"/><circle cx="393.9" cy="1169.8" r="0.57" fill="#2e2628" opacity="0.33"/><circle cx="415.2" cy="1121.3" r="0.61" fill="#3a1a1e" opacity="0.42"/><circle cx="339.1" cy="1131.5" r="0.73" fill="#2e2628" opacity="0.56"/><circle cx="419.2" cy="1183.0" r="0.67" fill="#331a1e" opacity="0.31"/><circle cx="362.3" cy="1136.3" r="0.76" fill="#2e2628" opacity="0.44"/><circle cx="320.7" cy="1182.3" r="0.91" fill="#3a1a1e" opacity="0.45"/><circle cx="327.1" cy="1139.0" r="0.87" fill="#2e2628" opacity="0.55"/><circle cx="378.1" cy="1181.8" r="0.50" fill="#242424" opacity="0.68"/><circle cx="373.2" cy="1155.6" r="0.90" fill="#2e2628" opacity="0.53"/><circle cx="377.8" cy="1134.7" r="0.94" fill="#2e2628" opacity="0.27"/><circle cx="347.6" cy="1153.4" r="0.55" fill="#3a1a1e" opacity="0.70"/><circle cx="361.2" cy="1168.6" r="0.84" fill="#242424" opacity="0.47"/><circle cx="379.1" cy="1124.3" r="0.56" fill="#242424" opacity="0.58"/><circle cx="338.9" cy="1189.4" r="0.47" fill="#2e2628" opacity="0.60"/><circle cx="366.1" cy="1177.1" r="0.65" fill="#331a1e" opacity="0.71"/><circle cx="372.4" cy="1188.3" r="0.49" fill="#242424" opacity="0.73"/><circle cx="381.1" cy="1155.2" r="0.71" fill="#331a1e" opacity="0.50"/><circle cx="324.9" cy="1183.0" r="0.57" fill="#2e2628" opacity="0.31"/><circle cx="363.3" cy="1193.9" r="0.68" fill="#2e2628" opacity="0.27"/><circle cx="407.0" cy="1135.8" r="0.71" fill="#242424" opacity="0.32"/><circle cx="335.1" cy="1185.1" r="0.54" fill="#2a2a2a" opacity="0.28"/><circle cx="336.5" cy="1157.5" r="0.78" fill="#2e2628" opacity="0.50"/><circle cx="383.0" cy="1139.5" r="0.84" fill="#242424" opacity="0.28"/><circle cx="382.0" cy="1150.5" r="0.55" fill="#2e2628" opacity="0.71"/><circle cx="396.6" cy="1150.0" r="0.81" fill="#2e2628" opacity="0.69"/><circle cx="390.8" cy="1198.7" r="0.67" fill="#2e2628" opacity="0.55"/><circle cx="400.4" cy="1189.7" r="0.74" fill="#2e2628" opacity="0.72"/><circle cx="393.5" cy="1182.5" r="0.70" fill="#2a2a2a" opacity="0.46"/><circle cx="405.2" cy="1151.4" r="0.57" fill="#242424" opacity="0.40"/><circle cx="366.7" cy="1179.3" r="0.83" fill="#2a2a2a" opacity="0.48"/><circle cx="394.6" cy="1183.6" r="0.58" fill="#2e2628" opacity="0.61"/><circle cx="368.0" cy="1137.0" r="0.75" fill="#3a1a1e" opacity="0.71"/><circle cx="393.8" cy="1190.9" r="0.51" fill="#331a1e" opacity="0.42"/><circle cx="423.5" cy="1121.2" r="0.59" fill="#242424" opacity="0.32"/><circle cx="412.3" cy="1154.8" r="0.87" fill="#2a2a2a" opacity="0.29"/><circle cx="418.5" cy="1126.5" r="0.82" fill="#2e2628" opacity="0.49"/><circle cx="379.5" cy="1165.3" r="0.68" fill="#2a2a2a" opacity="0.61"/><circle cx="420.8" cy="1146.7" r="0.49" fill="#3a1a1e" opacity="0.45"/><circle cx="362.2" cy="1190.7" r="0.75" fill="#2a2a2a" opacity="0.73"/><circle cx="335.1" cy="1165.2" r="0.64" fill="#2a2a2a" opacity="0.40"/><circle cx="371.4" cy="1178.7" r="0.86" fill="#242424" opacity="0.50"/><circle cx="329.5" cy="1162.2" r="0.47" fill="#3a1a1e" opacity="0.40"/><circle cx="422.5" cy="1157.2" r="0.66" fill="#2a2a2a" opacity="0.29"/><circle cx="383.8" cy="1136.4" r="0.75" fill="#2a2a2a" opacity="0.59"/><circle cx="353.0" cy="1143.6" r="0.46" fill="#242424" opacity="0.33"/><circle cx="353.6" cy="1182.9" r="0.45" fill="#242424" opacity="0.46"/><circle cx="391.5" cy="1153.2" r="0.53" fill="#3a1a1e" opacity="0.63"/><circle cx="400.7" cy="1173.1" r="0.60" fill="#2e2628" opacity="0.61"/><circle cx="369.7" cy="1121.6" r="0.94" fill="#3a1a1e" opacity="0.28"/><circle cx="342.0" cy="1148.0" r="0.87" fill="#331a1e" opacity="0.67"/><circle cx="385.9" cy="1120.7" r="0.83" fill="#2e2628" opacity="0.38"/><circle cx="416.8" cy="1163.4" r="0.52" fill="#2e2628" opacity="0.46"/><circle cx="360.5" cy="1184.4" r="0.73" fill="#3a1a1e" opacity="0.28"/><circle cx="363.7" cy="1171.2" r="0.51" fill="#242424" opacity="0.70"/><circle cx="329.7" cy="1136.1" r="0.56" fill="#3a1a1e" opacity="0.59"/><circle cx="422.0" cy="1147.2" r="0.54" fill="#2e2628" opacity="0.51"/><circle cx="331.7" cy="1173.7" r="0.68" fill="#242424" opacity="0.46"/><circle cx="361.1" cy="1148.8" r="0.70" fill="#242424" opacity="0.38"/><circle cx="402.0" cy="1149.5" r="0.48" fill="#331a1e" opacity="0.32"/><circle cx="408.3" cy="1147.7" r="0.46" fill="#331a1e" opacity="0.42"/><circle cx="363.1" cy="1189.7" r="0.64" fill="#331a1e" opacity="0.33"/><circle cx="388.3" cy="1195.4" r="0.86" fill="#242424" opacity="0.68"/><circle cx="329.6" cy="1176.7" r="0.78" fill="#2a2a2a" opacity="0.57"/><circle cx="362.3" cy="1173.1" r="0.65" fill="#2e2628" opacity="0.29"/><circle cx="347.4" cy="1174.9" r="0.63" fill="#2a2a2a" opacity="0.35"/><circle cx="348.9" cy="1186.1" r="0.64" fill="#2e2628" opacity="0.39"/><circle cx="354.5" cy="1188.2" r="0.86" fill="#3a1a1e" opacity="0.27"/><circle cx="418.5" cy="1179.9" r="0.83" fill="#2e2628" opacity="0.68"/><circle cx="414.2" cy="1191.7" r="0.63" fill="#331a1e" opacity="0.49"/><circle cx="337.4" cy="1149.9" r="0.63" fill="#242424" opacity="0.46"/><circle cx="320.6" cy="1140.3" r="0.94" fill="#2e2628" opacity="0.65"/><circle cx="408.9" cy="1120.5" r="0.66" fill="#2a2a2a" opacity="0.34"/><circle cx="340.2" cy="1179.9" r="0.93" fill="#2e2628" opacity="0.42"/><circle cx="376.3" cy="1154.0" r="0.51" fill="#2a2a2a" opacity="0.54"/><circle cx="414.3" cy="1185.6" r="0.67" fill="#2a2a2a" opacity="0.40"/><circle cx="414.1" cy="1164.9" r="0.55" fill="#3a1a1e" opacity="0.31"/><circle cx="423.1" cy="1125.5" r="0.88" fill="#2a2a2a" opacity="0.62"/><rect x="416.75" y="1197.40" width="8" height="1.7" fill="#ddd"/>
<rect x="431.75" y="1118.75" width="108.25" height="81.25" fill="url(#bfbase)"/><rect x="431.75" y="1118.75" width="108.25" height="81.25" fill="url(#bfcenter)" opacity="1"/><rect x="431.75" y="1118.75" width="108.25" height="81.25" fill="url(#bfright)"/><rect x="431.75" y="1118.75" width="108.25" height="81.25" fill="url(#bfblue)"/><rect x="431.75" y="1118.75" width="108.25" height="81.25" fill="url(#bftl)"/><rect x="431.75" y="1118.75" width="108.25" height="81.25" fill="url(#bfbr)"/><rect x="431.75" y="1118.75" width="108.25" height="81.25" fill="url(#bftop)"/><rect x="431.75" y="1118.75" width="108.25" height="81.25" fill="#1c3a32" opacity="0.12"/><rect x="431.75" y="1118.75" width="108.25" height="81.25" fill="#000" filter="url(#mottle)" opacity="0.13"/><rect x="431.75" y="1118.75" width="108.25" height="81.25" fill="#000" filter="url(#speck)" opacity="0.16"/><circle cx="458.5" cy="1127.7" r="0.80" fill="#2f4a44" opacity="0.19"/><circle cx="499.0" cy="1132.1" r="0.99" fill="#2f4a44" opacity="0.32"/><circle cx="464.1" cy="1125.0" r="0.90" fill="#2f4a44" opacity="0.39"/><circle cx="468.7" cy="1128.3" r="0.99" fill="#2f4a44" opacity="0.39"/><circle cx="481.9" cy="1128.7" r="0.85" fill="#2f4a44" opacity="0.41"/><circle cx="464.9" cy="1149.1" r="0.92" fill="#2f4a44" opacity="0.34"/><circle cx="530.0" cy="1169.0" r="0.54" fill="#2f4a44" opacity="0.41"/><circle cx="518.7" cy="1188.2" r="0.60" fill="#2f4a44" opacity="0.21"/><circle cx="536.1" cy="1192.9" r="0.46" fill="#2f4a44" opacity="0.14"/><circle cx="447.1" cy="1172.1" r="0.55" fill="#2f4a44" opacity="0.17"/><circle cx="487.9" cy="1195.9" r="0.69" fill="#2f4a44" opacity="0.14"/><circle cx="447.7" cy="1143.5" r="0.60" fill="#2f4a44" opacity="0.18"/><circle cx="441.6" cy="1146.7" r="0.53" fill="#2f4a44" opacity="0.18"/><circle cx="441.9" cy="1164.6" r="0.85" fill="#2f4a44" opacity="0.23"/><circle cx="444.5" cy="1153.3" r="0.45" fill="#2f4a44" opacity="0.16"/><circle cx="460.7" cy="1191.2" r="0.43" fill="#2f4a44" opacity="0.27"/><circle cx="434.4" cy="1148.0" r="0.99" fill="#2f4a44" opacity="0.37"/><circle cx="482.6" cy="1140.8" r="0.56" fill="#2f4a44" opacity="0.28"/><circle cx="479.4" cy="1140.8" r="0.42" fill="#2f4a44" opacity="0.35"/><circle cx="538.7" cy="1195.8" r="0.70" fill="#2f4a44" opacity="0.24"/><circle cx="445.2" cy="1197.9" r="0.66" fill="#2f4a44" opacity="0.14"/><circle cx="535.6" cy="1171.3" r="0.85" fill="#2f4a44" opacity="0.28"/><circle cx="455.6" cy="1183.2" r="0.85" fill="#2f4a44" opacity="0.27"/><circle cx="532.5" cy="1134.1" r="0.98" fill="#2f4a44" opacity="0.29"/><circle cx="444.7" cy="1185.9" r="0.92" fill="#2f4a44" opacity="0.37"/><rect x="530.50" y="1197.40" width="8" height="1.7" fill="#e8eeec"/>
<text transform="translate(315.0,1156.7) rotate(-90) scale(0.997,1)" font-family="Liberation Sans, sans-serif" font-size="14" text-anchor="middle">400</text>
<path d="M111.5,978.5 Q118,970.5 126.5,975" stroke="#6a1624" stroke-width="1.3" fill="none" opacity="0.75" filter="url(#wblur)"/>
<circle cx="86" cy="982" r="2.2" fill="#3a0e16" opacity="0.6" filter="url(#wblur)"/>
<circle cx="124" cy="996" r="2.5" fill="#2e0c12" opacity="0.6" filter="url(#wblur)"/>
<circle cx="356" cy="1144" r="2.6" fill="#5a1420" opacity="0.6" filter="url(#wblur)"/>
<circle cx="360" cy="1149" r="1.8" fill="#4a1018" opacity="0.6" filter="url(#wblur)"/>
</svg>
</body></html>
